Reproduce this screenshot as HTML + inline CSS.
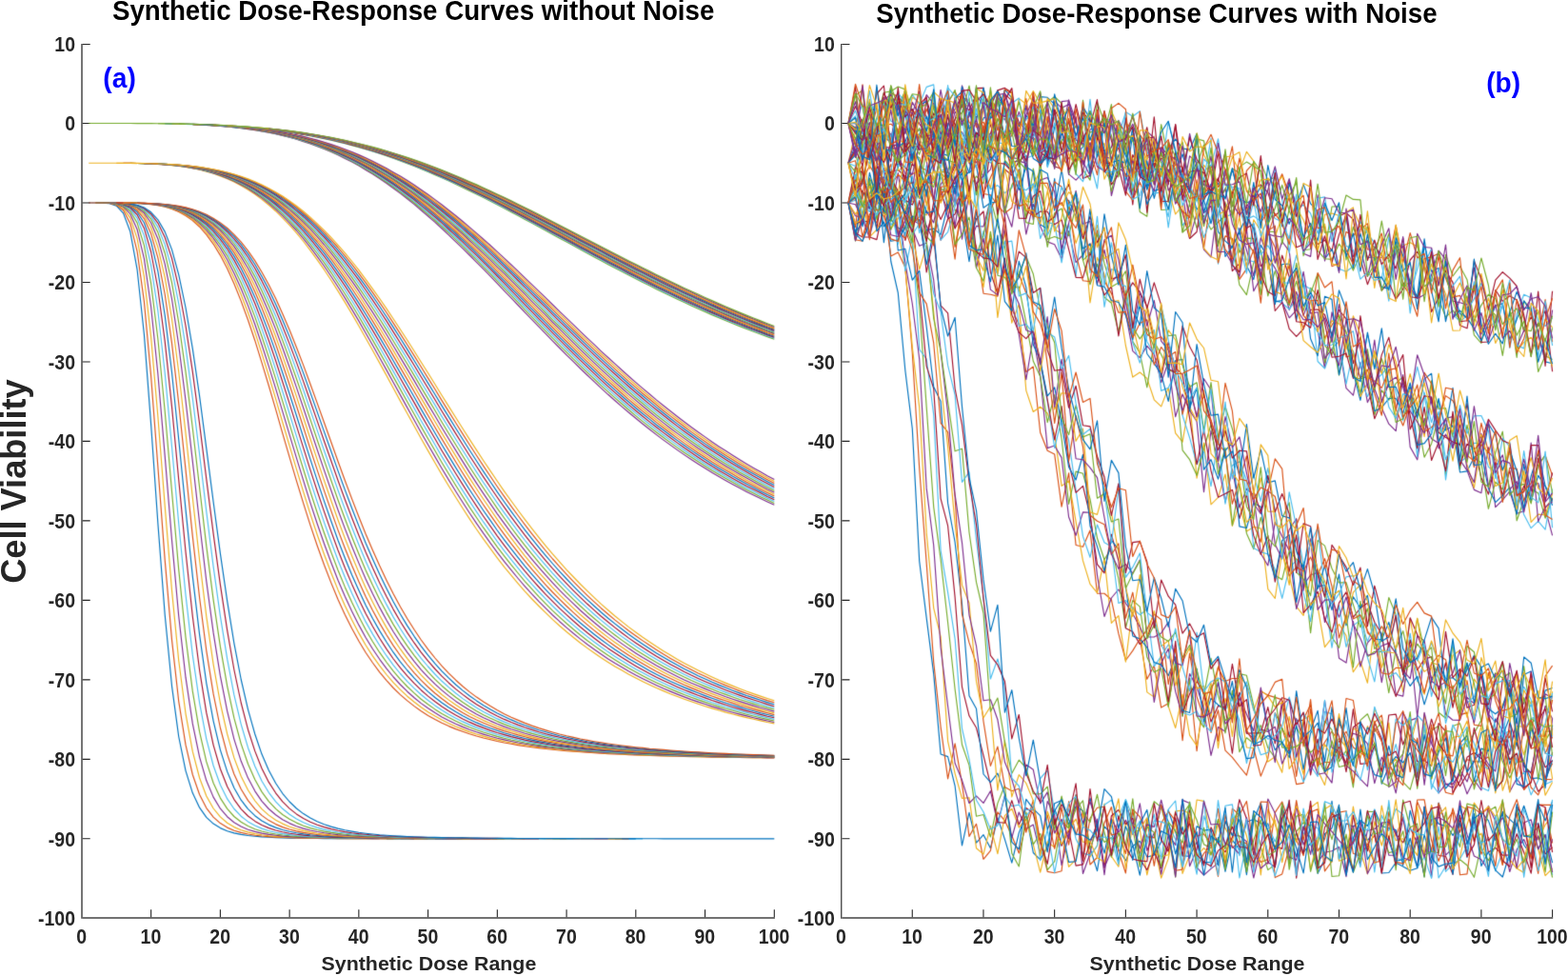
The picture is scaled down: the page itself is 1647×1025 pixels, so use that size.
<!DOCTYPE html>
<html lang="en"><head><meta charset="utf-8"><title>Synthetic Dose-Response Curves</title>
<style>html,body{margin:0;padding:0;background:#fff}svg{display:block}text{font-family:"Liberation Sans",Arial,Helvetica,sans-serif;font-weight:bold}</style></head><body>
<svg width="1647" height="1025" viewBox="0 0 1647 1025">
<rect width="1647" height="1025" fill="#fff"/>
<defs><filter id="b" x="0" y="0" width="1647" height="1025" filterUnits="userSpaceOnUse" color-interpolation-filters="sRGB"><feConvolveMatrix order="3" kernelMatrix="0.0121 0.0858 0.0121 0.0858 0.6084 0.0858 0.0121 0.0858 0.0121" divisor="1" edgeMode="none" preserveAlpha="false"/></filter></defs>
<g fill="none">
<path d="M86.00 45.90 V964.64" stroke="#262626" stroke-width="1.28"/>
<path d="M86.64 964.00 H813.90" stroke="#434343" stroke-width="1.28"/>
</g>
<g stroke="#262626" stroke-width="1.1" fill="none">
<path d="M158.64 963.36 v-8.06M231.38 963.36 v-8.06M304.12 963.36 v-8.06M376.86 963.36 v-8.06M449.60 963.36 v-8.06M522.34 963.36 v-8.06M595.08 963.36 v-8.06M667.82 963.36 v-8.06M740.56 963.36 v-8.06M813.30 963.36 v-8.06M86.64 880.82 h8.06M86.64 797.34 h8.06M86.64 713.85 h8.06M86.64 630.37 h8.06M86.64 546.89 h8.06M86.64 463.41 h8.06M86.64 379.93 h8.06M86.64 296.45 h8.06M86.64 212.96 h8.06M86.64 129.48 h8.06M86.64 46.50 h8.06"/>
</g>
<text transform="translate(85.70 990.60) scale(1 1.1170)" font-size="19.5" text-anchor="middle" fill="#262626">0</text>
<text transform="translate(158.44 990.60) scale(1 1.1170)" font-size="19.5" text-anchor="middle" fill="#262626">10</text>
<text transform="translate(231.18 990.60) scale(1 1.1170)" font-size="19.5" text-anchor="middle" fill="#262626">20</text>
<text transform="translate(303.92 990.60) scale(1 1.1170)" font-size="19.5" text-anchor="middle" fill="#262626">30</text>
<text transform="translate(376.66 990.60) scale(1 1.1170)" font-size="19.5" text-anchor="middle" fill="#262626">40</text>
<text transform="translate(449.40 990.60) scale(1 1.1170)" font-size="19.5" text-anchor="middle" fill="#262626">50</text>
<text transform="translate(522.14 990.60) scale(1 1.1170)" font-size="19.5" text-anchor="middle" fill="#262626">60</text>
<text transform="translate(594.88 990.60) scale(1 1.1170)" font-size="19.5" text-anchor="middle" fill="#262626">70</text>
<text transform="translate(667.62 990.60) scale(1 1.1170)" font-size="19.5" text-anchor="middle" fill="#262626">80</text>
<text transform="translate(740.36 990.60) scale(1 1.1170)" font-size="19.5" text-anchor="middle" fill="#262626">90</text>
<text transform="translate(813.10 990.60) scale(1 1.1170)" font-size="19.5" text-anchor="middle" fill="#262626">100</text>
<text transform="translate(79.00 972.20) scale(1 1.1170)" font-size="19.5" text-anchor="end" fill="#262626">-100</text>
<text transform="translate(79.00 888.72) scale(1 1.1170)" font-size="19.5" text-anchor="end" fill="#262626">-90</text>
<text transform="translate(79.00 805.24) scale(1 1.1170)" font-size="19.5" text-anchor="end" fill="#262626">-80</text>
<text transform="translate(79.00 721.75) scale(1 1.1170)" font-size="19.5" text-anchor="end" fill="#262626">-70</text>
<text transform="translate(79.00 638.27) scale(1 1.1170)" font-size="19.5" text-anchor="end" fill="#262626">-60</text>
<text transform="translate(79.00 554.79) scale(1 1.1170)" font-size="19.5" text-anchor="end" fill="#262626">-50</text>
<text transform="translate(79.00 471.31) scale(1 1.1170)" font-size="19.5" text-anchor="end" fill="#262626">-40</text>
<text transform="translate(79.00 387.83) scale(1 1.1170)" font-size="19.5" text-anchor="end" fill="#262626">-30</text>
<text transform="translate(79.00 304.35) scale(1 1.1170)" font-size="19.5" text-anchor="end" fill="#262626">-20</text>
<text transform="translate(79.00 220.86) scale(1 1.1170)" font-size="19.5" text-anchor="end" fill="#262626">-10</text>
<text transform="translate(79.00 137.38) scale(1 1.1170)" font-size="19.5" text-anchor="end" fill="#262626">0</text>
<text transform="translate(79.00 53.90) scale(1 1.1170)" font-size="19.5" text-anchor="end" fill="#262626">10</text>
<g fill="none" stroke-width="1.15" stroke-linejoin="round" filter="url(#b)">
<path d="M93.2,213.0 100.4,213.0 107.7,213.1 115.0,213.7 122.3,216.2 129.5,223.9 136.8,243.3 144.1,283.2 151.4,351.3 158.6,445.4 165.9,550.0 173.2,645.5 180.5,720.3 187.7,773.5 195.0,809.3 202.3,832.8 209.6,848.2 216.8,858.3 224.1,865.1 231.4,869.6 238.7,872.7 245.9,874.9 253.2,876.4 260.5,877.5 267.8,878.3 275.0,878.9 282.3,879.3 289.6,879.7 296.8,879.9 304.1,880.1 311.4,880.2 318.7,880.3 325.9,880.4 333.2,880.5 340.5,880.6 347.8,880.6 355.0,880.6 362.3,880.7 369.6,880.7 376.9,880.7 384.1,880.7 391.4,880.7 398.7,880.8M406.0,880.8 413.2,880.8 420.5,880.8 427.8,880.8 435.1,880.8M464.1,880.8 471.4,880.8 478.7,880.8 486.0,880.8M551.4,880.8 558.7,880.8 566.0,880.8 573.3,880.8" stroke="#0072BD"/>
<path d="M100.4,213.0 107.7,213.0 115.0,213.5 122.3,215.3 129.5,220.8 136.8,234.7 144.1,264.1 151.4,316.6 158.6,394.7 165.9,490.6 173.2,587.9 180.5,671.9 187.7,736.3 195.0,782.2 202.3,813.5 209.6,834.5 216.8,848.6 224.1,858.1 231.4,864.6 238.7,869.1 245.9,872.2 253.2,874.4 260.5,876.0 267.8,877.2 275.0,878.0 282.3,878.6 289.6,879.1 296.8,879.5 304.1,879.7 311.4,880.0 318.7,880.1 325.9,880.3 333.2,880.4 340.5,880.4 347.8,880.5 355.0,880.6 362.3,880.6 369.6,880.6 376.9,880.7 384.1,880.7 391.4,880.7 398.7,880.7 406.0,880.7 413.2,880.7M420.5,880.8 427.8,880.8 435.1,880.8 442.3,880.8 449.6,880.8M478.7,880.8 486.0,880.8 493.2,880.8 500.5,880.8" stroke="#D95319"/>
<path d="M100.4,213.0 107.7,213.0 115.0,213.3 122.3,214.7 129.5,218.7 136.8,228.8 144.1,250.6 151.4,290.7 158.6,353.9 165.9,437.8 173.2,531.3 180.5,619.9 187.7,693.5 195.0,749.3 202.3,789.2 209.6,817.0 216.8,836.0 224.1,849.0 231.4,857.9 238.7,864.2 245.9,868.6 253.2,871.7 260.5,873.9 267.8,875.6 275.0,876.8 282.3,877.7 289.6,878.4 296.8,878.9 304.1,879.3 311.4,879.6 318.7,879.8 325.9,880.0 333.2,880.1 340.5,880.3 347.8,880.4 355.0,880.4 362.3,880.5 369.6,880.6 376.9,880.6 384.1,880.6 391.4,880.7 398.7,880.7 406.0,880.7 413.2,880.7 420.5,880.7M435.1,880.8 442.3,880.8 449.6,880.8 456.9,880.8 464.1,880.8" stroke="#EDB120"/>
<path d="M107.7,213.0 115.0,213.2 122.3,214.2 129.5,217.2 136.8,224.7 144.1,241.0 151.4,271.7 158.6,322.0 165.9,393.0 173.2,478.6 180.5,567.0 187.7,646.7 195.0,711.2 202.3,759.9 209.6,795.1 216.8,819.8 224.1,837.1 231.4,849.2 238.7,857.7 245.9,863.7 253.2,868.0 260.5,871.2 267.8,873.4 275.0,875.1 282.3,876.4 289.6,877.3 296.8,878.1 304.1,878.6 311.4,879.1 318.7,879.4 325.9,879.7 333.2,879.9 340.5,880.0 347.8,880.2 355.0,880.3 362.3,880.4 369.6,880.4 376.9,880.5 384.1,880.5 391.4,880.6 398.7,880.6 406.0,880.6 413.2,880.7 420.5,880.7 427.8,880.7 435.1,880.7M456.9,880.8 464.1,880.8 471.4,880.8 478.7,880.8M493.2,880.8 500.5,880.8 507.8,880.8 515.1,880.8M587.8,880.8 595.1,880.8 602.4,880.8 609.6,880.8" stroke="#7E2F8E"/>
<path d="M100.4,213.0 107.7,213.0 115.0,213.2 122.3,213.9 129.5,216.2 136.8,221.8 144.1,234.1 151.4,257.7 158.6,297.4 165.9,356.2 173.2,431.8 180.5,516.0 187.7,597.9 195.0,669.1 202.3,725.9 209.6,768.7 216.8,799.9 224.1,822.2 231.4,838.1 238.7,849.4 245.9,857.5 253.2,863.3 260.5,867.5 267.8,870.7 275.0,873.0 282.3,874.7 289.6,876.0 296.8,877.0 304.1,877.8 311.4,878.4 318.7,878.8 325.9,879.2 333.2,879.5 340.5,879.7 347.8,879.9 355.0,880.1 362.3,880.2 369.6,880.3 376.9,880.4 384.1,880.4 391.4,880.5 398.7,880.5 406.0,880.6 413.2,880.6 420.5,880.6 427.8,880.7 435.1,880.7 442.3,880.7 449.6,880.7 456.9,880.7 464.1,880.7 471.4,880.7 478.7,880.8 486.0,880.8 493.2,880.8M507.8,880.8 515.1,880.8 522.3,880.8 529.6,880.8" stroke="#77AC30"/>
<path d="M107.7,213.0 115.0,213.1 122.3,213.7 129.5,215.4 136.8,219.7 144.1,229.2 151.4,247.4 158.6,278.7 165.9,326.7 173.2,391.8 180.5,469.0 187.7,549.5 195.0,624.5 202.3,687.9 209.6,738.1 216.8,776.1 224.1,804.0 231.4,824.3 238.7,838.9 245.9,849.5 253.2,857.2 260.5,862.9 267.8,867.0 275.0,870.1 282.3,872.5 289.6,874.2 296.8,875.6 304.1,876.6 311.4,877.5 318.7,878.1 325.9,878.6 333.2,879.0 340.5,879.3 347.8,879.6 355.0,879.8 362.3,879.9 369.6,880.1 376.9,880.2 384.1,880.3 391.4,880.4 398.7,880.4 406.0,880.5 413.2,880.5 420.5,880.6 427.8,880.6 435.1,880.6 442.3,880.7 449.6,880.7 456.9,880.7 464.1,880.7 471.4,880.7 478.7,880.7 486.0,880.7 493.2,880.8 500.5,880.8 507.8,880.8M522.3,880.8 529.6,880.8 536.9,880.8 544.2,880.8 551.4,880.8M580.5,880.8 587.8,880.8 595.1,880.8 602.4,880.8M653.3,880.8 660.5,880.8 667.8,880.8 675.1,880.8" stroke="#4DBEEE"/>
<path d="M107.7,213.0 115.0,213.1 122.3,213.5 129.5,214.9 136.8,218.2 144.1,225.5 151.4,239.7 158.6,264.5 165.9,303.5 173.2,358.4 180.5,427.1 187.7,503.5 195.0,579.2 202.3,647.2 209.6,703.8 216.8,748.4 224.1,782.3 231.4,807.5 238.7,826.0 245.9,839.6 253.2,849.6 260.5,857.0 267.8,862.4 275.0,866.5 282.3,869.6 289.6,872.0 296.8,873.8 304.1,875.2 311.4,876.3 318.7,877.1 325.9,877.8 333.2,878.3 340.5,878.8 347.8,879.1 355.0,879.4 362.3,879.6 369.6,879.8 376.9,880.0 384.1,880.1 391.4,880.2 398.7,880.3 406.0,880.4 413.2,880.4 420.5,880.5 427.8,880.5 435.1,880.6 442.3,880.6 449.6,880.6 456.9,880.6 464.1,880.7 471.4,880.7 478.7,880.7 486.0,880.7 493.2,880.7 500.5,880.7 507.8,880.7 515.1,880.8 522.3,880.8M536.9,880.8 544.2,880.8 551.4,880.8 558.7,880.8 566.0,880.8" stroke="#A2142F"/>
<path d="M100.4,213.0 107.7,213.0 115.0,213.1 122.3,213.4 129.5,214.5 136.8,217.1 144.1,222.8 151.4,234.0 158.6,253.6 165.9,285.2 173.2,331.1 180.5,391.0 187.7,461.2 195.0,534.9 202.3,605.1 209.6,666.6 216.8,717.3 224.1,757.1 231.4,787.6 238.7,810.4 245.9,827.5 253.2,840.2 260.5,849.6 267.8,856.7 275.0,862.0 282.3,866.1 289.6,869.1 296.8,871.5 304.1,873.3 311.4,874.8 318.7,875.9 325.9,876.8 333.2,877.5 340.5,878.1 347.8,878.5 355.0,878.9 362.3,879.2 369.6,879.5 376.9,879.7 384.1,879.8 391.4,880.0 398.7,880.1 406.0,880.2 413.2,880.3 420.5,880.4 427.8,880.4 435.1,880.5 442.3,880.5 449.6,880.6 456.9,880.6 464.1,880.6 471.4,880.6 478.7,880.7 486.0,880.7 493.2,880.7 500.5,880.7 507.8,880.7 515.1,880.7 522.3,880.7 529.6,880.7 536.9,880.8M646.0,880.8 653.3,880.8 660.5,880.8 667.8,880.8" stroke="#0072BD"/>
<path d="M115.0,213.0 122.3,213.3 129.5,214.2 136.8,216.2 144.1,220.8 151.4,229.6 158.6,245.3 165.9,270.9 173.2,309.0 180.5,360.4 187.7,423.4 195.0,493.1 202.3,563.1 209.6,627.7 216.8,683.3 224.1,728.7 231.4,764.5 238.7,792.1 245.9,813.0 253.2,828.8 260.5,840.6 267.8,849.6 275.0,856.4 282.3,861.6 289.6,865.6 296.8,868.6 304.1,871.0 311.4,872.9 318.7,874.4 325.9,875.5 333.2,876.5 340.5,877.2 347.8,877.8 355.0,878.3 362.3,878.7 369.6,879.0 376.9,879.3 384.1,879.5 391.4,879.7 398.7,879.9 406.0,880.0 413.2,880.1 420.5,880.2 427.8,880.3 435.1,880.4 442.3,880.4 449.6,880.5 456.9,880.5 464.1,880.5 471.4,880.6 478.7,880.6 486.0,880.6 493.2,880.7 500.5,880.7 507.8,880.7 515.1,880.7 522.3,880.7 529.6,880.7M573.3,880.8 580.5,880.8 587.8,880.8 595.1,880.8M638.7,880.8 646.0,880.8 653.3,880.8 660.5,880.8" stroke="#D95319"/>
<path d="M107.7,213.0 115.0,213.0 122.3,213.3 129.5,213.9 136.8,215.6 144.1,219.2 151.4,226.3 158.6,239.0 165.9,259.8 173.2,291.2 180.5,335.0 187.7,390.5 195.0,454.8 202.3,522.5 209.6,588.2 216.8,647.3 224.1,697.6 231.4,738.5 238.7,770.9 245.9,795.9 253.2,815.2 260.5,829.8 267.8,841.0 275.0,849.6 282.3,856.1 289.6,861.2 296.8,865.1 304.1,868.2 311.4,870.5 318.7,872.4 325.9,873.9 333.2,875.2 340.5,876.1 347.8,876.9 355.0,877.5 362.3,878.1 369.6,878.5 376.9,878.8 384.1,879.1 391.4,879.4 398.7,879.6 406.0,879.8 413.2,879.9 420.5,880.0 427.8,880.1 435.1,880.2 442.3,880.3 449.6,880.4 456.9,880.4 464.1,880.5 471.4,880.5 478.7,880.5 486.0,880.6 493.2,880.6 500.5,880.6 507.8,880.6 515.1,880.7 522.3,880.7 529.6,880.7 536.9,880.7 544.2,880.7 551.4,880.7 558.7,880.7 566.0,880.7 573.3,880.7 580.5,880.8 587.8,880.8M624.2,880.8 631.4,880.8 638.7,880.8 646.0,880.8 653.3,880.8" stroke="#EDB120"/>
<path d="M115.0,213.0 122.3,213.2 129.5,213.8 136.8,215.1 144.1,218.0 151.4,223.8 158.6,234.0 165.9,251.0 173.2,277.1 180.5,314.0 187.7,362.4 195.0,420.5 202.3,484.4 209.6,549.3 216.8,610.3 224.1,664.4 231.4,709.9 238.7,746.9 245.9,776.3 253.2,799.3 260.5,817.1 267.8,830.8 275.0,841.3 282.3,849.5 289.6,855.8 296.8,860.8 304.1,864.6 311.4,867.7 318.7,870.1 325.9,872.0 333.2,873.5 340.5,874.8 347.8,875.8 355.0,876.6 362.3,877.2 369.6,877.8 376.9,878.3 384.1,878.6 391.4,878.9 398.7,879.2 406.0,879.4 413.2,879.6 420.5,879.8 427.8,879.9 435.1,880.0 442.3,880.1 449.6,880.2 456.9,880.3 464.1,880.3 471.4,880.4 478.7,880.5 486.0,880.5 493.2,880.5 500.5,880.6 507.8,880.6 515.1,880.6 522.3,880.6 529.6,880.7 536.9,880.7 544.2,880.7 551.4,880.7 558.7,880.7 566.0,880.7M609.6,880.8 616.9,880.8 624.2,880.8 631.4,880.8 638.7,880.8" stroke="#7E2F8E"/>
<path d="M107.7,213.0 115.0,213.0 122.3,213.2 129.5,213.6 136.8,214.7 144.1,217.1 151.4,221.8 158.6,230.2 165.9,244.1 173.2,265.7 180.5,296.9 187.7,338.6 195.0,390.3 202.3,449.5 209.6,512.0 216.8,573.4 224.1,629.9 231.4,679.2 238.7,720.6 245.9,754.2 253.2,781.1 260.5,802.2 267.8,818.7 275.0,831.6 282.3,841.6 289.6,849.4 296.8,855.5 304.1,860.3 311.4,864.1 318.7,867.2 325.9,869.6 333.2,871.5 340.5,873.1 347.8,874.4 355.0,875.4 362.3,876.3 369.6,877.0 376.9,877.5 384.1,878.0 391.4,878.4 398.7,878.8 406.0,879.0 413.2,879.3 420.5,879.5 427.8,879.7 435.1,879.8 442.3,879.9 449.6,880.0 456.9,880.1 464.1,880.2 471.4,880.3 478.7,880.3 486.0,880.4 493.2,880.4 500.5,880.5 507.8,880.5 515.1,880.5 522.3,880.6 529.6,880.6 536.9,880.6 544.2,880.6 551.4,880.7M580.5,880.7 587.8,880.7 595.1,880.7 602.4,880.7 609.6,880.7 616.9,880.7 624.2,880.8" stroke="#77AC30"/>
<path d="M115.0,213.0 122.3,213.1 129.5,213.5 136.8,214.4 144.1,216.4 151.4,220.2 158.6,227.1 165.9,238.6 173.2,256.6 180.5,282.9 187.7,318.7 195.0,364.3 202.3,418.1 209.6,477.1 216.8,537.3 224.1,594.9 231.4,647.1 238.7,692.2 245.9,729.9 253.2,760.6 260.5,785.2 267.8,804.8 275.0,820.2 282.3,832.3 289.6,841.8 296.8,849.3 304.1,855.2 311.4,859.9 318.7,863.7 325.9,866.7 333.2,869.1 340.5,871.1 347.8,872.7 355.0,874.0 362.3,875.0 369.6,875.9 376.9,876.6 384.1,877.3 391.4,877.8 398.7,878.2 406.0,878.5 413.2,878.9 420.5,879.1 427.8,879.3 435.1,879.5 442.3,879.7 449.6,879.8 456.9,879.9 464.1,880.0 471.4,880.1 478.7,880.2 486.0,880.3 493.2,880.3 500.5,880.4 507.8,880.4 515.1,880.5 522.3,880.5 529.6,880.5 536.9,880.6 544.2,880.6 551.4,880.6 558.7,880.6 566.0,880.6 573.3,880.7 580.5,880.7 587.8,880.7 595.1,880.7" stroke="#4DBEEE"/>
<path d="M122.3,213.1 129.5,213.4 136.8,214.2 144.1,215.8 151.4,219.0 158.6,224.7 165.9,234.3 173.2,249.3 180.5,271.4 187.7,302.1 195.0,342.0 202.3,390.3 209.6,445.1 216.8,503.0 224.1,560.4 231.4,614.2 238.7,662.2 245.9,703.5 253.2,738.0 260.5,766.2 267.8,788.9 275.0,807.0 282.3,821.4 289.6,832.8 296.8,841.9 304.1,849.1 311.4,854.9 318.7,859.5 325.9,863.2 333.2,866.2 340.5,868.6 347.8,870.6 355.0,872.2 362.3,873.6 369.6,874.7 376.9,875.6 384.1,876.3 391.4,877.0 398.7,877.5 406.0,878.0 413.2,878.3 420.5,878.7 427.8,878.9 435.1,879.2 442.3,879.4 449.6,879.5 456.9,879.7 464.1,879.8 471.4,879.9 478.7,880.0 486.0,880.1 493.2,880.2 500.5,880.3 507.8,880.3 515.1,880.4 522.3,880.4 529.6,880.5 536.9,880.5 544.2,880.5 551.4,880.6" stroke="#A2142F"/>
<path d="M107.7,213.0 115.0,213.0 122.3,213.1 129.5,213.4 136.8,214.0 144.1,215.4 151.4,218.0 158.6,222.8 165.9,230.8 173.2,243.4 180.5,262.1 187.7,288.4 195.0,323.0 202.3,366.1 209.6,416.2 216.8,470.9 224.1,527.0 231.4,581.3 238.7,631.4 245.9,675.6 253.2,713.5 260.5,745.1 267.8,771.0 275.0,792.1 282.3,809.0 289.6,822.5 296.8,833.3 304.1,842.0 311.4,849.0 318.7,854.6 325.9,859.1 333.2,862.7 340.5,865.7 347.8,868.1 355.0,870.1 362.3,871.8 369.6,873.1 376.9,874.3 384.1,875.2 391.4,876.0 398.7,876.7 406.0,877.2 413.2,877.7 420.5,878.1 427.8,878.5 435.1,878.8 442.3,879.0 449.6,879.2 456.9,879.4 464.1,879.6 471.4,879.7 478.7,879.8 486.0,879.9 493.2,880.0 500.5,880.1 507.8,880.2 515.1,880.3 522.3,880.3 529.6,880.4 536.9,880.4 544.2,880.5 551.4,880.5 558.7,880.5 566.0,880.5 573.3,880.6 580.5,880.6 587.8,880.6 595.1,880.6 602.4,880.6 609.6,880.7 616.9,880.7 624.2,880.7 631.4,880.7 638.7,880.7 646.0,880.7 653.3,880.7 660.5,880.7 667.8,880.7 675.1,880.7 682.4,880.7 689.6,880.8 696.9,880.8 704.2,880.8 711.5,880.8 718.7,880.8 726.0,880.8 733.3,880.8 740.6,880.8 747.8,880.8 755.1,880.8 762.4,880.8 769.7,880.8 776.9,880.8 784.2,880.8 791.5,880.8 798.8,880.8 806.0,880.8 813.3,880.8" stroke="#0072BD"/>
<path d="M122.3,213.0 129.5,213.1 136.8,213.2 144.1,213.5 151.4,214.0 158.6,214.7 165.9,215.7 173.2,217.3 180.5,219.5 187.7,222.5 195.0,226.5 202.3,231.6 209.6,238.2 216.8,246.3 224.1,256.3 231.4,268.1 238.7,282.0 245.9,298.0 253.2,316.1 260.5,336.0 267.8,357.7 275.0,380.8 282.3,405.0 289.6,429.9 296.8,455.1 304.1,480.1 311.4,504.8 318.7,528.6 325.9,551.4 333.2,573.0 340.5,593.3 347.8,612.1 355.0,629.5 362.3,645.5 369.6,660.0 376.9,673.2 384.1,685.2 391.4,696.0 398.7,705.8 406.0,714.6 413.2,722.5 420.5,729.6 427.8,735.9 435.1,741.6 442.3,746.8 449.6,751.4 456.9,755.5 464.1,759.2 471.4,762.6 478.7,765.6 486.0,768.3 493.2,770.8 500.5,773.0 507.8,775.0 515.1,776.8 522.3,778.5 529.6,780.0 536.9,781.3 544.2,782.6 551.4,783.7 558.7,784.7 566.0,785.6 573.3,786.5 580.5,787.3 587.8,788.0 595.1,788.7 602.4,789.3 609.6,789.8 616.9,790.3 624.2,790.8 631.4,791.2 638.7,791.6 646.0,792.0 653.3,792.3 660.5,792.6 667.8,792.9 675.1,793.2 682.4,793.5 689.6,793.7 696.9,793.9 704.2,794.1 711.5,794.3 718.7,794.5 726.0,794.6 733.3,794.8 740.6,794.9 747.8,795.1 755.1,795.2 762.4,795.3 769.7,795.4 776.9,795.5 784.2,795.6 791.5,795.7 798.8,795.8 806.0,795.9 813.3,795.9" stroke="#D95319"/>
<path d="M129.5,213.1 136.8,213.2 144.1,213.5 151.4,213.9 158.6,214.5 165.9,215.5 173.2,217.0 180.5,219.0 187.7,221.8 195.0,225.4 202.3,230.2 209.6,236.3 216.8,243.9 224.1,253.1 231.4,264.2 238.7,277.2 245.9,292.2 253.2,309.3 260.5,328.2 267.8,348.9 275.0,371.1 282.3,394.5 289.6,418.8 296.8,443.5 304.1,468.2 311.4,492.7 318.7,516.6 325.9,539.6 333.2,561.5 340.5,582.2 347.8,601.5 355.0,619.4 362.3,635.9 369.6,651.1 376.9,664.9 384.1,677.5 391.4,688.9 398.7,699.2 406.0,708.5 413.2,716.9 420.5,724.4 427.8,731.2 435.1,737.3 442.3,742.8 449.6,747.7 456.9,752.1 464.1,756.1 471.4,759.7 478.7,763.0 486.0,765.9 493.2,768.6 500.5,771.0 507.8,773.1 515.1,775.1 522.3,776.9 529.6,778.5 536.9,780.0 544.2,781.3 551.4,782.5 558.7,783.6 566.0,784.6 573.3,785.6 580.5,786.4 587.8,787.2 595.1,787.9 602.4,788.6 609.6,789.2 616.9,789.7 624.2,790.2 631.4,790.7 638.7,791.1 646.0,791.5 653.3,791.9 660.5,792.2 667.8,792.6 675.1,792.9 682.4,793.1 689.6,793.4 696.9,793.6 704.2,793.8 711.5,794.0 718.7,794.2 726.0,794.4 733.3,794.6 740.6,794.7 747.8,794.9 755.1,795.0 762.4,795.1 769.7,795.2 776.9,795.4 784.2,795.5 791.5,795.6 798.8,795.6 806.0,795.7 813.3,795.8" stroke="#EDB120"/>
<path d="M144.1,213.4 151.4,213.8 158.6,214.4 165.9,215.3 173.2,216.7 180.5,218.5 187.7,221.1 195.0,224.5 202.3,228.9 209.6,234.6 216.8,241.6 224.1,250.2 231.4,260.5 238.7,272.7 245.9,286.9 253.2,303.0 260.5,320.9 267.8,340.7 275.0,362.0 282.3,384.6 289.6,408.1 296.8,432.2 304.1,456.6 311.4,480.9 318.7,504.7 325.9,527.8 333.2,550.0 340.5,571.0 347.8,590.7 355.0,609.2 362.3,626.2 369.6,642.0 376.9,656.4 384.1,669.5 391.4,681.5 398.7,692.3 406.0,702.1 413.2,711.0 420.5,719.0 427.8,726.2 435.1,732.7 442.3,738.6 449.6,743.8 456.9,748.6 464.1,752.9 471.4,756.7 478.7,760.2 486.0,763.4 493.2,766.2 500.5,768.8 507.8,771.1 515.1,773.3 522.3,775.2 529.6,776.9 536.9,778.5 544.2,780.0 551.4,781.3 558.7,782.5 566.0,783.6 573.3,784.6 580.5,785.5 587.8,786.3 595.1,787.1 602.4,787.8 609.6,788.5 616.9,789.1 624.2,789.6 631.4,790.1 638.7,790.6 646.0,791.0 653.3,791.4 660.5,791.8 667.8,792.1 675.1,792.5 682.4,792.8 689.6,793.0 696.9,793.3 704.2,793.5 711.5,793.8 718.7,794.0 726.0,794.1 733.3,794.3 740.6,794.5 747.8,794.7 755.1,794.8 762.4,794.9 769.7,795.1 776.9,795.2 784.2,795.3 791.5,795.4 798.8,795.5 806.0,795.6 813.3,795.7" stroke="#7E2F8E"/>
<path d="M136.8,213.2 144.1,213.4 151.4,213.7 158.6,214.3 165.9,215.2 173.2,216.4 180.5,218.1 187.7,220.5 195.0,223.7 202.3,227.8 209.6,233.0 216.8,239.5 224.1,247.5 231.4,257.2 238.7,268.6 245.9,281.9 253.2,297.1 260.5,314.1 267.8,332.9 275.0,353.3 282.3,375.1 289.6,397.9 296.8,421.4 304.1,445.4 311.4,469.3 318.7,493.0 325.9,516.2 333.2,538.5 340.5,559.8 347.8,579.9 355.0,598.8 362.3,616.4 369.6,632.6 376.9,647.6 384.1,661.3 391.4,673.8 398.7,685.2 406.0,695.5 413.2,704.9 420.5,713.4 427.8,721.0 435.1,727.9 442.3,734.2 449.6,739.8 456.9,744.9 464.1,749.4 471.4,753.6 478.7,757.3 486.0,760.7 493.2,763.8 500.5,766.5 507.8,769.0 515.1,771.3 522.3,773.4 529.6,775.3 536.9,777.0 544.2,778.5 551.4,780.0 558.7,781.2 566.0,782.4 573.3,783.5 580.5,784.5 587.8,785.4 595.1,786.3 602.4,787.0 609.6,787.7 616.9,788.4 624.2,789.0 631.4,789.5 638.7,790.0 646.0,790.5 653.3,790.9 660.5,791.3 667.8,791.7 675.1,792.1 682.4,792.4 689.6,792.7 696.9,792.9 704.2,793.2 711.5,793.4 718.7,793.7 726.0,793.9 733.3,794.1 740.6,794.3 747.8,794.4 755.1,794.6 762.4,794.7 769.7,794.9 776.9,795.0 784.2,795.1 791.5,795.2 798.8,795.3 806.0,795.4 813.3,795.5" stroke="#77AC30"/>
<path d="M129.5,213.1 136.8,213.2 144.1,213.4 151.4,213.7 158.6,214.2 165.9,215.0 173.2,216.1 180.5,217.8 187.7,219.9 195.0,222.9 202.3,226.7 209.6,231.5 216.8,237.6 224.1,245.1 231.4,254.1 238.7,264.8 245.9,277.3 253.2,291.6 260.5,307.8 267.8,325.6 275.0,345.1 282.3,366.0 289.6,388.1 296.8,411.0 304.1,434.5 311.4,458.1 318.7,481.6 325.9,504.7 333.2,527.1 340.5,548.6 347.8,569.0 355.0,588.3 362.3,606.3 369.6,623.1 376.9,638.6 384.1,652.9 391.4,665.9 398.7,677.8 406.0,688.7 413.2,698.6 420.5,707.5 427.8,715.6 435.1,722.9 442.3,729.5 449.6,735.5 456.9,740.9 464.1,745.8 471.4,750.2 478.7,754.2 486.0,757.9 493.2,761.1 500.5,764.1 507.8,766.8 515.1,769.3 522.3,771.5 529.6,773.5 536.9,775.3 544.2,777.0 551.4,778.5 558.7,779.9 566.0,781.2 573.3,782.4 580.5,783.5 587.8,784.4 595.1,785.3 602.4,786.2 609.6,786.9 616.9,787.6 624.2,788.3 631.4,788.9 638.7,789.4 646.0,789.9 653.3,790.4 660.5,790.8 667.8,791.2 675.1,791.6 682.4,792.0 689.6,792.3 696.9,792.6 704.2,792.9 711.5,793.1 718.7,793.4 726.0,793.6 733.3,793.8 740.6,794.0 747.8,794.2 755.1,794.4 762.4,794.5 769.7,794.7 776.9,794.8 784.2,794.9 791.5,795.1 798.8,795.2 806.0,795.3 813.3,795.4" stroke="#4DBEEE"/>
<path d="M122.3,213.0 129.5,213.0 136.8,213.1 144.1,213.3 151.4,213.6 158.6,214.1 165.9,214.9 173.2,215.9 180.5,217.4 187.7,219.4 195.0,222.2 202.3,225.7 209.6,230.2 216.8,235.9 224.1,242.9 231.4,251.3 238.7,261.3 245.9,273.1 253.2,286.5 260.5,301.8 267.8,318.8 275.0,337.4 282.3,357.5 289.6,378.8 296.8,401.0 304.1,423.9 311.4,447.1 318.7,470.4 325.9,493.3 333.2,515.8 340.5,537.4 347.8,558.1 355.0,577.8 362.3,596.2 369.6,613.4 376.9,629.4 384.1,644.2 391.4,657.8 398.7,670.3 406.0,681.6 413.2,692.0 420.5,701.4 427.8,709.9 435.1,717.7 442.3,724.7 449.6,731.1 456.9,736.8 464.1,742.0 471.4,746.7 478.7,751.0 486.0,754.9 493.2,758.4 500.5,761.6 507.8,764.4 515.1,767.1 522.3,769.5 529.6,771.6 536.9,773.6 544.2,775.4 551.4,777.1 558.7,778.6 566.0,779.9 573.3,781.2 580.5,782.4 587.8,783.4 595.1,784.4 602.4,785.3 609.6,786.1 616.9,786.9 624.2,787.5 631.4,788.2 638.7,788.8 646.0,789.3 653.3,789.8 660.5,790.3 667.8,790.7 675.1,791.1 682.4,791.5 689.6,791.9 696.9,792.2 704.2,792.5 711.5,792.8 718.7,793.0 726.0,793.3 733.3,793.5 740.6,793.7 747.8,793.9 755.1,794.1 762.4,794.3 769.7,794.4 776.9,794.6 784.2,794.7 791.5,794.9 798.8,795.0 806.0,795.1 813.3,795.2" stroke="#A2142F"/>
<path d="M144.1,213.3 151.4,213.6 158.6,214.0 165.9,214.7 173.2,215.7 180.5,217.1 187.7,219.0 195.0,221.5 202.3,224.8 209.6,229.0 216.8,234.3 224.1,240.8 231.4,248.7 238.7,258.1 245.9,269.1 253.2,281.8 260.5,296.3 267.8,312.4 275.0,330.2 282.3,349.4 289.6,369.9 296.8,391.5 304.1,413.8 311.4,436.5 318.7,459.5 325.9,482.2 333.2,504.6 340.5,526.4 347.8,547.3 355.0,567.2 362.3,586.0 369.6,603.7 376.9,620.1 384.1,635.4 391.4,649.5 398.7,662.4 406.0,674.3 413.2,685.2 420.5,695.1 427.8,704.0 435.1,712.2 442.3,719.6 449.6,726.4 456.9,732.5 464.1,738.0 471.4,743.0 478.7,747.6 486.0,751.7 493.2,755.5 500.5,758.9 507.8,762.0 515.1,764.8 522.3,767.3 529.6,769.7 536.9,771.8 544.2,773.7 551.4,775.5 558.7,777.1 566.0,778.6 573.3,779.9 580.5,781.2 587.8,782.3 595.1,783.4 602.4,784.3 609.6,785.2 616.9,786.0 624.2,786.8 631.4,787.5 638.7,788.1 646.0,788.7 653.3,789.2 660.5,789.7 667.8,790.2 675.1,790.7 682.4,791.1 689.6,791.4 696.9,791.8 704.2,792.1 711.5,792.4 718.7,792.7 726.0,793.0 733.3,793.2 740.6,793.4 747.8,793.6 755.1,793.8 762.4,794.0 769.7,794.2 776.9,794.4 784.2,794.5 791.5,794.7 798.8,794.8 806.0,794.9 813.3,795.1" stroke="#0072BD"/>
<path d="M136.8,213.1 144.1,213.3 151.4,213.5 158.6,214.0 165.9,214.6 173.2,215.5 180.5,216.8 187.7,218.6 195.0,220.9 202.3,224.0 209.6,227.9 216.8,232.8 224.1,238.9 231.4,246.3 238.7,255.1 245.9,265.4 253.2,277.4 260.5,291.1 267.8,306.4 275.0,323.3 282.3,341.7 289.6,361.5 296.8,382.3 304.1,404.0 311.4,426.3 318.7,448.8 325.9,471.4 333.2,493.6 340.5,515.4 347.8,536.4 355.0,556.6 362.3,575.7 369.6,593.8 376.9,610.7 384.1,626.4 391.4,641.0 398.7,654.4 406.0,666.8 413.2,678.1 420.5,688.5 427.8,698.0 435.1,706.6 442.3,714.4 449.6,721.5 456.9,728.0 464.1,733.8 471.4,739.2 478.7,744.0 486.0,748.4 493.2,752.4 500.5,756.0 507.8,759.3 515.1,762.3 522.3,765.1 529.6,767.6 536.9,769.8 544.2,771.9 551.4,773.8 558.7,775.6 566.0,777.1 573.3,778.6 580.5,779.9 587.8,781.2 595.1,782.3 602.4,783.3 609.6,784.3 616.9,785.1 624.2,785.9 631.4,786.7 638.7,787.4 646.0,788.0 653.3,788.6 660.5,789.1 667.8,789.7 675.1,790.1 682.4,790.6 689.6,791.0 696.9,791.3 704.2,791.7 711.5,792.0 718.7,792.3 726.0,792.6 733.3,792.9 740.6,793.1 747.8,793.3 755.1,793.6 762.4,793.8 769.7,794.0 776.9,794.1 784.2,794.3 791.5,794.5 798.8,794.6 806.0,794.7 813.3,794.9" stroke="#D95319"/>
<path d="M129.5,213.0 136.8,213.1 144.1,213.3 151.4,213.5 158.6,213.9 165.9,214.5 173.2,215.3 180.5,216.5 187.7,218.2 195.0,220.4 202.3,223.2 209.6,226.9 216.8,231.5 224.1,237.2 231.4,244.1 238.7,252.3 245.9,262.1 253.2,273.3 260.5,286.3 267.8,300.8 275.0,316.9 282.3,334.5 289.6,353.5 296.8,373.6 304.1,394.7 311.4,416.4 318.7,438.5 325.9,460.8 333.2,482.9 340.5,504.6 347.8,525.7 355.0,546.0 362.3,565.4 369.6,583.8 376.9,601.1 384.1,617.3 391.4,632.3 398.7,646.2 406.0,659.1 413.2,670.9 420.5,681.7 427.8,691.6 435.1,700.7 442.3,708.9 449.6,716.4 456.9,723.3 464.1,729.5 471.4,735.1 478.7,740.3 486.0,744.9 493.2,749.2 500.5,753.1 507.8,756.6 515.1,759.8 522.3,762.7 529.6,765.4 536.9,767.8 544.2,770.0 551.4,772.1 558.7,773.9 566.0,775.6 573.3,777.2 580.5,778.6 587.8,779.9 595.1,781.1 602.4,782.2 609.6,783.3 616.9,784.2 624.2,785.1 631.4,785.9 638.7,786.6 646.0,787.3 653.3,787.9 660.5,788.5 667.8,789.1 675.1,789.6 682.4,790.0 689.6,790.5 696.9,790.9 704.2,791.3 711.5,791.6 718.7,791.9 726.0,792.2 733.3,792.5 740.6,792.8 747.8,793.0 755.1,793.3 762.4,793.5 769.7,793.7 776.9,793.9 784.2,794.1 791.5,794.2 798.8,794.4 806.0,794.5 813.3,794.7" stroke="#EDB120"/>
<path d="M151.4,213.5 158.6,213.8 165.9,214.4 173.2,215.2 180.5,216.3 187.7,217.8 195.0,219.9 202.3,222.5 209.6,225.9 216.8,230.2 224.1,235.5 231.4,242.0 238.7,249.8 245.9,258.9 253.2,269.6 260.5,281.7 267.8,295.5 275.0,310.9 282.3,327.7 289.6,345.9 296.8,365.3 304.1,385.7 311.4,406.9 318.7,428.5 325.9,450.4 333.2,472.3 340.5,493.9 347.8,515.0 355.0,535.5 362.3,555.1 369.6,573.8 376.9,591.4 384.1,608.0 391.4,623.5 398.7,637.9 406.0,651.2 413.2,663.5 420.5,674.8 427.8,685.1 435.1,694.6 442.3,703.3 449.6,711.2 456.9,718.4 464.1,724.9 471.4,730.9 478.7,736.4 486.0,741.3 493.2,745.8 500.5,749.9 507.8,753.7 515.1,757.1 522.3,760.2 529.6,763.1 536.9,765.7 544.2,768.0 551.4,770.2 558.7,772.2 566.0,774.0 573.3,775.7 580.5,777.2 587.8,778.6 595.1,779.9 602.4,781.1 609.6,782.2 616.9,783.2 624.2,784.1 631.4,785.0 638.7,785.8 646.0,786.5 653.3,787.2 660.5,787.8 667.8,788.4 675.1,789.0 682.4,789.5 689.6,789.9 696.9,790.4 704.2,790.8 711.5,791.2 718.7,791.5 726.0,791.8 733.3,792.1 740.6,792.4 747.8,792.7 755.1,793.0 762.4,793.2 769.7,793.4 776.9,793.6 784.2,793.8 791.5,794.0 798.8,794.2 806.0,794.3 813.3,794.5" stroke="#7E2F8E"/>
<path d="M136.8,213.1 144.1,213.2 151.4,213.4 158.6,213.8 165.9,214.3 173.2,215.0 180.5,216.1 187.7,217.5 195.0,219.4 202.3,221.9 209.6,225.1 216.8,229.1 224.1,234.1 231.4,240.1 238.7,247.4 245.9,256.0 253.2,266.0 260.5,277.5 267.8,290.6 275.0,305.2 282.3,321.2 289.6,338.7 296.8,357.4 304.1,377.1 311.4,397.7 318.7,418.9 325.9,440.4 333.2,462.0 340.5,483.4 347.8,504.5 355.0,525.0 362.3,544.8 369.6,563.8 376.9,581.7 384.1,598.7 391.4,614.5 398.7,629.4 406.0,643.1 413.2,655.9 420.5,667.6 427.8,678.4 435.1,688.3 442.3,697.4 449.6,705.7 456.9,713.3 464.1,720.2 471.4,726.5 478.7,732.3 486.0,737.5 493.2,742.3 500.5,746.7 507.8,750.7 515.1,754.3 522.3,757.6 529.6,760.6 536.9,763.4 544.2,765.9 551.4,768.2 558.7,770.4 566.0,772.3 573.3,774.1 580.5,775.7 587.8,777.2 595.1,778.6 602.4,779.9 609.6,781.1 616.9,782.2 624.2,783.2 631.4,784.1 638.7,784.9 646.0,785.7 653.3,786.5 660.5,787.1 667.8,787.8 675.1,788.3 682.4,788.9 689.6,789.4 696.9,789.9 704.2,790.3 711.5,790.7 718.7,791.1 726.0,791.4 733.3,791.8 740.6,792.1 747.8,792.4 755.1,792.6 762.4,792.9 769.7,793.1 776.9,793.3 784.2,793.5 791.5,793.7 798.8,793.9 806.0,794.1 813.3,794.3" stroke="#77AC30"/>
<path d="M151.4,213.4 158.6,213.7 165.9,214.2 173.2,214.9 180.5,215.9 187.7,217.2 195.0,219.0 202.3,221.3 209.6,224.3 216.8,228.0 224.1,232.7 231.4,238.4 238.7,245.2 245.9,253.3 253.2,262.7 260.5,273.6 267.8,286.0 275.0,299.9 282.3,315.2 289.6,331.9 296.8,349.8 304.1,368.9 311.4,388.9 318.7,409.5 325.9,430.6 333.2,451.9 340.5,473.2 347.8,494.2 355.0,514.7 362.3,534.6 369.6,553.7 376.9,572.0 384.1,589.2 391.4,605.5 398.7,620.7 406.0,634.9 413.2,648.1 420.5,660.3 427.8,671.5 435.1,681.8 442.3,691.3 449.6,700.0 456.9,708.0 464.1,715.3 471.4,721.9 478.7,728.0 486.0,733.6 493.2,738.6 500.5,743.2 507.8,747.5 515.1,751.3 522.3,754.9 529.6,758.1 536.9,761.0 544.2,763.7 551.4,766.2 558.7,768.5 566.0,770.5 573.3,772.4 580.5,774.2 587.8,775.8 595.1,777.3 602.4,778.6 609.6,779.9 616.9,781.1 624.2,782.1 631.4,783.1 638.7,784.0 646.0,784.9 653.3,785.7 660.5,786.4 667.8,787.1 675.1,787.7 682.4,788.3 689.6,788.8 696.9,789.3 704.2,789.8 711.5,790.2 718.7,790.6 726.0,791.0 733.3,791.3 740.6,791.7 747.8,792.0 755.1,792.3 762.4,792.5 769.7,792.8 776.9,793.0 784.2,793.3 791.5,793.5 798.8,793.7 806.0,793.8 813.3,794.0" stroke="#4DBEEE"/>
<path d="M144.1,213.2 151.4,213.4 158.6,213.7 165.9,214.1 173.2,214.8 180.5,215.7 187.7,216.9 195.0,218.6 202.3,220.8 209.6,223.5 216.8,227.1 224.1,231.4 231.4,236.8 238.7,243.2 245.9,250.8 253.2,259.7 260.5,270.0 267.8,281.7 275.0,294.9 282.3,309.5 289.6,325.4 296.8,342.7 304.1,361.1 311.4,380.4 318.7,400.6 325.9,421.2 333.2,442.1 340.5,463.2 347.8,484.0 355.0,504.5 362.3,524.5 369.6,543.7 376.9,562.2 384.1,579.7 391.4,596.3 398.7,611.9 406.0,626.5 413.2,640.1 420.5,652.7 427.8,664.4 435.1,675.2 442.3,685.1 449.6,694.2 456.9,702.5 464.1,710.2 471.4,717.2 478.7,723.6 486.0,729.4 493.2,734.8 500.5,739.7 507.8,744.1 515.1,748.2 522.3,752.0 529.6,755.4 536.9,758.5 544.2,761.4 551.4,764.0 558.7,766.4 566.0,768.7 573.3,770.7 580.5,772.6 587.8,774.3 595.1,775.9 602.4,777.3 609.6,778.6 616.9,779.9 624.2,781.0 631.4,782.1 638.7,783.1 646.0,784.0 653.3,784.8 660.5,785.6 667.8,786.3 675.1,787.0 682.4,787.6 689.6,788.2 696.9,788.7 704.2,789.2 711.5,789.7 718.7,790.1 726.0,790.5 733.3,790.9 740.6,791.3 747.8,791.6 755.1,791.9 762.4,792.2 769.7,792.5 776.9,792.7 784.2,793.0 791.5,793.2 798.8,793.4 806.0,793.6 813.3,793.8" stroke="#A2142F"/>
<path d="M158.6,213.6 165.9,214.0 173.2,214.6 180.5,215.5 187.7,216.7 195.0,218.2 202.3,220.3 209.6,222.9 216.8,226.2 224.1,230.3 231.4,235.3 238.7,241.3 245.9,248.4 253.2,256.8 260.5,266.6 267.8,277.7 275.0,290.2 282.3,304.1 289.6,319.4 296.8,335.9 304.1,353.6 311.4,372.4 318.7,391.9 325.9,412.1 333.2,432.6 340.5,453.4 347.8,474.0 355.0,494.4 362.3,514.4 369.6,533.8 376.9,552.4 384.1,570.2 391.4,587.1 398.7,603.1 406.0,618.0 413.2,632.0 420.5,645.0 427.8,657.1 435.1,668.3 442.3,678.6 449.6,688.1 456.9,696.9 464.1,704.9 471.4,712.2 478.7,719.0 486.0,725.1 493.2,730.8 500.5,735.9 507.8,740.7 515.1,745.0 522.3,749.0 529.6,752.6 536.9,755.9 544.2,759.0 551.4,761.8 558.7,764.3 566.0,766.7 573.3,768.8 580.5,770.8 587.8,772.7 595.1,774.3 602.4,775.9 609.6,777.3 616.9,778.7 624.2,779.9 631.4,781.0 638.7,782.1 646.0,783.0 653.3,783.9 660.5,784.7 667.8,785.5 675.1,786.2 682.4,786.9 689.6,787.5 696.9,788.1 704.2,788.6 711.5,789.1 718.7,789.6 726.0,790.0 733.3,790.4 740.6,790.8 747.8,791.2 755.1,791.5 762.4,791.8 769.7,792.1 776.9,792.4 784.2,792.6 791.5,792.9 798.8,793.1 806.0,793.3 813.3,793.5" stroke="#0072BD"/>
<path d="M93.2,213.0 100.4,213.0 107.7,213.0 115.0,213.0 122.3,213.0 129.5,213.0 136.8,213.1 144.1,213.2 151.4,213.3 158.6,213.6 165.9,214.0 173.2,214.5 180.5,215.3 187.7,216.4 195.0,217.9 202.3,219.8 209.6,222.2 216.8,225.3 224.1,229.2 231.4,233.9 238.7,239.5 245.9,246.3 253.2,254.2 260.5,263.4 267.8,273.9 275.0,285.8 282.3,299.0 289.6,313.6 296.8,329.5 304.1,346.6 311.4,364.7 318.7,383.6 325.9,403.3 333.2,423.4 340.5,443.8 347.8,464.2 355.0,484.5 362.3,504.5 369.6,523.9 376.9,542.7 384.1,560.7 391.4,577.8 398.7,594.1 406.0,609.4 413.2,623.8 420.5,637.2 427.8,649.7 435.1,661.3 442.3,672.0 449.6,681.9 456.9,691.0 464.1,699.4 471.4,707.1 478.7,714.2 486.0,720.7 493.2,726.6 500.5,732.1 507.8,737.0 515.1,741.6 522.3,745.8 529.6,749.7 536.9,753.2 544.2,756.4 551.4,759.4 558.7,762.1 566.0,764.6 573.3,766.9 580.5,769.0 587.8,771.0 595.1,772.8 602.4,774.4 609.6,776.0 616.9,777.4 624.2,778.7 631.4,779.9 638.7,781.0 646.0,782.0 653.3,783.0 660.5,783.9 667.8,784.7 675.1,785.4 682.4,786.2 689.6,786.8 696.9,787.4 704.2,788.0 711.5,788.5 718.7,789.0 726.0,789.5 733.3,789.9 740.6,790.3 747.8,790.7 755.1,791.1 762.4,791.4 769.7,791.7 776.9,792.0 784.2,792.3 791.5,792.6 798.8,792.8 806.0,793.0 813.3,793.2" stroke="#D95319"/>
<path d="M122.3,171.3 129.5,171.3 136.8,171.4 144.1,171.6M165.9,172.4 173.2,173.0 180.5,173.6 187.7,174.5 195.0,175.5 202.3,176.8 209.6,178.3 216.8,180.2 224.1,182.3 231.4,184.9 238.7,187.8 245.9,191.1 253.2,194.9 260.5,199.2 267.8,204.0 275.0,209.4 282.3,215.3 289.6,221.7 296.8,228.8 304.1,236.4 311.4,244.7 318.7,253.5 325.9,262.8 333.2,272.8 340.5,283.2 347.8,294.2 355.0,305.6 362.3,317.4 369.6,329.6 376.9,342.2 384.1,355.0 391.4,368.0 398.7,381.1 406.0,394.4 413.2,407.7 420.5,421.1 427.8,434.3 435.1,447.5 442.3,460.5 449.6,473.4 456.9,486.0 464.1,498.4 471.4,510.5 478.7,522.3 486.0,533.8 493.2,544.9 500.5,555.7 507.8,566.2 515.1,576.2 522.3,585.9 529.6,595.3 536.9,604.2 544.2,612.8 551.4,621.1 558.7,629.0 566.0,636.5 573.3,643.7 580.5,650.6 587.8,657.2 595.1,663.5 602.4,669.5 609.6,675.2 616.9,680.6 624.2,685.8 631.4,690.7 638.7,695.4 646.0,699.9 653.3,704.1 660.5,708.2 667.8,712.0 675.1,715.7 682.4,719.2 689.6,722.5 696.9,725.6 704.2,728.7 711.5,731.5 718.7,734.2 726.0,736.8 733.3,739.3 740.6,741.7 747.8,743.9 755.1,746.0 762.4,748.1 769.7,750.0 776.9,751.9 784.2,753.6 791.5,755.3 798.8,756.9 806.0,758.5 813.3,759.9" stroke="#EDB120"/>
<path d="M151.4,171.7 158.6,172.0 165.9,172.4 173.2,172.9 180.5,173.5 187.7,174.3 195.0,175.3 202.3,176.6 209.6,178.0 216.8,179.8 224.1,181.9 231.4,184.3 238.7,187.1 245.9,190.3 253.2,194.0 260.5,198.1 267.8,202.8 275.0,207.9 282.3,213.6 289.6,219.9 296.8,226.7 304.1,234.1 311.4,242.0 318.7,250.6 325.9,259.7 333.2,269.3 340.5,279.5 347.8,290.2 355.0,301.3 362.3,312.9 369.6,324.9 376.9,337.1 384.1,349.7 391.4,362.5 398.7,375.5 406.0,388.6 413.2,401.7 420.5,414.9 427.8,428.1 435.1,441.2 442.3,454.2 449.6,467.0 456.9,479.6 464.1,492.0 471.4,504.1 478.7,516.0 486.0,527.5 493.2,538.7 500.5,549.6 507.8,560.2 515.1,570.3 522.3,580.2 529.6,589.6 536.9,598.7 544.2,607.5 551.4,615.8 558.7,623.9 566.0,631.6 573.3,638.9 580.5,646.0 587.8,652.7 595.1,659.1 602.4,665.3 609.6,671.1 616.9,676.7 624.2,682.0 631.4,687.0 638.7,691.9 646.0,696.5 653.3,700.8 660.5,705.0 667.8,709.0 675.1,712.7 682.4,716.3 689.6,719.7 696.9,723.0 704.2,726.1 711.5,729.1 718.7,731.9 726.0,734.6 733.3,737.1 740.6,739.5 747.8,741.9 755.1,744.1 762.4,746.2 769.7,748.2 776.9,750.1 784.2,751.9 791.5,753.7 798.8,755.4 806.0,757.0 813.3,758.5" stroke="#7E2F8E"/>
<path d="M136.8,171.4 144.1,171.5 151.4,171.7 158.6,172.0 165.9,172.3 173.2,172.8 180.5,173.4 187.7,174.2 195.0,175.2 202.3,176.4 209.6,177.8 216.8,179.5 224.1,181.5 231.4,183.8 238.7,186.5 245.9,189.6 253.2,193.1 260.5,197.1 267.8,201.6 275.0,206.5 282.3,212.0 289.6,218.1 296.8,224.7 304.1,231.8 311.4,239.5 318.7,247.8 325.9,256.7 333.2,266.0 340.5,275.9 347.8,286.3 355.0,297.2 362.3,308.5 369.6,320.2 376.9,332.2 384.1,344.6 391.4,357.1 398.7,369.9 406.0,382.8 413.2,395.9 420.5,408.9 427.8,422.0 435.1,435.0 442.3,447.9 449.6,460.7 456.9,473.3 464.1,485.7 471.4,497.8 478.7,509.7 486.0,521.3 493.2,532.6 500.5,543.5 507.8,554.2 515.1,564.4 522.3,574.4 529.6,583.9 536.9,593.2 544.2,602.0 551.4,610.6 558.7,618.7 566.0,626.6 573.3,634.1 580.5,641.3 587.8,648.1 595.1,654.7 602.4,661.0 609.6,667.0 616.9,672.7 624.2,678.1 631.4,683.3 638.7,688.3 646.0,693.0 653.3,697.5 660.5,701.8 667.8,705.8 675.1,709.7 682.4,713.4 689.6,716.9 696.9,720.3 704.2,723.5 711.5,726.6 718.7,729.5 726.0,732.2 733.3,734.9 740.6,737.4 747.8,739.8 755.1,742.1 762.4,744.3 769.7,746.3 776.9,748.3 784.2,750.2 791.5,752.0 798.8,753.7 806.0,755.4 813.3,757.0" stroke="#77AC30"/>
<path d="M151.4,171.7 158.6,172.0 165.9,172.3 173.2,172.8 180.5,173.3 187.7,174.1 195.0,175.0 202.3,176.2 209.6,177.5 216.8,179.2 224.1,181.1 231.4,183.3 238.7,185.9 245.9,188.9 253.2,192.3 260.5,196.1 267.8,200.4 275.0,205.2 282.3,210.5 289.6,216.4 296.8,222.7 304.1,229.6 311.4,237.1 318.7,245.2 325.9,253.7 333.2,262.9 340.5,272.5 347.8,282.6 355.0,293.2 362.3,304.3 369.6,315.7 376.9,327.5 384.1,339.6 391.4,351.9 398.7,364.5 406.0,377.3 413.2,390.1 420.5,403.0 427.8,416.0 435.1,428.9 442.3,441.7 449.6,454.4 456.9,467.0 464.1,479.4 471.4,491.5 478.7,503.4 486.0,515.1 493.2,526.4 500.5,537.4 507.8,548.2 515.1,558.5 522.3,568.6 529.6,578.3 536.9,587.6 544.2,596.6 551.4,605.3 558.7,613.6 566.0,621.5 573.3,629.2 580.5,636.5 587.8,643.5 595.1,650.2 602.4,656.6 609.6,662.8 616.9,668.6 624.2,674.2 631.4,679.5 638.7,684.6 646.0,689.4 653.3,694.1 660.5,698.5 667.8,702.7 675.1,706.6 682.4,710.5 689.6,714.1 696.9,717.6 704.2,720.9 711.5,724.0 718.7,727.0 726.0,729.9 733.3,732.6 740.6,735.2 747.8,737.7 755.1,740.0 762.4,742.3 769.7,744.4 776.9,746.5 784.2,748.4 791.5,750.3 798.8,752.1 806.0,753.8 813.3,755.4" stroke="#4DBEEE"/>
<path d="M129.5,171.3 136.8,171.4 144.1,171.5 151.4,171.7M165.9,172.3 173.2,172.7 180.5,173.3 187.7,174.0 195.0,174.9 202.3,176.0 209.6,177.3 216.8,178.8 224.1,180.7 231.4,182.9 238.7,185.4 245.9,188.2 253.2,191.5 260.5,195.2 267.8,199.3 275.0,204.0 282.3,209.1 289.6,214.7 296.8,220.9 304.1,227.6 311.4,234.8 318.7,242.6 325.9,250.9 333.2,259.8 340.5,269.2 347.8,279.0 355.0,289.4 362.3,300.1 369.6,311.3 376.9,322.9 384.1,334.7 391.4,346.9 398.7,359.2 406.0,371.8 413.2,384.5 420.5,397.3 427.8,410.1 435.1,422.9 442.3,435.6 449.6,448.3 456.9,460.8 464.1,473.2 471.4,485.3 478.7,497.2 486.0,508.9 493.2,520.3 500.5,531.4 507.8,542.2 515.1,552.6 522.3,562.8 529.6,572.6 536.9,582.0 544.2,591.1 551.4,599.9 558.7,608.4 566.0,616.5 573.3,624.3 580.5,631.7 587.8,638.9 595.1,645.7 602.4,652.3 609.6,658.5 616.9,664.5 624.2,670.2 631.4,675.7 638.7,680.9 646.0,685.8 653.3,690.6 660.5,695.1 667.8,699.4 675.1,703.5 682.4,707.4 689.6,711.2 696.9,714.7 704.2,718.1 711.5,721.4 718.7,724.5 726.0,727.4 733.3,730.2 740.6,732.9 747.8,735.5 755.1,737.9 762.4,740.2 769.7,742.5 776.9,744.6 784.2,746.6 791.5,748.5 798.8,750.4 806.0,752.2 813.3,753.8" stroke="#A2142F"/>
<path d="M144.1,171.5 151.4,171.7 158.6,171.9 165.9,172.2 173.2,172.6 180.5,173.2 187.7,173.9 195.0,174.7 202.3,175.8 209.6,177.0 216.8,178.6 224.1,180.3 231.4,182.4 238.7,184.8 245.9,187.6 253.2,190.7 260.5,194.3 267.8,198.3 275.0,202.8 282.3,207.7 289.6,213.2 296.8,219.1 304.1,225.6 311.4,232.6 318.7,240.1 325.9,248.2 333.2,256.8 340.5,265.9 347.8,275.6 355.0,285.6 362.3,296.2 369.6,307.1 376.9,318.4 384.1,330.0 391.4,341.9 398.7,354.1 406.0,366.5 413.2,379.0 420.5,391.6 427.8,404.3 435.1,417.0 442.3,429.6 449.6,442.2 456.9,454.7 464.1,467.0 471.4,479.1 478.7,491.1 486.0,502.8 493.2,514.2 500.5,525.3 507.8,536.2 515.1,546.7 522.3,557.0 529.6,566.9 536.9,576.4 544.2,585.7 551.4,594.6 558.7,603.1 566.0,611.4 573.3,619.3 580.5,626.9 587.8,634.2 595.1,641.1 602.4,647.8 609.6,654.2 616.9,660.3 624.2,666.2 631.4,671.8 638.7,677.1 646.0,682.2 653.3,687.0 660.5,691.7 667.8,696.1 675.1,700.3 682.4,704.4 689.6,708.2 696.9,711.9 704.2,715.4 711.5,718.7 718.7,721.9 726.0,724.9 733.3,727.8 740.6,730.6 747.8,733.2 755.1,735.8 762.4,738.2 769.7,740.5 776.9,742.6 784.2,744.7 791.5,746.7 798.8,748.7 806.0,750.5 813.3,752.2" stroke="#0072BD"/>
<path d="M165.9,172.2 173.2,172.6 180.5,173.1 187.7,173.8 195.0,174.6 202.3,175.6 209.6,176.8 216.8,178.3 224.1,180.0 231.4,182.0 238.7,184.3 245.9,187.0 253.2,190.0 260.5,193.5 267.8,197.3 275.0,201.6 282.3,206.4 289.6,211.7 296.8,217.4 304.1,223.7 311.4,230.5 318.7,237.8 325.9,245.6 333.2,254.0 340.5,262.9 347.8,272.2 355.0,282.0 362.3,292.3 369.6,303.0 376.9,314.0 384.1,325.4 391.4,337.1 398.7,349.1 406.0,361.3 413.2,373.6 420.5,386.1 427.8,398.6 435.1,411.2 442.3,423.7 449.6,436.2 456.9,448.7 464.1,460.9 471.4,473.0 478.7,485.0 486.0,496.7 493.2,508.1 500.5,519.3 507.8,530.2 515.1,540.9 522.3,551.2 529.6,561.2 536.9,570.8 544.2,580.2 551.4,589.2 558.7,597.9 566.0,606.2 573.3,614.3 580.5,622.0 587.8,629.4 595.1,636.5 602.4,643.3 609.6,649.9 616.9,656.1 624.2,662.1 631.4,667.8 638.7,673.3 646.0,678.5 653.3,683.5 660.5,688.2 667.8,692.8 675.1,697.1 682.4,701.2 689.6,705.2 696.9,709.0 704.2,712.6 711.5,716.0 718.7,719.3 726.0,722.4 733.3,725.4 740.6,728.2 747.8,731.0 755.1,733.6 762.4,736.0 769.7,738.4 776.9,740.7 784.2,742.8 791.5,744.9 798.8,746.9 806.0,748.8 813.3,750.6" stroke="#D95319"/>
<path d="M136.8,171.4 144.1,171.5 151.4,171.6 158.6,171.8 165.9,172.1 173.2,172.5 180.5,173.0 187.7,173.7 195.0,174.5 202.3,175.4 209.6,176.6 216.8,178.0 224.1,179.7 231.4,181.6 238.7,183.8 245.9,186.4 253.2,189.3 260.5,192.6 267.8,196.4 275.0,200.5 282.3,205.1 289.6,210.2 296.8,215.8 304.1,221.9 311.4,228.4 318.7,235.5 325.9,243.1 333.2,251.3 340.5,259.9 347.8,269.0 355.0,278.6 362.3,288.6 369.6,299.0 376.9,309.8 384.1,321.0 391.4,332.5 398.7,344.2 406.0,356.2 413.2,368.4 420.5,380.7 427.8,393.0 435.1,405.5 442.3,417.9 449.6,430.4 456.9,442.7 464.1,454.9 471.4,467.0 478.7,478.9 486.0,490.6 493.2,502.1 500.5,513.3 507.8,524.3 515.1,535.0 522.3,545.4 529.6,555.4 536.9,565.2 544.2,574.7 551.4,583.8 558.7,592.6 566.0,601.1 573.3,609.2 580.5,617.1 587.8,624.6 595.1,631.9 602.4,638.8 609.6,645.5 616.9,651.8 624.2,657.9 631.4,663.8 638.7,669.4 646.0,674.7 653.3,679.8 660.5,684.7 667.8,689.4 675.1,693.8 682.4,698.1 689.6,702.1 696.9,706.0 704.2,709.7 711.5,713.2 718.7,716.6 726.0,719.8 733.3,722.9 740.6,725.8 747.8,728.6 755.1,731.3 762.4,733.9 769.7,736.3 776.9,738.6 784.2,740.9 791.5,743.0 798.8,745.1 806.0,747.0 813.3,748.9" stroke="#EDB120"/>
<path d="M151.4,171.6 158.6,171.8 165.9,172.1 173.2,172.5 180.5,173.0 187.7,173.6 195.0,174.3 202.3,175.3 209.6,176.4 216.8,177.8 224.1,179.4 231.4,181.2 238.7,183.4 245.9,185.8 253.2,188.7 260.5,191.9 267.8,195.5 275.0,199.5 282.3,203.9 289.6,208.8 296.8,214.2 304.1,220.1 311.4,226.5 318.7,233.4 325.9,240.7 333.2,248.6 340.5,257.0 347.8,265.9 355.0,275.2 362.3,285.0 369.6,295.2 376.9,305.7 384.1,316.7 391.4,327.9 398.7,339.5 406.0,351.2 413.2,363.2 420.5,375.4 427.8,387.6 435.1,399.9 442.3,412.2 449.6,424.6 456.9,436.8 464.1,449.0 471.4,461.0 478.7,472.9 486.0,484.6 493.2,496.1 500.5,507.4 507.8,518.4 515.1,529.1 522.3,539.6 529.6,549.7 536.9,559.6 544.2,569.1 551.4,578.4 558.7,587.3 566.0,595.9 573.3,604.2 580.5,612.1 587.8,619.8 595.1,627.2 602.4,634.2 609.6,641.0 616.9,647.5 624.2,653.8 631.4,659.7 638.7,665.4 646.0,670.9 653.3,676.1 660.5,681.1 667.8,685.9 675.1,690.5 682.4,694.8 689.6,699.0 696.9,703.0 704.2,706.8 711.5,710.4 718.7,713.9 726.0,717.2 733.3,720.3 740.6,723.4 747.8,726.3 755.1,729.0 762.4,731.7 769.7,734.2 776.9,736.6 784.2,738.9 791.5,741.1 798.8,743.2 806.0,745.2 813.3,747.1" stroke="#7E2F8E"/>
<path d="M144.1,171.5 151.4,171.6 158.6,171.8 165.9,172.1 173.2,172.4 180.5,172.9 187.7,173.5 195.0,174.2 202.3,175.1 209.6,176.2 216.8,177.5 224.1,179.1 231.4,180.8 238.7,182.9 245.9,185.3 253.2,188.0 260.5,191.1 267.8,194.6 275.0,198.5 282.3,202.8 289.6,207.5 296.8,212.7 304.1,218.4 311.4,224.6 318.7,231.3 325.9,238.4 333.2,246.1 340.5,254.2 347.8,262.9 355.0,271.9 362.3,281.5 369.6,291.4 376.9,301.8 384.1,312.5 391.4,323.5 398.7,334.8 406.0,346.4 413.2,358.2 420.5,370.2 427.8,382.3 435.1,394.4 442.3,406.6 449.6,418.9 456.9,431.0 464.1,443.2 471.4,455.2 478.7,467.0 486.0,478.7 493.2,490.2 500.5,501.5 507.8,512.5 515.1,523.3 522.3,533.8 529.6,544.0 536.9,554.0 544.2,563.6 551.4,572.9 558.7,581.9 566.0,590.7 573.3,599.1 580.5,607.1 587.8,614.9 595.1,622.4 602.4,629.6 609.6,636.5 616.9,643.2 624.2,649.5 631.4,655.6 638.7,661.4 646.0,667.0 653.3,672.4 660.5,677.5 667.8,682.4 675.1,687.0 682.4,691.5 689.6,695.8 696.9,699.9 704.2,703.8 711.5,707.5 718.7,711.1 726.0,714.5 733.3,717.7 740.6,720.9 747.8,723.8 755.1,726.7 762.4,729.4 769.7,732.0 776.9,734.5 784.2,736.8 791.5,739.1 798.8,741.3 806.0,743.4 813.3,745.3" stroke="#77AC30"/>
<path d="M165.9,172.0 173.2,172.4 180.5,172.8 187.7,173.4 195.0,174.1 202.3,175.0 209.6,176.0 216.8,177.3 224.1,178.8 231.4,180.5 238.7,182.5 245.9,184.8 253.2,187.4 260.5,190.4 267.8,193.8 275.0,197.5 282.3,201.7 289.6,206.3 296.8,211.3 304.1,216.8 311.4,222.8 318.7,229.3 325.9,236.2 333.2,243.6 340.5,251.6 347.8,260.0 355.0,268.8 362.3,278.1 369.6,287.8 376.9,297.9 384.1,308.4 391.4,319.2 398.7,330.3 406.0,341.7 413.2,353.3 420.5,365.1 427.8,377.0 435.1,389.1 442.3,401.2 449.6,413.3 456.9,425.4 464.1,437.4 471.4,449.3 478.7,461.2 486.0,472.8 493.2,484.3 500.5,495.6 507.8,506.7 515.1,517.5 522.3,528.1 529.6,538.4 536.9,548.4 544.2,558.1 551.4,567.5 558.7,576.6 566.0,585.4 573.3,593.9 580.5,602.1 587.8,610.0 595.1,617.7 602.4,625.0 609.6,632.0 616.9,638.7 624.2,645.2 631.4,651.4 638.7,657.4 646.0,663.1 653.3,668.6 660.5,673.8 667.8,678.8 675.1,683.6 682.4,688.2 689.6,692.6 696.9,696.8 704.2,700.8 711.5,704.6 718.7,708.3 726.0,711.8 733.3,715.1 740.6,718.3 747.8,721.4 755.1,724.3 762.4,727.1 769.7,729.8 776.9,732.3 784.2,734.8 791.5,737.1 798.8,739.3 806.0,741.5 813.3,743.5" stroke="#4DBEEE"/>
<path d="M151.4,171.6 158.6,171.8 165.9,172.0 173.2,172.4 180.5,172.8 187.7,173.3 195.0,174.0 202.3,174.9 209.6,175.9 216.8,177.1 224.1,178.5 231.4,180.2 238.7,182.1 245.9,184.3 253.2,186.9 260.5,189.7 267.8,193.0 275.0,196.6 282.3,200.6 289.6,205.0 296.8,209.9 304.1,215.3 311.4,221.1 318.7,227.3 325.9,234.1 333.2,241.3 340.5,249.0 347.8,257.2 355.0,265.8 362.3,274.8 369.6,284.3 376.9,294.2 384.1,304.5 391.4,315.1 398.7,326.0 406.0,337.1 413.2,348.6 420.5,360.2 427.8,371.9 435.1,383.8 442.3,395.8 449.6,407.8 456.9,419.8 464.1,431.7 471.4,443.6 478.7,455.4 486.0,467.0 493.2,478.5 500.5,489.8 507.8,500.9 515.1,511.7 522.3,522.3 529.6,532.7 536.9,542.8 544.2,552.6 551.4,562.1 558.7,571.3 566.0,580.2 573.3,588.8 580.5,597.1 587.8,605.1 595.1,612.8 602.4,620.3 609.6,627.4 616.9,634.3 624.2,640.9 631.4,647.2 638.7,653.3 646.0,659.1 653.3,664.7 660.5,670.1 667.8,675.2 675.1,680.1 682.4,684.8 689.6,689.3 696.9,693.6 704.2,697.7 711.5,701.6 718.7,705.4 726.0,709.0 733.3,712.4 740.6,715.7 747.8,718.8 755.1,721.8 762.4,724.7 769.7,727.5 776.9,730.1 784.2,732.6 791.5,735.0 798.8,737.3 806.0,739.6 813.3,741.7" stroke="#A2142F"/>
<path d="M165.9,172.0 173.2,172.3 180.5,172.7 187.7,173.3 195.0,173.9 202.3,174.7 209.6,175.7 216.8,176.9 224.1,178.2 231.4,179.8 238.7,181.7 245.9,183.9 253.2,186.3 260.5,189.1 267.8,192.2 275.0,195.7 282.3,199.6 289.6,203.9 296.8,208.6 304.1,213.8 311.4,219.4 318.7,225.5 325.9,232.0 333.2,239.0 340.5,246.5 347.8,254.5 355.0,262.9 362.3,271.7 369.6,281.0 376.9,290.6 384.1,300.6 391.4,311.0 398.7,321.7 406.0,332.7 413.2,343.9 420.5,355.3 427.8,366.9 435.1,378.7 442.3,390.5 449.6,402.4 456.9,414.2 464.1,426.1 471.4,437.9 478.7,449.7 486.0,461.3 493.2,472.7 500.5,484.0 507.8,495.1 515.1,506.0 522.3,516.6 529.6,527.0 536.9,537.2 544.2,547.0 551.4,556.6 558.7,565.9 566.0,574.9 573.3,583.6 580.5,592.0 587.8,600.2 595.1,608.0 602.4,615.6 609.6,622.8 616.9,629.8 624.2,636.5 631.4,643.0 638.7,649.2 646.0,655.1 653.3,660.8 660.5,666.3 667.8,671.5 675.1,676.5 682.4,681.3 689.6,685.9 696.9,690.3 704.2,694.5 711.5,698.6 718.7,702.4 726.0,706.1 733.3,709.7 740.6,713.0 747.8,716.3 755.1,719.4 762.4,722.3 769.7,725.2 776.9,727.9 784.2,730.5 791.5,732.9 798.8,735.3 806.0,737.6 813.3,739.8" stroke="#0072BD"/>
<path d="M180.5,172.7 187.7,173.2 195.0,173.8 202.3,174.6 209.6,175.5 216.8,176.7 224.1,178.0 231.4,179.5 238.7,181.3 245.9,183.4 253.2,185.8 260.5,188.5 267.8,191.5 275.0,194.9 282.3,198.6 289.6,202.8 296.8,207.3 304.1,212.3 311.4,217.8 318.7,223.7 325.9,230.0 333.2,236.9 340.5,244.1 347.8,251.9 355.0,260.0 362.3,268.7 369.6,277.7 376.9,287.1 384.1,296.9 391.4,307.1 398.7,317.6 406.0,328.3 413.2,339.4 420.5,350.6 427.8,362.0 435.1,373.6 442.3,385.3 449.6,397.1 456.9,408.8 464.1,420.6 471.4,432.4 478.7,444.0 486.0,455.6 493.2,467.0 500.5,478.3 507.8,489.4 515.1,500.3 522.3,511.0 529.6,521.4 536.9,531.6 544.2,541.5 551.4,551.2 558.7,560.6 566.0,569.6 573.3,578.5 580.5,587.0 587.8,595.2 595.1,603.1 602.4,610.8 609.6,618.2 616.9,625.3 624.2,632.1 631.4,638.7 638.7,645.0 646.0,651.1 653.3,656.9 660.5,662.5 667.8,667.8 675.1,672.9 682.4,677.8 689.6,682.5 696.9,687.1 704.2,691.4 711.5,695.5 718.7,699.5 726.0,703.2 733.3,706.9 740.6,710.3 747.8,713.7 755.1,716.8 762.4,719.9 769.7,722.8 776.9,725.6 784.2,728.2 791.5,730.8 798.8,733.2 806.0,735.6 813.3,737.8" stroke="#D95319"/>
<path d="M93.2,171.2 100.4,171.2 107.7,171.2 115.0,171.2 122.3,171.3 129.5,171.3 136.8,171.3 144.1,171.4 151.4,171.5 158.6,171.7 165.9,171.9 173.2,172.2 180.5,172.6 187.7,173.1 195.0,173.7 202.3,174.5 209.6,175.4 216.8,176.5 224.1,177.7 231.4,179.2 238.7,181.0 245.9,183.0 253.2,185.3 260.5,187.9 267.8,190.8 275.0,194.0 282.3,197.7 289.6,201.7 296.8,206.1 304.1,211.0 311.4,216.3 318.7,222.0 325.9,228.1 333.2,234.8 340.5,241.8 347.8,249.3 355.0,257.3 362.3,265.7 369.6,274.5 376.9,283.7 384.1,293.3 391.4,303.3 398.7,313.5 406.0,324.1 413.2,335.0 420.5,346.0 427.8,357.3 435.1,368.7 442.3,380.2 449.6,391.8 456.9,403.5 464.1,415.2 471.4,426.9 478.7,438.5 486.0,450.0 493.2,461.4 500.5,472.6 507.8,483.7 515.1,494.6 522.3,505.3 529.6,515.8 536.9,526.0 544.2,536.0 551.4,545.7 558.7,555.2 566.0,564.4 573.3,573.3 580.5,581.9 587.8,590.2 595.1,598.3 602.4,606.0 609.6,613.5 616.9,620.7 624.2,627.7 631.4,634.4 638.7,640.8 646.0,647.0 653.3,652.9 660.5,658.6 667.8,664.0 675.1,669.3 682.4,674.3 689.6,679.1 696.9,683.7 704.2,688.1 711.5,692.4 718.7,696.4 726.0,700.3 733.3,704.0 740.6,707.6 747.8,711.0 755.1,714.3 762.4,717.4 769.7,720.4 776.9,723.2 784.2,726.0 791.5,728.6 798.8,731.1 806.0,733.5 813.3,735.8" stroke="#EDB120"/>
<path d="M209.6,131.0 216.8,131.4 224.1,131.9 231.4,132.4 238.7,133.1 245.9,133.8 253.2,134.6 260.5,135.6 267.8,136.7 275.0,137.9 282.3,139.3 289.6,140.8 296.8,142.5 304.1,144.3 311.4,146.3 318.7,148.6 325.9,151.0 333.2,153.6 340.5,156.5 347.8,159.5 355.0,162.8 362.3,166.4 369.6,170.1 376.9,174.1 384.1,178.4 391.4,182.8 398.7,187.6 406.0,192.5 413.2,197.7 420.5,203.1 427.8,208.8 435.1,214.6 442.3,220.7 449.6,227.0 456.9,233.4 464.1,240.0 471.4,246.8 478.7,253.8 486.0,260.8 493.2,268.0 500.5,275.3 507.8,282.7 515.1,290.2 522.3,297.7 529.6,305.3 536.9,312.9 544.2,320.5 551.4,328.1 558.7,335.6 566.0,343.2 573.3,350.7 580.5,358.1 587.8,365.5 595.1,372.8 602.4,379.9 609.6,387.0 616.9,394.0 624.2,400.9 631.4,407.6 638.7,414.3 646.0,420.7 653.3,427.1 660.5,433.3 667.8,439.3 675.1,445.2 682.4,451.0 689.6,456.6 696.9,462.1 704.2,467.4 711.5,472.6 718.7,477.6 726.0,482.5 733.3,487.2 740.6,491.8 747.8,496.2 755.1,500.5 762.4,504.7 769.7,508.7 776.9,512.6 784.2,516.4 791.5,520.1 798.8,523.6 806.0,527.0 813.3,530.3" stroke="#7E2F8E"/>
<path d="M202.3,130.6 209.6,131.0 216.8,131.4 224.1,131.8 231.4,132.3 238.7,133.0 245.9,133.7 253.2,134.5 260.5,135.4 267.8,136.5 275.0,137.7 282.3,139.0 289.6,140.5 296.8,142.2 304.1,144.0 311.4,146.0 318.7,148.1 325.9,150.5 333.2,153.1 340.5,155.9 347.8,158.9 355.0,162.1 362.3,165.6 369.6,169.2 376.9,173.2 384.1,177.3 391.4,181.7 398.7,186.4 406.0,191.2 413.2,196.3 420.5,201.7 427.8,207.2 435.1,213.0 442.3,219.0 449.6,225.1 456.9,231.5 464.1,238.0 471.4,244.7 478.7,251.6 486.0,258.6 493.2,265.7 500.5,272.9 507.8,280.3 515.1,287.7 522.3,295.1 529.6,302.6 536.9,310.2 544.2,317.7 551.4,325.3 558.7,332.8 566.0,340.3 573.3,347.8 580.5,355.2 587.8,362.6 595.1,369.9 602.4,377.1 609.6,384.2 616.9,391.2 624.2,398.0 631.4,404.8 638.7,411.4 646.0,417.9 653.3,424.3 660.5,430.5 667.8,436.6 675.1,442.6 682.4,448.4 689.6,454.0 696.9,459.5 704.2,464.9 711.5,470.1 718.7,475.2 726.0,480.1 733.3,484.8 740.6,489.5 747.8,494.0 755.1,498.3 762.4,502.5 769.7,506.6 776.9,510.6 784.2,514.4 791.5,518.1 798.8,521.7 806.0,525.1 813.3,528.5" stroke="#77AC30"/>
<path d="M180.5,130.0 187.7,130.1 195.0,130.4 202.3,130.6 209.6,130.9 216.8,131.3 224.1,131.8 231.4,132.3 238.7,132.9 245.9,133.6 253.2,134.4 260.5,135.3 267.8,136.3 275.0,137.5 282.3,138.8 289.6,140.3 296.8,141.9 304.1,143.6 311.4,145.6 318.7,147.7 325.9,150.0 333.2,152.6 340.5,155.3 347.8,158.2 355.0,161.4 362.3,164.8 369.6,168.4 376.9,172.2 384.1,176.3 391.4,180.6 398.7,185.2 406.0,190.0 413.2,195.0 420.5,200.2 427.8,205.7 435.1,211.4 442.3,217.2 449.6,223.3 456.9,229.6 464.1,236.1 471.4,242.7 478.7,249.5 486.0,256.4 493.2,263.4 500.5,270.6 507.8,277.8 515.1,285.2 522.3,292.6 529.6,300.0 536.9,307.5 544.2,315.0 551.4,322.5 558.7,330.1 566.0,337.5 573.3,345.0 580.5,352.4 587.8,359.7 595.1,367.0 602.4,374.2 609.6,381.3 616.9,388.3 624.2,395.2 631.4,402.0 638.7,408.6 646.0,415.1 653.3,421.5 660.5,427.8 667.8,433.9 675.1,439.9 682.4,445.7 689.6,451.4 696.9,457.0 704.2,462.4 711.5,467.6 718.7,472.7 726.0,477.7 733.3,482.5 740.6,487.2 747.8,491.7 755.1,496.1 762.4,500.4 769.7,504.5 776.9,508.5 784.2,512.4 791.5,516.1 798.8,519.8 806.0,523.3 813.3,526.6" stroke="#4DBEEE"/>
<path d="M202.3,130.6 209.6,130.9 216.8,131.3 224.1,131.7 231.4,132.2 238.7,132.8 245.9,133.5 253.2,134.3 260.5,135.2 267.8,136.2 275.0,137.3 282.3,138.6 289.6,140.0 296.8,141.6 304.1,143.3 311.4,145.2 318.7,147.3 325.9,149.6 333.2,152.0 340.5,154.7 347.8,157.6 355.0,160.7 362.3,164.0 369.6,167.5 376.9,171.3 384.1,175.3 391.4,179.6 398.7,184.0 406.0,188.7 413.2,193.6 420.5,198.8 427.8,204.2 435.1,209.8 442.3,215.6 449.6,221.6 456.9,227.8 464.1,234.1 471.4,240.7 478.7,247.4 486.0,254.2 493.2,261.2 500.5,268.2 507.8,275.4 515.1,282.7 522.3,290.0 529.6,297.4 536.9,304.9 544.2,312.3 551.4,319.8 558.7,327.3 566.0,334.8 573.3,342.2 580.5,349.6 587.8,356.9 595.1,364.2 602.4,371.3 609.6,378.4 616.9,385.4 624.2,392.3 631.4,399.1 638.7,405.8 646.0,412.4 653.3,418.8 660.5,425.1 667.8,431.2 675.1,437.2 682.4,443.1 689.6,448.8 696.9,454.4 704.2,459.8 711.5,465.1 718.7,470.3 726.0,475.3 733.3,480.2 740.6,484.9 747.8,489.5 755.1,493.9 762.4,498.2 769.7,502.4 776.9,506.4 784.2,510.4 791.5,514.1 798.8,517.8 806.0,521.4 813.3,524.8" stroke="#A2142F"/>
<path d="M209.6,130.9 216.8,131.2 224.1,131.6 231.4,132.1 238.7,132.7 245.9,133.4 253.2,134.2 260.5,135.0 267.8,136.0 275.0,137.1 282.3,138.4 289.6,139.8 296.8,141.3 304.1,143.0 311.4,144.8 318.7,146.9 325.9,149.1 333.2,151.5 340.5,154.1 347.8,157.0 355.0,160.0 362.3,163.2 369.6,166.7 376.9,170.4 384.1,174.3 391.4,178.5 398.7,182.9 406.0,187.5 413.2,192.4 420.5,197.4 427.8,202.7 435.1,208.2 442.3,213.9 449.6,219.8 456.9,225.9 464.1,232.2 471.4,238.7 478.7,245.3 486.0,252.0 493.2,258.9 500.5,265.9 507.8,273.1 515.1,280.3 522.3,287.6 529.6,294.9 536.9,302.3 544.2,309.7 551.4,317.1 558.7,324.6 566.0,332.0 573.3,339.4 580.5,346.8 587.8,354.1 595.1,361.3 602.4,368.5 609.6,375.6 616.9,382.6 624.2,389.5 631.4,396.3 638.7,403.0 646.0,409.6 653.3,416.0 660.5,422.3 667.8,428.5 675.1,434.5 682.4,440.4 689.6,446.2 696.9,451.8 704.2,457.3 711.5,462.6 718.7,467.8 726.0,472.9 733.3,477.8 740.6,482.6 747.8,487.2 755.1,491.7 762.4,496.0 769.7,500.3 776.9,504.3 784.2,508.3 791.5,512.1 798.8,515.9 806.0,519.5 813.3,522.9" stroke="#0072BD"/>
<path d="M195.0,130.3 202.3,130.5 209.6,130.8 216.8,131.2 224.1,131.6 231.4,132.1 238.7,132.6 245.9,133.3 253.2,134.0 260.5,134.9 267.8,135.9 275.0,137.0 282.3,138.2 289.6,139.5 296.8,141.0 304.1,142.7 311.4,144.5 318.7,146.5 325.9,148.7 333.2,151.0 340.5,153.6 347.8,156.4 355.0,159.3 362.3,162.5 369.6,165.9 376.9,169.6 384.1,173.4 391.4,177.5 398.7,181.8 406.0,186.3 413.2,191.1 420.5,196.1 427.8,201.3 435.1,206.7 442.3,212.3 449.6,218.1 456.9,224.2 464.1,230.4 471.4,236.7 478.7,243.3 486.0,249.9 493.2,256.8 500.5,263.7 507.8,270.7 515.1,277.9 522.3,285.1 529.6,292.4 536.9,299.7 544.2,307.1 551.4,314.5 558.7,321.9 566.0,329.3 573.3,336.6 580.5,344.0 587.8,351.3 595.1,358.5 602.4,365.7 609.6,372.8 616.9,379.8 624.2,386.7 631.4,393.5 638.7,400.2 646.0,406.8 653.3,413.3 660.5,419.6 667.8,425.8 675.1,431.9 682.4,437.8 689.6,443.6 696.9,449.3 704.2,454.8 711.5,460.1 718.7,465.4 726.0,470.5 733.3,475.4 740.6,480.2 747.8,484.9 755.1,489.4 762.4,493.8 769.7,498.1 776.9,502.2 784.2,506.3 791.5,510.1 798.8,513.9 806.0,517.5 813.3,521.1" stroke="#D95319"/>
<path d="M209.6,130.8 216.8,131.1 224.1,131.5 231.4,132.0 238.7,132.6 245.9,133.2 253.2,133.9 260.5,134.8 267.8,135.7 275.0,136.8 282.3,138.0 289.6,139.3 296.8,140.8 304.1,142.4 311.4,144.2 318.7,146.1 325.9,148.2 333.2,150.6 340.5,153.1 347.8,155.8 355.0,158.7 362.3,161.8 369.6,165.1 376.9,168.7 384.1,172.5 391.4,176.5 398.7,180.7 406.0,185.2 413.2,189.8 420.5,194.7 427.8,199.9 435.1,205.2 442.3,210.7 449.6,216.5 456.9,222.4 464.1,228.5 471.4,234.8 478.7,241.3 486.0,247.9 493.2,254.6 500.5,261.5 507.8,268.4 515.1,275.5 522.3,282.7 529.6,289.9 536.9,297.2 544.2,304.5 551.4,311.8 558.7,319.2 566.0,326.6 573.3,333.9 580.5,341.2 587.8,348.5 595.1,355.7 602.4,362.9 609.6,370.0 616.9,377.0 624.2,383.9 631.4,390.7 638.7,397.4 646.0,404.0 653.3,410.5 660.5,416.9 667.8,423.1 675.1,429.2 682.4,435.2 689.6,441.0 696.9,446.7 704.2,452.2 711.5,457.6 718.7,462.9 726.0,468.0 733.3,473.0 740.6,477.9 747.8,482.6 755.1,487.2 762.4,491.6 769.7,495.9 776.9,500.1 784.2,504.2 791.5,508.1 798.8,511.9 806.0,515.6 813.3,519.2" stroke="#EDB120"/>
<path d="M224.1,131.5 231.4,132.0 238.7,132.5 245.9,133.1 253.2,133.8 260.5,134.7 267.8,135.6 275.0,136.6 282.3,137.8 289.6,139.1 296.8,140.5 304.1,142.1 311.4,143.8 318.7,145.7 325.9,147.8 333.2,150.1 340.5,152.5 347.8,155.2 355.0,158.0 362.3,161.1 369.6,164.4 376.9,167.9 384.1,171.6 391.4,175.5 398.7,179.7 406.0,184.0 413.2,188.6 420.5,193.5 427.8,198.5 435.1,203.7 442.3,209.2 449.6,214.8 456.9,220.7 464.1,226.7 471.4,232.9 478.7,239.3 486.0,245.8 493.2,252.5 500.5,259.3 507.8,266.2 515.1,273.2 522.3,280.3 529.6,287.4 536.9,294.7 544.2,301.9 551.4,309.2 558.7,316.6 566.0,323.9 573.3,331.2 580.5,338.5 587.8,345.7 595.1,352.9 602.4,360.1 609.6,367.2 616.9,374.2 624.2,381.1 631.4,387.9 638.7,394.6 646.0,401.3 653.3,407.8 660.5,414.1 667.8,420.4 675.1,426.5 682.4,432.5 689.6,438.4 696.9,444.1 704.2,449.7 711.5,455.1 718.7,460.4 726.0,465.6 733.3,470.7 740.6,475.5 747.8,480.3 755.1,484.9 762.4,489.4 769.7,493.8 776.9,498.0 784.2,502.1 791.5,506.1 798.8,509.9 806.0,513.7 813.3,517.3" stroke="#7E2F8E"/>
<path d="M209.6,130.7 216.8,131.1 224.1,131.4 231.4,131.9 238.7,132.4 245.9,133.0 253.2,133.7 260.5,134.5 267.8,135.4 275.0,136.4 282.3,137.6 289.6,138.8 296.8,140.2 304.1,141.8 311.4,143.5 318.7,145.4 325.9,147.4 333.2,149.6 340.5,152.0 347.8,154.6 355.0,157.4 362.3,160.4 369.6,163.6 376.9,167.1 384.1,170.7 391.4,174.6 398.7,178.6 406.0,182.9 413.2,187.5 420.5,192.2 427.8,197.1 435.1,202.3 442.3,207.7 449.6,213.2 456.9,219.0 464.1,225.0 471.4,231.1 478.7,237.4 486.0,243.8 493.2,250.4 500.5,257.1 507.8,263.9 515.1,270.9 522.3,277.9 529.6,285.0 536.9,292.2 544.2,299.4 551.4,306.7 558.7,313.9 566.0,321.2 573.3,328.5 580.5,335.8 587.8,343.0 595.1,350.2 602.4,357.3 609.6,364.4 616.9,371.4 624.2,378.3 631.4,385.2 638.7,391.9 646.0,398.5 653.3,405.0 660.5,411.4 667.8,417.7 675.1,423.8 682.4,429.9 689.6,435.8 696.9,441.5 704.2,447.1 711.5,452.6 718.7,458.0 726.0,463.2 733.3,468.3 740.6,473.2 747.8,478.0 755.1,482.7 762.4,487.2 769.7,491.6 776.9,495.9 784.2,500.0 791.5,504.0 798.8,507.9 806.0,511.7 813.3,515.4" stroke="#77AC30"/>
<path d="M224.1,131.4 231.4,131.8 238.7,132.4 245.9,133.0 253.2,133.6 260.5,134.4 267.8,135.3 275.0,136.3 282.3,137.4 289.6,138.6 296.8,140.0 304.1,141.5 311.4,143.2 318.7,145.0 325.9,147.0 333.2,149.2 340.5,151.5 347.8,154.1 355.0,156.8 362.3,159.8 369.6,162.9 376.9,166.3 384.1,169.8 391.4,173.6 398.7,177.6 406.0,181.9 413.2,186.3 420.5,190.9 427.8,195.8 435.1,200.9 442.3,206.2 449.6,211.7 456.9,217.4 464.1,223.2 471.4,229.3 478.7,235.5 486.0,241.8 493.2,248.3 500.5,255.0 507.8,261.8 515.1,268.6 522.3,275.6 529.6,282.6 536.9,289.8 544.2,296.9 551.4,304.1 558.7,311.4 566.0,318.6 573.3,325.9 580.5,333.1 587.8,340.3 595.1,347.5 602.4,354.6 609.6,361.6 616.9,368.6 624.2,375.6 631.4,382.4 638.7,389.1 646.0,395.8 653.3,402.3 660.5,408.7 667.8,415.0 675.1,421.2 682.4,427.2 689.6,433.1 696.9,438.9 704.2,444.6 711.5,450.1 718.7,455.5 726.0,460.7 733.3,465.9 740.6,470.8 747.8,475.7 755.1,480.4 762.4,485.0 769.7,489.4 776.9,493.7 784.2,497.9 791.5,502.0 798.8,505.9 806.0,509.7 813.3,513.4" stroke="#4DBEEE"/>
<path d="M238.7,132.3 245.9,132.9 253.2,133.5 260.5,134.3 267.8,135.2 275.0,136.1 282.3,137.2 289.6,138.4 296.8,139.8 304.1,141.2 311.4,142.9 318.7,144.7 325.9,146.6 333.2,148.8 340.5,151.1 347.8,153.6 355.0,156.2 362.3,159.1 369.6,162.2 376.9,165.5 384.1,169.0 391.4,172.7 398.7,176.6 406.0,180.8 413.2,185.2 420.5,189.7 427.8,194.5 435.1,199.5 442.3,204.7 449.6,210.1 456.9,215.7 464.1,221.5 471.4,227.5 478.7,233.6 486.0,239.9 493.2,246.3 500.5,252.9 507.8,259.6 515.1,266.4 522.3,273.3 529.6,280.3 536.9,287.3 544.2,294.5 551.4,301.6 558.7,308.8 566.0,316.0 573.3,323.2 580.5,330.4 587.8,337.6 595.1,344.7 602.4,351.9 609.6,358.9 616.9,365.9 624.2,372.8 631.4,379.6 638.7,386.4 646.0,393.0 653.3,399.6 660.5,406.0 667.8,412.3 675.1,418.5 682.4,424.6 689.6,430.5 696.9,436.3 704.2,442.0 711.5,447.6 718.7,453.0 726.0,458.3 733.3,463.4 740.6,468.5 747.8,473.3 755.1,478.1 762.4,482.7 769.7,487.2 776.9,491.6 784.2,495.8 791.5,499.9 798.8,503.9 806.0,507.7 813.3,511.5" stroke="#A2142F"/>
<path d="M224.1,131.3 231.4,131.7 238.7,132.2 245.9,132.8 253.2,133.4 260.5,134.2 267.8,135.0 275.0,136.0 282.3,137.0 289.6,138.2 296.8,139.5 304.1,141.0 311.4,142.6 318.7,144.3 325.9,146.2 333.2,148.3 340.5,150.6 347.8,153.0 355.0,155.7 362.3,158.5 369.6,161.5 376.9,164.7 384.1,168.2 391.4,171.8 398.7,175.7 406.0,179.8 413.2,184.1 420.5,188.6 427.8,193.3 435.1,198.2 442.3,203.3 449.6,208.6 456.9,214.1 464.1,219.8 471.4,225.7 478.7,231.8 486.0,238.0 493.2,244.3 500.5,250.8 507.8,257.5 515.1,264.2 522.3,271.0 529.6,278.0 536.9,285.0 544.2,292.0 551.4,299.1 558.7,306.3 566.0,313.4 573.3,320.6 580.5,327.8 587.8,334.9 595.1,342.1 602.4,349.1 609.6,356.2 616.9,363.2 624.2,370.1 631.4,376.9 638.7,383.6 646.0,390.3 653.3,396.8 660.5,403.3 667.8,409.6 675.1,415.8 682.4,421.9 689.6,427.9 696.9,433.8 704.2,439.5 711.5,445.1 718.7,450.5 726.0,455.8 733.3,461.0 740.6,466.1 747.8,471.0 755.1,475.8 762.4,480.5 769.7,485.0 776.9,489.4 784.2,493.7 791.5,497.8 798.8,501.8 806.0,505.7 813.3,509.5" stroke="#0072BD"/>
<path d="M238.7,132.2 245.9,132.7 253.2,133.4 260.5,134.1 267.8,134.9 275.0,135.8 282.3,136.9 289.6,138.0 296.8,139.3 304.1,140.7 311.4,142.3 318.7,144.0 325.9,145.9 333.2,147.9 340.5,150.1 347.8,152.5 355.0,155.1 362.3,157.9 369.6,160.8 376.9,164.0 384.1,167.4 391.4,171.0 398.7,174.8 406.0,178.8 413.2,183.0 420.5,187.4 427.8,192.0 435.1,196.9 442.3,201.9 449.6,207.2 456.9,212.6 464.1,218.2 471.4,224.0 478.7,230.0 486.0,236.1 493.2,242.4 500.5,248.8 507.8,255.4 515.1,262.0 522.3,268.8 529.6,275.7 536.9,282.6 544.2,289.6 551.4,296.7 558.7,303.8 566.0,310.9 573.3,318.0 580.5,325.2 587.8,332.3 595.1,339.4 602.4,346.5 609.6,353.5 616.9,360.4 624.2,367.3 631.4,374.2 638.7,380.9 646.0,387.6 653.3,394.1 660.5,400.6 667.8,406.9 675.1,413.2 682.4,419.3 689.6,425.3 696.9,431.2 704.2,436.9 711.5,442.5 718.7,448.0 726.0,453.4 733.3,458.6 740.6,463.7 747.8,468.7 755.1,473.5 762.4,478.2 769.7,482.8 776.9,487.2 784.2,491.5 791.5,495.7 798.8,499.8 806.0,503.7 813.3,507.6" stroke="#D95319"/>
<path d="M245.9,132.6 253.2,133.3 260.5,134.0 267.8,134.8 275.0,135.7 282.3,136.7 289.6,137.8 296.8,139.1 304.1,140.5 311.4,142.0 318.7,143.7 325.9,145.5 333.2,147.5 340.5,149.7 347.8,152.0 355.0,154.6 362.3,157.3 369.6,160.2 376.9,163.3 384.1,166.6 391.4,170.1 398.7,173.8 406.0,177.8 413.2,181.9 420.5,186.3 427.8,190.8 435.1,195.6 442.3,200.5 449.6,205.7 456.9,211.1 464.1,216.6 471.4,222.3 478.7,228.2 486.0,234.3 493.2,240.5 500.5,246.8 507.8,253.3 515.1,259.9 522.3,266.6 529.6,273.4 536.9,280.3 544.2,287.2 551.4,294.2 558.7,301.3 566.0,308.4 573.3,315.5 580.5,322.6 587.8,329.7 595.1,336.7 602.4,343.8 609.6,350.8 616.9,357.7 624.2,364.6 631.4,371.5 638.7,378.2 646.0,384.9 653.3,391.4 660.5,397.9 667.8,404.3 675.1,410.5 682.4,416.7 689.6,422.7 696.9,428.6 704.2,434.4 711.5,440.0 718.7,445.5 726.0,450.9 733.3,456.2 740.6,461.3 747.8,466.3 755.1,471.2 762.4,475.9 769.7,480.5 776.9,485.0 784.2,489.4 791.5,493.6 798.8,497.7 806.0,501.7 813.3,505.6" stroke="#EDB120"/>
<path d="M253.2,133.2 260.5,133.9 267.8,134.7 275.0,135.5 282.3,136.5 289.6,137.6 296.8,138.9 304.1,140.2 311.4,141.7 318.7,143.4 325.9,145.2 333.2,147.1 340.5,149.3 347.8,151.6 355.0,154.0 362.3,156.7 369.6,159.5 376.9,162.6 384.1,165.8 391.4,169.3 398.7,172.9 406.0,176.8 413.2,180.9 420.5,185.1 427.8,189.6 435.1,194.3 442.3,199.2 449.6,204.3 456.9,209.6 464.1,215.0 471.4,220.7 478.7,226.5 486.0,232.5 493.2,238.6 500.5,244.9 507.8,251.3 515.1,257.8 522.3,264.4 529.6,271.2 536.9,278.0 544.2,284.9 551.4,291.8 558.7,298.8 566.0,305.9 573.3,312.9 580.5,320.0 587.8,327.1 595.1,334.1 602.4,341.1 609.6,348.1 616.9,355.1 624.2,361.9 631.4,368.8 638.7,375.5 646.0,382.2 653.3,388.8 660.5,395.2 667.8,401.6 675.1,407.9 682.4,414.0 689.6,420.1 696.9,426.0 704.2,431.8 711.5,437.5 718.7,443.0 726.0,448.5 733.3,453.8 740.6,458.9 747.8,464.0 755.1,468.9 762.4,473.6 769.7,478.3 776.9,482.8 784.2,487.2 791.5,491.5 798.8,495.6 806.0,499.7 813.3,503.6" stroke="#7E2F8E"/>
<path d="M165.9,129.8 173.2,129.9 180.5,130.0 187.7,130.1 195.0,130.3 202.3,130.5 209.6,130.8 216.8,131.1 224.1,131.4 231.4,131.8 238.7,132.2 245.9,132.7 253.2,133.2 260.5,133.9 267.8,134.5 275.0,135.3 282.3,136.1 289.6,137.0 296.8,137.9 304.1,139.0 311.4,140.1 318.7,141.4 325.9,142.7 333.2,144.1 340.5,145.6 347.8,147.2 355.0,148.9 362.3,150.7 369.6,152.6 376.9,154.7 384.1,156.8 391.4,159.0 398.7,161.3 406.0,163.8 413.2,166.3 420.5,168.9 427.8,171.7 435.1,174.5 442.3,177.4 449.6,180.5 456.9,183.6 464.1,186.8 471.4,190.1 478.7,193.4 486.0,196.9 493.2,200.4 500.5,204.0 507.8,207.6 515.1,211.3 522.3,215.0 529.6,218.8 536.9,222.7 544.2,226.5 551.4,230.4 558.7,234.3 566.0,238.3 573.3,242.2 580.5,246.2 587.8,250.2 595.1,254.1 602.4,258.1 609.6,262.1 616.9,266.0 624.2,269.9 631.4,273.8 638.7,277.7 646.0,281.5 653.3,285.3 660.5,289.1 667.8,292.8 675.1,296.5 682.4,300.1 689.6,303.7 696.9,307.3 704.2,310.8 711.5,314.2 718.7,317.6 726.0,320.9 733.3,324.2 740.6,327.4 747.8,330.6 755.1,333.6 762.4,336.7 769.7,339.7 776.9,342.6 784.2,345.4 791.5,348.2 798.8,351.0 806.0,353.6 813.3,356.2" stroke="#77AC30"/>
<path d="M231.4,131.8 238.7,132.2 245.9,132.7 253.2,133.2M267.8,134.5 275.0,135.2 282.3,136.0 289.6,136.9 296.8,137.8 304.1,138.9 311.4,140.0 318.7,141.2 325.9,142.5 333.2,143.9 340.5,145.4 347.8,147.0 355.0,148.7 362.3,150.5 369.6,152.3 376.9,154.3 384.1,156.4 391.4,158.6 398.7,160.9 406.0,163.3 413.2,165.9 420.5,168.5 427.8,171.2 435.1,174.0 442.3,176.9 449.6,179.9 456.9,183.0 464.1,186.1 471.4,189.4 478.7,192.7 486.0,196.1 493.2,199.6 500.5,203.2 507.8,206.8 515.1,210.5 522.3,214.2 529.6,217.9 536.9,221.8 544.2,225.6 551.4,229.5 558.7,233.4 566.0,237.3 573.3,241.2 580.5,245.2 587.8,249.1 595.1,253.1 602.4,257.0 609.6,261.0 616.9,264.9 624.2,268.8 631.4,272.7 638.7,276.6 646.0,280.4 653.3,284.2 660.5,288.0 667.8,291.7 675.1,295.4 682.4,299.0 689.6,302.6 696.9,306.2 704.2,309.7 711.5,313.1 718.7,316.5 726.0,319.8 733.3,323.1 740.6,326.3 747.8,329.5 755.1,332.6 762.4,335.6 769.7,338.6 776.9,341.5 784.2,344.4 791.5,347.2 798.8,350.0 806.0,352.6 813.3,355.3" stroke="#4DBEEE"/>
<path d="M195.0,130.3 202.3,130.5 209.6,130.7 216.8,131.0 224.1,131.4 231.4,131.7 238.7,132.1 245.9,132.6 253.2,133.1 260.5,133.7 267.8,134.4 275.0,135.1 282.3,135.9 289.6,136.8 296.8,137.7 304.1,138.8 311.4,139.9 318.7,141.1 325.9,142.3 333.2,143.7 340.5,145.2 347.8,146.8 355.0,148.4 362.3,150.2 369.6,152.1 376.9,154.0 384.1,156.1 391.4,158.3 398.7,160.6 406.0,162.9 413.2,165.4 420.5,168.0 427.8,170.7 435.1,173.5 442.3,176.3 449.6,179.3 456.9,182.4 464.1,185.5 471.4,188.7 478.7,192.1 486.0,195.4 493.2,198.9 500.5,202.4 507.8,206.0 515.1,209.6 522.3,213.3 529.6,217.1 536.9,220.9 544.2,224.7 551.4,228.5 558.7,232.4 566.0,236.3 573.3,240.2 580.5,244.2 587.8,248.1 595.1,252.1 602.4,256.0 609.6,259.9 616.9,263.8 624.2,267.7 631.4,271.6 638.7,275.5 646.0,279.3 653.3,283.1 660.5,286.9 667.8,290.6 675.1,294.3 682.4,297.9 689.6,301.5 696.9,305.0 704.2,308.5 711.5,312.0 718.7,315.4 726.0,318.7 733.3,322.0 740.6,325.2 747.8,328.4 755.1,331.5 762.4,334.6 769.7,337.6 776.9,340.5 784.2,343.4 791.5,346.2 798.8,348.9 806.0,351.6 813.3,354.3" stroke="#A2142F"/>
<path d="M173.2,129.8 180.5,130.0 187.7,130.1 195.0,130.3M216.8,131.0 224.1,131.3 231.4,131.7 238.7,132.1 245.9,132.6 253.2,133.1M267.8,134.3 275.0,135.0 282.3,135.8 289.6,136.7 296.8,137.6 304.1,138.6 311.4,139.7 318.7,140.9 325.9,142.2 333.2,143.5 340.5,145.0 347.8,146.5 355.0,148.2 362.3,149.9 369.6,151.8 376.9,153.7 384.1,155.8 391.4,157.9 398.7,160.2 406.0,162.5 413.2,165.0 420.5,167.6 427.8,170.2 435.1,173.0 442.3,175.8 449.6,178.8 456.9,181.8 464.1,184.9 471.4,188.1 478.7,191.4 486.0,194.7 493.2,198.2 500.5,201.7 507.8,205.2 515.1,208.8 522.3,212.5 529.6,216.2 536.9,220.0 544.2,223.8 551.4,227.6 558.7,231.5 566.0,235.4 573.3,239.3 580.5,243.2 587.8,247.1 595.1,251.0 602.4,254.9 609.6,258.9 616.9,262.8 624.2,266.7 631.4,270.5 638.7,274.4 646.0,278.2 653.3,282.0 660.5,285.7 667.8,289.5 675.1,293.2 682.4,296.8 689.6,300.4 696.9,303.9 704.2,307.4 711.5,310.9 718.7,314.3 726.0,317.6 733.3,320.9 740.6,324.2 747.8,327.3 755.1,330.5 762.4,333.5 769.7,336.5 776.9,339.5 784.2,342.3 791.5,345.2 798.8,347.9 806.0,350.7 813.3,353.3" stroke="#0072BD"/>
<path d="M202.3,130.5 209.6,130.7 216.8,131.0 224.1,131.3M238.7,132.1 245.9,132.5 253.2,133.1 260.5,133.6 267.8,134.3 275.0,135.0 282.3,135.7 289.6,136.6 296.8,137.5 304.1,138.5 311.4,139.6 318.7,140.8 325.9,142.0 333.2,143.4 340.5,144.8 347.8,146.3 355.0,148.0 362.3,149.7 369.6,151.5 376.9,153.4 384.1,155.5 391.4,157.6 398.7,159.8 406.0,162.1 413.2,164.6 420.5,167.1 427.8,169.7 435.1,172.5 442.3,175.3 449.6,178.2 456.9,181.2 464.1,184.3 471.4,187.5 478.7,190.7 486.0,194.0 493.2,197.4 500.5,200.9 507.8,204.4 515.1,208.0 522.3,211.7 529.6,215.4 536.9,219.1 544.2,222.9 551.4,226.7 558.7,230.5 566.0,234.4 573.3,238.3 580.5,242.2 587.8,246.1 595.1,250.0 602.4,253.9 609.6,257.8 616.9,261.7 624.2,265.6 631.4,269.4 638.7,273.3 646.0,277.1 653.3,280.9 660.5,284.6 667.8,288.4 675.1,292.0 682.4,295.7 689.6,299.3 696.9,302.8 704.2,306.3 711.5,309.8 718.7,313.2 726.0,316.5 733.3,319.8 740.6,323.1 747.8,326.3 755.1,329.4 762.4,332.5 769.7,335.5 776.9,338.4 784.2,341.3 791.5,344.2 798.8,346.9 806.0,349.7 813.3,352.3" stroke="#D95319"/>
<path d="M180.5,130.0 187.7,130.1 195.0,130.3 202.3,130.5M224.1,131.3 231.4,131.6 238.7,132.0 245.9,132.5 253.2,133.0M275.0,134.9 282.3,135.7 289.6,136.5 296.8,137.4 304.1,138.4 311.4,139.5 318.7,140.6 325.9,141.9 333.2,143.2 340.5,144.6 347.8,146.1 355.0,147.7 362.3,149.4 369.6,151.2 376.9,153.1 384.1,155.1 391.4,157.3 398.7,159.5 406.0,161.8 413.2,164.2 420.5,166.7 427.8,169.3 435.1,172.0 442.3,174.8 449.6,177.6 456.9,180.6 464.1,183.7 471.4,186.8 478.7,190.1 486.0,193.4 493.2,196.7 500.5,200.2 507.8,203.7 515.1,207.2 522.3,210.9 529.6,214.5 536.9,218.2 544.2,222.0 551.4,225.8 558.7,229.6 566.0,233.5 573.3,237.3 580.5,241.2 587.8,245.1 595.1,249.0 602.4,252.9 609.6,256.8 616.9,260.7 624.2,264.5 631.4,268.4 638.7,272.2 646.0,276.0 653.3,279.8 660.5,283.5 667.8,287.3 675.1,290.9 682.4,294.6 689.6,298.2 696.9,301.7 704.2,305.2 711.5,308.7 718.7,312.1 726.0,315.5 733.3,318.8 740.6,322.0 747.8,325.2 755.1,328.3 762.4,331.4 769.7,334.4 776.9,337.4 784.2,340.3 791.5,343.1 798.8,345.9 806.0,348.7 813.3,351.3" stroke="#EDB120"/>
<path d="M209.6,130.7 216.8,130.9 224.1,131.3 231.4,131.6 238.7,132.0 245.9,132.5 253.2,133.0 260.5,133.5 267.8,134.1 275.0,134.8 282.3,135.6 289.6,136.4 296.8,137.3 304.1,138.3 311.4,139.3 318.7,140.5 325.9,141.7 333.2,143.0 340.5,144.4 347.8,145.9 355.0,147.5 362.3,149.2 369.6,151.0 376.9,152.9 384.1,154.8 391.4,156.9 398.7,159.1 406.0,161.4 413.2,163.8 420.5,166.2 427.8,168.8 435.1,171.5 442.3,174.3 449.6,177.1 456.9,180.1 464.1,183.1 471.4,186.2 478.7,189.4 486.0,192.7 493.2,196.0 500.5,199.4 507.8,202.9 515.1,206.5 522.3,210.1 529.6,213.7 536.9,217.4 544.2,221.1 551.4,224.9 558.7,228.7 566.0,232.5 573.3,236.4 580.5,240.2 587.8,244.1 595.1,248.0 602.4,251.9 609.6,255.7 616.9,259.6 624.2,263.5 631.4,267.3 638.7,271.1 646.0,274.9 653.3,278.7 660.5,282.5 667.8,286.2 675.1,289.8 682.4,293.5 689.6,297.1 696.9,300.6 704.2,304.1 711.5,307.6 718.7,311.0 726.0,314.4 733.3,317.7 740.6,320.9 747.8,324.1 755.1,327.3 762.4,330.4 769.7,333.4 776.9,336.4 784.2,339.3 791.5,342.1 798.8,344.9 806.0,347.7 813.3,350.4" stroke="#7E2F8E"/>
<path d="M187.7,130.1 195.0,130.2 202.3,130.4 209.6,130.7M275.0,134.8 282.3,135.5 289.6,136.3 296.8,137.2 304.1,138.2 311.4,139.2 318.7,140.3 325.9,141.6 333.2,142.8 340.5,144.2 347.8,145.7 355.0,147.3 362.3,148.9 369.6,150.7 376.9,152.6 384.1,154.5 391.4,156.6 398.7,158.7 406.0,161.0 413.2,163.4 420.5,165.8 427.8,168.4 435.1,171.0 442.3,173.7 449.6,176.6 456.9,179.5 464.1,182.5 471.4,185.6 478.7,188.8 486.0,192.0 493.2,195.3 500.5,198.7 507.8,202.2 515.1,205.7 522.3,209.3 529.6,212.9 536.9,216.5 544.2,220.3 551.4,224.0 558.7,227.8 566.0,231.6 573.3,235.4 580.5,239.3 587.8,243.1 595.1,247.0 602.4,250.8 609.6,254.7 616.9,258.6 624.2,262.4 631.4,266.2 638.7,270.1 646.0,273.9 653.3,277.6 660.5,281.4 667.8,285.1 675.1,288.8 682.4,292.4 689.6,296.0 696.9,299.5 704.2,303.0 711.5,306.5 718.7,309.9 726.0,313.3 733.3,316.6 740.6,319.9 747.8,323.1 755.1,326.2 762.4,329.3 769.7,332.3 776.9,335.3 784.2,338.2 791.5,341.1 798.8,343.9 806.0,346.7 813.3,349.4" stroke="#77AC30"/>
<path d="M195.0,130.2 202.3,130.4 209.6,130.6 216.8,130.9M224.1,131.2 231.4,131.6 238.7,131.9 245.9,132.4 253.2,132.9 260.5,133.4 267.8,134.0 275.0,134.7 282.3,135.4 289.6,136.2 296.8,137.1 304.1,138.1 311.4,139.1 318.7,140.2 325.9,141.4 333.2,142.7 340.5,144.1 347.8,145.5 355.0,147.1 362.3,148.7 369.6,150.5 376.9,152.3 384.1,154.2 391.4,156.3 398.7,158.4 406.0,160.6 413.2,163.0 420.5,165.4 427.8,167.9 435.1,170.5 442.3,173.2 449.6,176.0 456.9,178.9 464.1,181.9 471.4,185.0 478.7,188.1 486.0,191.3 493.2,194.6 500.5,198.0 507.8,201.4 515.1,204.9 522.3,208.5 529.6,212.1 536.9,215.7 544.2,219.4 551.4,223.1 558.7,226.9 566.0,230.7 573.3,234.5 580.5,238.3 587.8,242.1 595.1,246.0 602.4,249.8 609.6,253.7 616.9,257.5 624.2,261.4 631.4,265.2 638.7,269.0 646.0,272.8 653.3,276.6 660.5,280.3 667.8,284.0 675.1,287.7 682.4,291.3 689.6,294.9 696.9,298.4 704.2,302.0 711.5,305.4 718.7,308.8 726.0,312.2 733.3,315.5 740.6,318.8 747.8,322.0 755.1,325.1 762.4,328.2 769.7,331.3 776.9,334.3 784.2,337.2 791.5,340.1 798.8,342.9 806.0,345.7 813.3,348.4" stroke="#4DBEEE"/>
<path d="M202.3,130.4 209.6,130.6 216.8,130.9 224.1,131.2M275.0,134.6 282.3,135.4 289.6,136.1 296.8,137.0 304.1,138.0 311.4,139.0 318.7,140.1 325.9,141.3 333.2,142.5 340.5,143.9 347.8,145.3 355.0,146.8 362.3,148.5 369.6,150.2 376.9,152.0 384.1,153.9 391.4,155.9 398.7,158.1 406.0,160.3 413.2,162.6 420.5,165.0 427.8,167.5 435.1,170.1 442.3,172.8 449.6,175.5 456.9,178.4 464.1,181.3 471.4,184.4 478.7,187.5 486.0,190.7 493.2,194.0 500.5,197.3 507.8,200.7 515.1,204.2 522.3,207.7 529.6,211.3 536.9,214.9 544.2,218.5 551.4,222.2 558.7,226.0 566.0,229.7 573.3,233.5 580.5,237.3 587.8,241.2 595.1,245.0 602.4,248.8 609.6,252.7 616.9,256.5 624.2,260.3 631.4,264.1 638.7,267.9 646.0,271.7 653.3,275.5 660.5,279.2 667.8,282.9 675.1,286.6 682.4,290.2 689.6,293.8 696.9,297.4 704.2,300.9 711.5,304.3 718.7,307.8 726.0,311.1 733.3,314.4 740.6,317.7 747.8,320.9 755.1,324.1 762.4,327.2 769.7,330.3 776.9,333.3 784.2,336.2 791.5,339.1 798.8,341.9 806.0,344.7 813.3,347.4" stroke="#A2142F"/>
<path d="M209.6,130.6 216.8,130.9 224.1,131.2 231.4,131.5 238.7,131.9 245.9,132.3 253.2,132.8 260.5,133.3 267.8,133.9 275.0,134.6 282.3,135.3 289.6,136.1 296.8,136.9 304.1,137.8 311.4,138.9 318.7,139.9 325.9,141.1 333.2,142.4 340.5,143.7 347.8,145.1 355.0,146.6 362.3,148.2 369.6,149.9 376.9,151.7 384.1,153.6 391.4,155.6 398.7,157.7 406.0,159.9 413.2,162.2 420.5,164.6 427.8,167.0 435.1,169.6 442.3,172.3 449.6,175.0 456.9,177.9 464.1,180.8 471.4,183.8 478.7,186.9 486.0,190.0 493.2,193.3 500.5,196.6 507.8,200.0 515.1,203.4 522.3,206.9 529.6,210.5 536.9,214.0 544.2,217.7 551.4,221.4 558.7,225.1 566.0,228.8 573.3,232.6 580.5,236.4 587.8,240.2 595.1,244.0 602.4,247.8 609.6,251.7 616.9,255.5 624.2,259.3 631.4,263.1 638.7,266.9 646.0,270.7 653.3,274.4 660.5,278.1 667.8,281.8 675.1,285.5 682.4,289.1 689.6,292.7 696.9,296.3 704.2,299.8 711.5,303.3 718.7,306.7 726.0,310.0 733.3,313.4 740.6,316.6 747.8,319.9 755.1,323.0 762.4,326.2 769.7,329.2 776.9,332.2 784.2,335.2 791.5,338.1 798.8,340.9 806.0,343.7 813.3,346.4" stroke="#0072BD"/>
<path d="M224.1,131.1 231.4,131.5 238.7,131.8 245.9,132.3 253.2,132.7M275.0,134.5 282.3,135.2 289.6,136.0 296.8,136.8 304.1,137.7 311.4,138.7 318.7,139.8 325.9,141.0 333.2,142.2 340.5,143.5 347.8,144.9 355.0,146.4 362.3,148.0 369.6,149.7 376.9,151.5 384.1,153.4 391.4,155.3 398.7,157.4 406.0,159.5 413.2,161.8 420.5,164.2 427.8,166.6 435.1,169.2 442.3,171.8 449.6,174.5 456.9,177.3 464.1,180.2 471.4,183.2 478.7,186.3 486.0,189.4 493.2,192.6 500.5,195.9 507.8,199.3 515.1,202.7 522.3,206.1 529.6,209.7 536.9,213.2 544.2,216.9 551.4,220.5 558.7,224.2 566.0,227.9 573.3,231.7 580.5,235.5 587.8,239.2 595.1,243.0 602.4,246.9 609.6,250.7 616.9,254.5 624.2,258.3 631.4,262.1 638.7,265.8 646.0,269.6 653.3,273.4 660.5,277.1 667.8,280.8 675.1,284.4 682.4,288.1 689.6,291.6 696.9,295.2 704.2,298.7 711.5,302.2 718.7,305.6 726.0,309.0 733.3,312.3 740.6,315.6 747.8,318.8 755.1,322.0 762.4,325.1 769.7,328.2 776.9,331.2 784.2,334.2 791.5,337.1 798.8,339.9 806.0,342.7 813.3,345.4" stroke="#D95319"/>
<path d="M238.7,131.8 245.9,132.2 253.2,132.7 260.5,133.2 267.8,133.8 275.0,134.4 282.3,135.1 289.6,135.9 296.8,136.7 304.1,137.6 311.4,138.6 318.7,139.7 325.9,140.8 333.2,142.0 340.5,143.3 347.8,144.7 355.0,146.2 362.3,147.8 369.6,149.5 376.9,151.2 384.1,153.1 391.4,155.0 398.7,157.1 406.0,159.2 413.2,161.4 420.5,163.8 427.8,166.2 435.1,168.7 442.3,171.3 449.6,174.0 456.9,176.8 464.1,179.7 471.4,182.6 478.7,185.7 486.0,188.8 493.2,192.0 500.5,195.2 507.8,198.5 515.1,201.9 522.3,205.4 529.6,208.9 536.9,212.4 544.2,216.0 551.4,219.7 558.7,223.3 566.0,227.0 573.3,230.8 580.5,234.5 587.8,238.3 595.1,242.1 602.4,245.9 609.6,249.7 616.9,253.5 624.2,257.3 631.4,261.0 638.7,264.8 646.0,268.6 653.3,272.3 660.5,276.0 667.8,279.7 675.1,283.4 682.4,287.0 689.6,290.6 696.9,294.1 704.2,297.6 711.5,301.1 718.7,304.5 726.0,307.9 733.3,311.2 740.6,314.5 747.8,317.8 755.1,320.9 762.4,324.1 769.7,327.1 776.9,330.2 784.2,333.1 791.5,336.0 798.8,338.9 806.0,341.7 813.3,344.5" stroke="#EDB120"/>
<path d="M282.3,135.1 289.6,135.8 296.8,136.6 304.1,137.5 311.4,138.5 318.7,139.6 325.9,140.7 333.2,141.9 340.5,143.2 347.8,144.6 355.0,146.0 362.3,147.6 369.6,149.2 376.9,151.0 384.1,152.8 391.4,154.7 398.7,156.7 406.0,158.9 413.2,161.1 420.5,163.4 427.8,165.8 435.1,168.3 442.3,170.8 449.6,173.5 456.9,176.3 464.1,179.1 471.4,182.1 478.7,185.1 486.0,188.2 493.2,191.3 500.5,194.5 507.8,197.8 515.1,201.2 522.3,204.6 529.6,208.1 536.9,211.6 544.2,215.2 551.4,218.8 558.7,222.5 566.0,226.2 573.3,229.9 580.5,233.6 587.8,237.4 595.1,241.1 602.4,244.9 609.6,248.7 616.9,252.5 624.2,256.2 631.4,260.0 638.7,263.8 646.0,267.5 653.3,271.3 660.5,275.0 667.8,278.6 675.1,282.3 682.4,285.9 689.6,289.5 696.9,293.0 704.2,296.6 711.5,300.0 718.7,303.5 726.0,306.8 733.3,310.2 740.6,313.5 747.8,316.7 755.1,319.9 762.4,323.0 769.7,326.1 776.9,329.1 784.2,332.1 791.5,335.0 798.8,337.9 806.0,340.7 813.3,343.5" stroke="#7E2F8E"/>
<path d="M93.2,129.5 100.4,129.5 107.7,129.5 115.0,129.5 122.3,129.5 129.5,129.5 136.8,129.5 144.1,129.6 151.4,129.6 158.6,129.6 165.9,129.7 173.2,129.8 180.5,129.9 187.7,130.0 195.0,130.2 202.3,130.4 209.6,130.6 216.8,130.8 224.1,131.1 231.4,131.4 238.7,131.8 245.9,132.2 253.2,132.6 260.5,133.1 267.8,133.7 275.0,134.3 282.3,135.0 289.6,135.7 296.8,136.6 304.1,137.4 311.4,138.4 318.7,139.4 325.9,140.5 333.2,141.7 340.5,143.0 347.8,144.4 355.0,145.8 362.3,147.4 369.6,149.0 376.9,150.7 384.1,152.5 391.4,154.4 398.7,156.4 406.0,158.5 413.2,160.7 420.5,163.0 427.8,165.4 435.1,167.8 442.3,170.4 449.6,173.0 456.9,175.8 464.1,178.6 471.4,181.5 478.7,184.5 486.0,187.5 493.2,190.7 500.5,193.9 507.8,197.2 515.1,200.5 522.3,203.9 529.6,207.3 536.9,210.8 544.2,214.4 551.4,218.0 558.7,221.6 566.0,225.3 573.3,229.0 580.5,232.7 587.8,236.4 595.1,240.2 602.4,243.9 609.6,247.7 616.9,251.5 624.2,255.2 631.4,259.0 638.7,262.8 646.0,266.5 653.3,270.2 660.5,273.9 667.8,277.6 675.1,281.2 682.4,284.8 689.6,288.4 696.9,292.0 704.2,295.5 711.5,299.0 718.7,302.4 726.0,305.8 733.3,309.1 740.6,312.4 747.8,315.6 755.1,318.8 762.4,322.0 769.7,325.1 776.9,328.1 784.2,331.1 791.5,334.0 798.8,336.9 806.0,339.7 813.3,342.5" stroke="#77AC30"/>
</g>
<g fill="none">
<path d="M883.77 45.90 V964.64" stroke="#262626" stroke-width="1.15"/>
<path d="M884.35 964.00 H1631.20" stroke="#434343" stroke-width="1.28"/>
</g>
<g stroke="#262626" stroke-width="1.1" fill="none">
<path d="M958.25 963.36 v-8.06M1032.96 963.36 v-8.06M1107.66 963.36 v-8.06M1182.37 963.36 v-8.06M1257.07 963.36 v-8.06M1331.78 963.36 v-8.06M1406.48 963.36 v-8.06M1481.19 963.36 v-8.06M1555.89 963.36 v-8.06M1630.60 963.36 v-8.06M884.35 880.82 h8.12M884.35 797.34 h8.12M884.35 713.85 h8.12M884.35 630.37 h8.12M884.35 546.89 h8.12M884.35 463.41 h8.12M884.35 379.93 h8.12M884.35 296.45 h8.12M884.35 212.96 h8.12M884.35 129.48 h8.12M884.35 46.50 h8.12"/>
</g>
<text transform="translate(883.35 990.60) scale(1 1.1170)" font-size="19.5" text-anchor="middle" fill="#262626">0</text>
<text transform="translate(958.05 990.60) scale(1 1.1170)" font-size="19.5" text-anchor="middle" fill="#262626">10</text>
<text transform="translate(1032.76 990.60) scale(1 1.1170)" font-size="19.5" text-anchor="middle" fill="#262626">20</text>
<text transform="translate(1107.46 990.60) scale(1 1.1170)" font-size="19.5" text-anchor="middle" fill="#262626">30</text>
<text transform="translate(1182.17 990.60) scale(1 1.1170)" font-size="19.5" text-anchor="middle" fill="#262626">40</text>
<text transform="translate(1256.87 990.60) scale(1 1.1170)" font-size="19.5" text-anchor="middle" fill="#262626">50</text>
<text transform="translate(1331.58 990.60) scale(1 1.1170)" font-size="19.5" text-anchor="middle" fill="#262626">60</text>
<text transform="translate(1406.28 990.60) scale(1 1.1170)" font-size="19.5" text-anchor="middle" fill="#262626">70</text>
<text transform="translate(1480.99 990.60) scale(1 1.1170)" font-size="19.5" text-anchor="middle" fill="#262626">80</text>
<text transform="translate(1555.69 990.60) scale(1 1.1170)" font-size="19.5" text-anchor="middle" fill="#262626">90</text>
<text transform="translate(1630.40 990.60) scale(1 1.1170)" font-size="19.5" text-anchor="middle" fill="#262626">100</text>
<text transform="translate(876.77 972.20) scale(1 1.1170)" font-size="19.5" text-anchor="end" fill="#262626">-100</text>
<text transform="translate(876.77 888.72) scale(1 1.1170)" font-size="19.5" text-anchor="end" fill="#262626">-90</text>
<text transform="translate(876.77 805.24) scale(1 1.1170)" font-size="19.5" text-anchor="end" fill="#262626">-80</text>
<text transform="translate(876.77 721.75) scale(1 1.1170)" font-size="19.5" text-anchor="end" fill="#262626">-70</text>
<text transform="translate(876.77 638.27) scale(1 1.1170)" font-size="19.5" text-anchor="end" fill="#262626">-60</text>
<text transform="translate(876.77 554.79) scale(1 1.1170)" font-size="19.5" text-anchor="end" fill="#262626">-50</text>
<text transform="translate(876.77 471.31) scale(1 1.1170)" font-size="19.5" text-anchor="end" fill="#262626">-40</text>
<text transform="translate(876.77 387.83) scale(1 1.1170)" font-size="19.5" text-anchor="end" fill="#262626">-30</text>
<text transform="translate(876.77 304.35) scale(1 1.1170)" font-size="19.5" text-anchor="end" fill="#262626">-20</text>
<text transform="translate(876.77 220.86) scale(1 1.1170)" font-size="19.5" text-anchor="end" fill="#262626">-10</text>
<text transform="translate(876.77 137.38) scale(1 1.1170)" font-size="19.5" text-anchor="end" fill="#262626">0</text>
<text transform="translate(876.77 53.90) scale(1 1.1170)" font-size="19.5" text-anchor="end" fill="#262626">10</text>
<g fill="none" stroke-width="1.15" stroke-linejoin="round" filter="url(#b)">
<path d="M891.0,213.0 898.5,195.6 906.0,230.5 913.4,212.8 920.9,183.4 928.4,190.9 935.8,274.5 943.3,307.7 950.8,388.8 958.3,450.3 965.7,589.2 973.2,649.1 980.7,707.9 988.1,792.0 995.6,794.6 1003.1,825.3 1010.5,888.0 1018.0,853.4 1025.5,885.2 1033.0,876.7 1040.4,890.8 1047.9,858.8 1055.4,881.4 1062.8,906.2 1070.3,874.6 1077.8,855.5 1085.3,895.5 1092.7,902.9 1100.2,889.3 1107.7,843.7 1115.1,840.5 1122.6,866.0 1130.1,846.8 1137.5,851.6 1145.0,890.7 1152.5,914.6 1160.0,867.8 1167.4,875.8 1174.9,892.3 1182.4,903.7 1189.8,888.5 1197.3,883.3 1204.8,900.0 1212.3,898.1 1219.7,884.3 1227.2,850.7 1234.7,873.6 1242.1,898.9 1249.6,899.3 1257.1,884.6 1264.5,905.4 1272.0,905.7 1279.5,879.6 1287.0,915.3 1294.4,882.2 1301.9,892.3 1309.4,863.5 1316.8,860.2 1324.3,864.9 1331.8,865.0 1339.3,891.4 1346.7,866.8 1354.2,894.2 1361.7,874.7 1369.1,895.4 1376.6,885.4 1384.1,917.4 1391.5,902.3 1399.0,841.4 1406.5,903.3 1414.0,864.8 1421.4,868.3 1428.9,862.1 1436.4,882.9 1443.8,872.7 1451.3,917.0 1458.8,916.5 1466.2,905.9 1473.7,909.9 1481.2,914.2 1488.7,911.8 1496.1,876.4 1503.6,906.9 1511.1,843.1 1518.5,865.7 1526.0,877.4 1533.5,863.5 1541.0,900.5 1548.4,845.2 1555.9,852.5 1563.4,861.9 1570.8,882.5 1578.3,852.3 1585.8,860.4 1593.2,867.4 1600.7,846.3 1608.2,869.7 1615.7,892.0 1623.1,876.4 1630.6,906.2" stroke="#0072BD"/>
<path d="M891.0,213.0 898.5,194.1 906.0,189.3 913.4,174.1 920.9,186.0 928.4,217.2 935.8,269.0 943.3,265.0 950.8,280.8 958.3,370.7 965.7,491.8 973.2,591.6 980.7,695.5 988.1,763.3 995.6,817.8 1003.1,780.8 1010.5,822.8 1018.0,878.4 1025.5,865.3 1033.0,902.3 1040.4,893.3 1047.9,852.9 1055.4,861.8 1062.8,877.8 1070.3,896.0 1077.8,865.3 1085.3,840.5 1092.7,884.5 1100.2,915.4 1107.7,916.7 1115.1,914.8 1122.6,841.7 1130.1,876.9 1137.5,852.2 1145.0,908.0 1152.5,900.5 1160.0,864.5 1167.4,847.6 1174.9,893.9 1182.4,917.0 1189.8,850.3 1197.3,898.2 1204.8,860.6 1212.3,909.3 1219.7,864.5 1227.2,852.3 1234.7,861.8 1242.1,892.5 1249.6,861.9 1257.1,910.9 1264.5,896.3 1272.0,887.5 1279.5,849.3 1287.0,909.7 1294.4,849.1 1301.9,855.8 1309.4,841.4 1316.8,891.9 1324.3,905.4 1331.8,902.5 1339.3,853.4 1346.7,842.0 1354.2,864.2 1361.7,882.3 1369.1,898.6 1376.6,853.0 1384.1,849.7 1391.5,914.9 1399.0,904.5 1406.5,853.1 1414.0,851.7 1421.4,896.3 1428.9,899.2 1436.4,886.6 1443.8,877.5 1451.3,914.6 1458.8,852.7 1466.2,877.9 1473.7,857.9 1481.2,903.3 1488.7,842.0 1496.1,859.9 1503.6,893.9 1511.1,843.4 1518.5,864.1 1526.0,852.4 1533.5,918.8 1541.0,917.9 1548.4,860.6 1555.9,897.1 1563.4,879.4 1570.8,909.5 1578.3,840.9 1585.8,880.6 1593.2,853.4 1600.7,916.4 1608.2,882.6 1615.7,917.4 1623.1,848.7 1630.6,885.3" stroke="#D95319"/>
<path d="M891.0,213.0 898.5,248.3 906.0,209.8 913.4,248.8 920.9,241.1 928.4,224.0 935.8,229.0 943.3,243.6 950.8,280.6 958.3,364.5 965.7,427.9 973.2,559.9 980.7,638.6 988.1,668.6 995.6,778.3 1003.1,812.3 1010.5,838.4 1018.0,837.7 1025.5,890.7 1033.0,897.1 1040.4,867.4 1047.9,896.7 1055.4,856.7 1062.8,849.3 1070.3,869.0 1077.8,860.5 1085.3,886.8 1092.7,916.2 1100.2,883.9 1107.7,890.0 1115.1,871.5 1122.6,910.3 1130.1,902.7 1137.5,853.9 1145.0,899.9 1152.5,887.8 1160.0,844.0 1167.4,899.2 1174.9,910.2 1182.4,863.7 1189.8,875.0 1197.3,871.3 1204.8,918.9 1212.3,887.6 1219.7,922.1 1227.2,901.9 1234.7,863.5 1242.1,917.4 1249.6,897.9 1257.1,840.0 1264.5,841.4 1272.0,882.3 1279.5,861.1 1287.0,869.7 1294.4,883.7 1301.9,851.0 1309.4,908.1 1316.8,853.4 1324.3,919.0 1331.8,850.2 1339.3,866.1 1346.7,885.3 1354.2,866.5 1361.7,884.1 1369.1,857.4 1376.6,913.1 1384.1,880.1 1391.5,849.8 1399.0,845.1 1406.5,904.2 1414.0,901.5 1421.4,847.1 1428.9,893.7 1436.4,917.8 1443.8,862.9 1451.3,888.0 1458.8,861.2 1466.2,882.7 1473.7,880.8 1481.2,887.7 1488.7,898.3 1496.1,847.4 1503.6,866.7 1511.1,856.7 1518.5,847.8 1526.0,901.7 1533.5,845.8 1541.0,850.5 1548.4,880.3 1555.9,875.1 1563.4,913.0 1570.8,858.9 1578.3,908.1 1585.8,878.0 1593.2,912.0 1600.7,916.5 1608.2,871.7 1615.7,881.6 1623.1,866.2 1630.6,856.5" stroke="#EDB120"/>
<path d="M891.0,213.0 898.5,247.7 906.0,202.1 913.4,206.8 920.9,201.6 928.4,213.6 935.8,219.9 943.3,210.2 950.8,275.7 958.3,319.0 965.7,377.0 973.2,512.9 980.7,572.7 988.1,679.9 995.6,741.5 1003.1,801.5 1010.5,819.3 1018.0,843.5 1025.5,835.8 1033.0,843.4 1040.4,830.7 1047.9,864.8 1055.4,835.4 1062.8,879.9 1070.3,853.0 1077.8,870.7 1085.3,866.1 1092.7,896.5 1100.2,841.5 1107.7,856.1 1115.1,908.6 1122.6,876.3 1130.1,838.3 1137.5,917.5 1145.0,896.5 1152.5,860.1 1160.0,918.7 1167.4,859.8 1174.9,874.3 1182.4,861.2 1189.8,876.3 1197.3,843.9 1204.8,893.4 1212.3,874.4 1219.7,918.2 1227.2,876.2 1234.7,887.4 1242.1,840.4 1249.6,843.5 1257.1,910.9 1264.5,919.0 1272.0,912.4 1279.5,906.4 1287.0,861.9 1294.4,877.1 1301.9,877.9 1309.4,883.7 1316.8,922.0 1324.3,889.8 1331.8,839.1 1339.3,854.1 1346.7,874.7 1354.2,906.1 1361.7,845.7 1369.1,887.1 1376.6,870.8 1384.1,905.6 1391.5,895.2 1399.0,893.8 1406.5,889.6 1414.0,920.7 1421.4,867.4 1428.9,908.4 1436.4,872.2 1443.8,870.8 1451.3,864.3 1458.8,898.2 1466.2,898.2 1473.7,859.5 1481.2,890.1 1488.7,909.8 1496.1,847.0 1503.6,921.5 1511.1,848.6 1518.5,898.2 1526.0,890.7 1533.5,840.9 1541.0,886.1 1548.4,862.8 1555.9,888.1 1563.4,846.3 1570.8,862.5 1578.3,882.4 1585.8,915.5 1593.2,892.2 1600.7,881.6 1608.2,898.9 1615.7,877.9 1623.1,905.1 1630.6,881.3" stroke="#7E2F8E"/>
<path d="M891.0,213.0 898.5,198.5 906.0,192.5 913.4,194.0 920.9,220.3 928.4,219.8 935.8,190.7 943.3,245.6 950.8,237.8 958.3,256.2 965.7,320.7 973.2,427.7 980.7,532.3 988.1,587.7 995.6,653.7 1003.1,723.7 1010.5,782.0 1018.0,803.6 1025.5,857.2 1033.0,855.5 1040.4,879.0 1047.9,843.6 1055.4,825.0 1062.8,896.2 1070.3,910.0 1077.8,852.8 1085.3,886.9 1092.7,875.5 1100.2,913.6 1107.7,904.7 1115.1,862.0 1122.6,870.0 1130.1,849.7 1137.5,840.8 1145.0,891.4 1152.5,869.9 1160.0,884.4 1167.4,879.7 1174.9,889.3 1182.4,840.5 1189.8,870.1 1197.3,910.4 1204.8,864.0 1212.3,841.7 1219.7,847.6 1227.2,875.8 1234.7,921.2 1242.1,855.2 1249.6,844.6 1257.1,861.2 1264.5,886.7 1272.0,890.7 1279.5,860.3 1287.0,913.5 1294.4,857.0 1301.9,880.9 1309.4,916.7 1316.8,853.8 1324.3,889.8 1331.8,913.6 1339.3,908.0 1346.7,850.8 1354.2,908.1 1361.7,857.1 1369.1,855.4 1376.6,915.3 1384.1,886.2 1391.5,856.8 1399.0,881.6 1406.5,850.3 1414.0,890.8 1421.4,870.1 1428.9,904.7 1436.4,852.2 1443.8,852.5 1451.3,875.3 1458.8,895.6 1466.2,893.5 1473.7,872.9 1481.2,911.8 1488.7,879.9 1496.1,897.9 1503.6,894.0 1511.1,895.7 1518.5,852.9 1526.0,907.9 1533.5,902.8 1541.0,908.8 1548.4,921.3 1555.9,887.0 1563.4,852.1 1570.8,847.2 1578.3,881.9 1585.8,887.4 1593.2,850.1 1600.7,878.4 1608.2,876.8 1615.7,868.4 1623.1,915.9 1630.6,852.6" stroke="#77AC30"/>
<path d="M891.0,213.0 898.5,210.3 906.0,177.4 913.4,209.1 920.9,226.9 928.4,196.5 935.8,186.3 943.3,219.5 950.8,284.4 958.3,247.1 965.7,367.0 973.2,376.9 980.7,435.6 988.1,578.1 995.6,622.1 1003.1,670.8 1010.5,765.2 1018.0,797.4 1025.5,840.2 1033.0,852.7 1040.4,870.8 1047.9,867.0 1055.4,836.3 1062.8,846.7 1070.3,845.1 1077.8,856.8 1085.3,847.9 1092.7,903.6 1100.2,871.1 1107.7,916.6 1115.1,878.2 1122.6,849.4 1130.1,880.9 1137.5,896.1 1145.0,898.1 1152.5,888.5 1160.0,845.2 1167.4,840.3 1174.9,859.3 1182.4,839.5 1189.8,858.4 1197.3,898.4 1204.8,885.9 1212.3,861.9 1219.7,863.1 1227.2,865.7 1234.7,881.6 1242.1,910.4 1249.6,842.3 1257.1,904.0 1264.5,840.7 1272.0,911.8 1279.5,840.6 1287.0,891.1 1294.4,854.8 1301.9,921.9 1309.4,885.4 1316.8,901.7 1324.3,864.5 1331.8,867.2 1339.3,884.0 1346.7,863.5 1354.2,840.9 1361.7,914.7 1369.1,875.6 1376.6,866.1 1384.1,869.7 1391.5,900.6 1399.0,849.5 1406.5,902.0 1414.0,852.0 1421.4,883.2 1428.9,910.6 1436.4,853.7 1443.8,916.0 1451.3,856.2 1458.8,872.5 1466.2,849.4 1473.7,855.5 1481.2,889.0 1488.7,911.3 1496.1,900.3 1503.6,922.4 1511.1,868.0 1518.5,915.4 1526.0,907.6 1533.5,902.1 1541.0,888.7 1548.4,865.2 1555.9,885.5 1563.4,880.5 1570.8,914.8 1578.3,894.3 1585.8,905.3 1593.2,860.9 1600.7,921.1 1608.2,871.1 1615.7,864.3 1623.1,880.4 1630.6,918.8" stroke="#4DBEEE"/>
<path d="M891.0,213.0 898.5,234.9 906.0,232.4 913.4,232.9 920.9,174.1 928.4,190.6 935.8,185.6 943.3,207.7 950.8,252.5 958.3,227.6 965.7,304.8 973.2,384.6 980.7,408.0 988.1,523.6 995.6,552.2 1003.1,627.1 1010.5,721.3 1018.0,751.8 1025.5,764.3 1033.0,793.4 1040.4,823.8 1047.9,863.5 1055.4,864.3 1062.8,840.7 1070.3,866.0 1077.8,848.4 1085.3,854.3 1092.7,884.0 1100.2,907.3 1107.7,860.1 1115.1,888.3 1122.6,871.7 1130.1,909.1 1137.5,907.9 1145.0,885.1 1152.5,865.0 1160.0,911.3 1167.4,856.7 1174.9,850.5 1182.4,865.6 1189.8,859.3 1197.3,902.0 1204.8,913.7 1212.3,894.6 1219.7,911.7 1227.2,887.5 1234.7,858.7 1242.1,898.8 1249.6,850.9 1257.1,884.5 1264.5,908.9 1272.0,868.8 1279.5,885.8 1287.0,894.9 1294.4,879.3 1301.9,839.7 1309.4,859.7 1316.8,898.0 1324.3,845.1 1331.8,907.1 1339.3,888.4 1346.7,891.4 1354.2,840.2 1361.7,922.1 1369.1,868.3 1376.6,880.1 1384.1,909.5 1391.5,869.0 1399.0,855.1 1406.5,858.5 1414.0,916.1 1421.4,856.2 1428.9,893.7 1436.4,851.4 1443.8,875.6 1451.3,915.9 1458.8,860.4 1466.2,875.5 1473.7,884.9 1481.2,869.3 1488.7,885.5 1496.1,919.5 1503.6,846.4 1511.1,898.5 1518.5,899.2 1526.0,918.4 1533.5,862.7 1541.0,846.6 1548.4,883.9 1555.9,854.6 1563.4,895.1 1570.8,890.4 1578.3,898.2 1585.8,897.9 1593.2,875.7 1600.7,895.3 1608.2,917.1 1615.7,864.9 1623.1,896.8 1630.6,889.8" stroke="#A2142F"/>
<path d="M891.0,213.0 898.5,250.6 906.0,200.1 913.4,219.5 920.9,177.3 928.4,254.6 935.8,190.0 943.3,263.0 950.8,261.3 958.3,294.2 965.7,284.4 973.2,343.3 980.7,406.2 988.1,421.6 995.6,528.4 1003.1,569.5 1010.5,634.2 1018.0,730.7 1025.5,744.3 1033.0,813.0 1040.4,821.7 1047.9,812.1 1055.4,834.4 1062.8,884.3 1070.3,891.9 1077.8,839.4 1085.3,849.3 1092.7,856.7 1100.2,894.8 1107.7,849.7 1115.1,868.4 1122.6,905.4 1130.1,904.7 1137.5,867.4 1145.0,838.2 1152.5,871.4 1160.0,896.0 1167.4,861.2 1174.9,904.2 1182.4,867.9 1189.8,887.0 1197.3,919.2 1204.8,878.7 1212.3,879.6 1219.7,845.9 1227.2,862.8 1234.7,896.8 1242.1,868.4 1249.6,901.4 1257.1,867.7 1264.5,872.1 1272.0,871.1 1279.5,908.9 1287.0,863.1 1294.4,877.5 1301.9,860.5 1309.4,918.7 1316.8,861.3 1324.3,843.1 1331.8,873.6 1339.3,910.8 1346.7,845.4 1354.2,876.1 1361.7,899.3 1369.1,870.6 1376.6,850.8 1384.1,913.5 1391.5,875.8 1399.0,869.7 1406.5,845.2 1414.0,919.3 1421.4,880.2 1428.9,861.4 1436.4,867.5 1443.8,850.6 1451.3,867.7 1458.8,869.8 1466.2,871.6 1473.7,908.8 1481.2,851.2 1488.7,879.5 1496.1,920.8 1503.6,854.1 1511.1,865.1 1518.5,867.7 1526.0,918.2 1533.5,863.7 1541.0,894.3 1548.4,854.6 1555.9,909.5 1563.4,894.6 1570.8,913.9 1578.3,921.0 1585.8,895.5 1593.2,864.2 1600.7,887.5 1608.2,897.7 1615.7,844.4 1623.1,861.9 1630.6,841.4" stroke="#0072BD"/>
<path d="M891.0,213.0 898.5,238.5 906.0,173.9 913.4,248.2 920.9,189.5 928.4,176.8 935.8,198.0 943.3,214.6 950.8,240.6 958.3,262.4 965.7,307.1 973.2,319.1 980.7,360.2 988.1,444.4 995.6,453.9 1003.1,521.5 1010.5,645.2 1018.0,674.9 1025.5,696.7 1033.0,757.5 1040.4,804.4 1047.9,784.1 1055.4,826.4 1062.8,830.7 1070.3,828.2 1077.8,874.1 1085.3,846.1 1092.7,885.1 1100.2,855.9 1107.7,891.3 1115.1,848.2 1122.6,887.1 1130.1,837.1 1137.5,903.7 1145.0,859.3 1152.5,848.2 1160.0,847.3 1167.4,877.0 1174.9,874.9 1182.4,896.5 1189.8,849.8 1197.3,857.8 1204.8,878.8 1212.3,879.8 1219.7,845.1 1227.2,875.1 1234.7,914.2 1242.1,913.1 1249.6,858.2 1257.1,878.3 1264.5,875.8 1272.0,886.1 1279.5,920.4 1287.0,855.3 1294.4,890.5 1301.9,883.6 1309.4,885.6 1316.8,911.3 1324.3,842.0 1331.8,842.4 1339.3,921.6 1346.7,917.9 1354.2,890.2 1361.7,840.5 1369.1,882.3 1376.6,845.5 1384.1,894.0 1391.5,881.2 1399.0,853.3 1406.5,867.5 1414.0,896.9 1421.4,884.4 1428.9,870.4 1436.4,889.1 1443.8,906.0 1451.3,903.8 1458.8,860.7 1466.2,905.0 1473.7,907.1 1481.2,898.6 1488.7,840.0 1496.1,839.8 1503.6,882.5 1511.1,904.3 1518.5,885.5 1526.0,848.8 1533.5,874.2 1541.0,847.4 1548.4,849.1 1555.9,854.6 1563.4,848.8 1570.8,879.7 1578.3,908.5 1585.8,857.5 1593.2,839.7 1600.7,867.3 1608.2,901.9 1615.7,845.1 1623.1,845.4 1630.6,845.4" stroke="#D95319"/>
<path d="M891.0,213.0 898.5,176.4 906.0,235.3 913.4,206.8 920.9,172.1 928.4,172.6 935.8,190.5 943.3,212.0 950.8,215.7 958.3,248.0 965.7,282.9 973.2,258.1 980.7,327.9 988.1,402.3 995.6,469.2 1003.1,549.9 1010.5,614.4 1018.0,633.3 1025.5,715.4 1033.0,753.8 1040.4,742.0 1047.9,829.9 1055.4,777.7 1062.8,836.9 1070.3,813.7 1077.8,822.5 1085.3,840.9 1092.7,898.5 1100.2,852.2 1107.7,872.6 1115.1,886.4 1122.6,870.9 1130.1,860.2 1137.5,884.3 1145.0,883.7 1152.5,900.7 1160.0,905.4 1167.4,867.8 1174.9,838.9 1182.4,912.4 1189.8,866.0 1197.3,871.1 1204.8,858.9 1212.3,894.9 1219.7,899.8 1227.2,897.8 1234.7,851.9 1242.1,851.1 1249.6,854.2 1257.1,898.8 1264.5,890.6 1272.0,898.0 1279.5,864.9 1287.0,902.7 1294.4,860.3 1301.9,856.1 1309.4,877.8 1316.8,907.8 1324.3,900.5 1331.8,875.1 1339.3,861.1 1346.7,905.7 1354.2,868.3 1361.7,846.6 1369.1,861.3 1376.6,848.3 1384.1,842.4 1391.5,899.6 1399.0,905.1 1406.5,847.3 1414.0,890.0 1421.4,913.5 1428.9,870.5 1436.4,882.6 1443.8,906.5 1451.3,846.0 1458.8,882.5 1466.2,839.8 1473.7,899.1 1481.2,917.6 1488.7,846.8 1496.1,897.8 1503.6,845.4 1511.1,882.1 1518.5,864.7 1526.0,912.8 1533.5,900.5 1541.0,865.9 1548.4,843.1 1555.9,854.1 1563.4,847.0 1570.8,857.9 1578.3,841.4 1585.8,902.7 1593.2,912.3 1600.7,902.5 1608.2,874.1 1615.7,891.6 1623.1,919.6 1630.6,912.1" stroke="#EDB120"/>
<path d="M891.0,213.0 898.5,226.7 906.0,228.2 913.4,207.6 920.9,200.2 928.4,185.0 935.8,225.1 943.3,181.5 950.8,233.7 958.3,240.4 965.7,258.2 973.2,255.0 980.7,294.2 988.1,368.9 995.6,433.6 1003.1,519.3 1010.5,569.8 1018.0,645.8 1025.5,678.3 1033.0,735.8 1040.4,734.8 1047.9,755.8 1055.4,800.3 1062.8,818.5 1070.3,843.8 1077.8,803.0 1085.3,808.3 1092.7,844.0 1100.2,831.9 1107.7,875.0 1115.1,860.3 1122.6,881.0 1130.1,834.5 1137.5,864.5 1145.0,841.9 1152.5,865.9 1160.0,911.2 1167.4,893.3 1174.9,870.0 1182.4,843.6 1189.8,865.5 1197.3,891.1 1204.8,866.0 1212.3,868.4 1219.7,840.2 1227.2,870.8 1234.7,921.0 1242.1,839.4 1249.6,909.7 1257.1,891.8 1264.5,841.5 1272.0,866.0 1279.5,865.2 1287.0,886.0 1294.4,888.8 1301.9,897.0 1309.4,858.7 1316.8,891.9 1324.3,912.0 1331.8,905.4 1339.3,910.4 1346.7,847.5 1354.2,900.1 1361.7,903.1 1369.1,867.8 1376.6,897.3 1384.1,855.4 1391.5,865.1 1399.0,873.3 1406.5,882.7 1414.0,891.1 1421.4,885.7 1428.9,863.5 1436.4,917.6 1443.8,903.2 1451.3,864.1 1458.8,863.3 1466.2,874.8 1473.7,900.7 1481.2,903.7 1488.7,878.0 1496.1,900.5 1503.6,860.8 1511.1,858.4 1518.5,862.5 1526.0,870.0 1533.5,848.0 1541.0,876.4 1548.4,899.0 1555.9,902.7 1563.4,914.2 1570.8,871.0 1578.3,858.7 1585.8,871.6 1593.2,911.5 1600.7,864.0 1608.2,860.8 1615.7,891.8 1623.1,876.9 1630.6,916.1" stroke="#7E2F8E"/>
<path d="M891.0,213.0 898.5,253.1 906.0,225.6 913.4,187.2 920.9,202.4 928.4,224.1 935.8,180.2 943.3,206.5 950.8,185.9 958.3,231.1 965.7,231.2 973.2,253.8 980.7,334.3 988.1,368.7 995.6,421.7 1003.1,473.8 1010.5,471.3 1018.0,559.0 1025.5,611.4 1033.0,644.0 1040.4,747.2 1047.9,733.1 1055.4,779.1 1062.8,812.3 1070.3,798.2 1077.8,806.6 1085.3,833.6 1092.7,833.8 1100.2,826.2 1107.7,871.9 1115.1,836.1 1122.6,869.1 1130.1,835.0 1137.5,853.4 1145.0,863.5 1152.5,834.3 1160.0,874.5 1167.4,900.1 1174.9,874.6 1182.4,888.1 1189.8,838.8 1197.3,905.3 1204.8,868.5 1212.3,874.1 1219.7,910.7 1227.2,863.1 1234.7,873.0 1242.1,885.2 1249.6,842.1 1257.1,912.7 1264.5,869.2 1272.0,897.6 1279.5,880.5 1287.0,891.4 1294.4,864.8 1301.9,847.8 1309.4,915.6 1316.8,882.3 1324.3,860.9 1331.8,898.2 1339.3,894.3 1346.7,843.5 1354.2,913.2 1361.7,873.4 1369.1,863.9 1376.6,867.1 1384.1,916.9 1391.5,842.4 1399.0,920.5 1406.5,919.8 1414.0,876.1 1421.4,916.2 1428.9,895.7 1436.4,856.4 1443.8,875.8 1451.3,874.0 1458.8,845.9 1466.2,913.8 1473.7,840.0 1481.2,869.0 1488.7,865.1 1496.1,921.2 1503.6,849.8 1511.1,889.6 1518.5,889.3 1526.0,869.4 1533.5,889.4 1541.0,844.1 1548.4,846.0 1555.9,891.4 1563.4,903.7 1570.8,888.6 1578.3,839.7 1585.8,897.1 1593.2,881.2 1600.7,906.0 1608.2,882.2 1615.7,843.0 1623.1,889.0 1630.6,921.5" stroke="#77AC30"/>
<path d="M891.0,213.0 898.5,189.2 906.0,225.8 913.4,246.2 920.9,224.7 928.4,189.5 935.8,217.0 943.3,256.5 950.8,203.7 958.3,246.7 965.7,234.5 973.2,262.8 980.7,308.2 988.1,327.5 995.6,383.7 1003.1,414.9 1010.5,506.3 1018.0,495.8 1025.5,567.5 1033.0,628.0 1040.4,713.0 1047.9,692.0 1055.4,721.1 1062.8,817.2 1070.3,825.5 1077.8,850.8 1085.3,849.5 1092.7,817.5 1100.2,808.9 1107.7,852.6 1115.1,866.5 1122.6,843.4 1130.1,836.4 1137.5,868.2 1145.0,871.9 1152.5,880.6 1160.0,879.0 1167.4,880.2 1174.9,908.0 1182.4,840.4 1189.8,875.6 1197.3,862.0 1204.8,882.0 1212.3,855.1 1219.7,902.0 1227.2,850.2 1234.7,841.0 1242.1,910.4 1249.6,884.9 1257.1,918.1 1264.5,856.9 1272.0,878.1 1279.5,919.2 1287.0,846.3 1294.4,844.9 1301.9,898.7 1309.4,860.3 1316.8,916.0 1324.3,867.6 1331.8,896.0 1339.3,920.2 1346.7,896.9 1354.2,877.5 1361.7,919.5 1369.1,849.0 1376.6,887.5 1384.1,879.7 1391.5,841.7 1399.0,844.9 1406.5,862.4 1414.0,861.8 1421.4,852.5 1428.9,869.5 1436.4,871.8 1443.8,849.9 1451.3,911.9 1458.8,840.6 1466.2,901.5 1473.7,903.0 1481.2,870.4 1488.7,876.0 1496.1,876.9 1503.6,849.8 1511.1,922.0 1518.5,909.8 1526.0,906.3 1533.5,876.4 1541.0,892.4 1548.4,868.5 1555.9,887.6 1563.4,920.4 1570.8,856.6 1578.3,880.5 1585.8,889.8 1593.2,899.1 1600.7,850.1 1608.2,870.3 1615.7,914.3 1623.1,889.4 1630.6,839.9" stroke="#4DBEEE"/>
<path d="M891.0,213.0 898.5,244.7 906.0,249.0 913.4,249.0 920.9,251.6 928.4,216.1 935.8,180.3 943.3,178.5 950.8,185.1 958.3,234.6 965.7,218.7 973.2,286.0 980.7,248.8 988.1,320.8 995.6,328.9 1003.1,408.0 1010.5,446.1 1018.0,506.3 1025.5,551.2 1033.0,628.7 1040.4,688.4 1047.9,698.2 1055.4,715.4 1062.8,775.9 1070.3,750.5 1077.8,811.7 1085.3,830.7 1092.7,842.1 1100.2,803.3 1107.7,866.2 1115.1,844.8 1122.6,857.0 1130.1,822.9 1137.5,904.2 1145.0,828.5 1152.5,883.1 1160.0,846.8 1167.4,898.5 1174.9,856.8 1182.4,889.6 1189.8,902.2 1197.3,903.9 1204.8,904.8 1212.3,843.7 1219.7,881.9 1227.2,894.1 1234.7,852.8 1242.1,876.1 1249.6,865.0 1257.1,897.7 1264.5,905.2 1272.0,909.7 1279.5,893.4 1287.0,887.6 1294.4,868.3 1301.9,889.5 1309.4,890.0 1316.8,905.5 1324.3,889.2 1331.8,876.1 1339.3,910.8 1346.7,859.1 1354.2,845.8 1361.7,874.8 1369.1,896.5 1376.6,841.3 1384.1,912.0 1391.5,906.4 1399.0,858.2 1406.5,854.8 1414.0,891.2 1421.4,914.5 1428.9,869.1 1436.4,893.8 1443.8,851.3 1451.3,917.1 1458.8,877.8 1466.2,908.5 1473.7,843.5 1481.2,841.3 1488.7,873.6 1496.1,864.6 1503.6,849.1 1511.1,847.1 1518.5,912.7 1526.0,894.8 1533.5,856.4 1541.0,899.6 1548.4,887.1 1555.9,840.5 1563.4,882.9 1570.8,874.5 1578.3,903.8 1585.8,910.2 1593.2,847.0 1600.7,858.3 1608.2,911.5 1615.7,844.8 1623.1,847.7 1630.6,895.1" stroke="#A2142F"/>
<path d="M891.0,213.0 898.5,243.5 906.0,234.0 913.4,181.3 920.9,210.9 928.4,220.7 935.8,230.6 943.3,239.0 950.8,245.0 958.3,226.9 965.7,230.8 973.2,278.0 980.7,242.6 988.1,322.6 995.6,353.0 1003.1,333.5 1010.5,426.7 1018.0,501.8 1025.5,536.0 1033.0,608.9 1040.4,663.1 1047.9,635.3 1055.4,748.1 1062.8,724.7 1070.3,775.2 1077.8,814.6 1085.3,777.2 1092.7,820.7 1100.2,871.2 1107.7,851.8 1115.1,839.5 1122.6,860.8 1130.1,875.9 1137.5,877.1 1145.0,882.2 1152.5,870.2 1160.0,828.6 1167.4,836.7 1174.9,869.9 1182.4,841.8 1189.8,903.4 1197.3,865.2 1204.8,850.4 1212.3,897.1 1219.7,872.7 1227.2,876.6 1234.7,911.2 1242.1,839.3 1249.6,889.9 1257.1,873.6 1264.5,919.2 1272.0,877.9 1279.5,884.5 1287.0,848.3 1294.4,916.0 1301.9,848.1 1309.4,905.8 1316.8,851.5 1324.3,858.2 1331.8,871.7 1339.3,892.2 1346.7,884.2 1354.2,866.2 1361.7,890.8 1369.1,916.9 1376.6,863.4 1384.1,863.0 1391.5,898.6 1399.0,904.3 1406.5,847.3 1414.0,893.2 1421.4,916.3 1428.9,850.1 1436.4,902.7 1443.8,889.6 1451.3,875.3 1458.8,883.1 1466.2,904.2 1473.7,902.7 1481.2,880.4 1488.7,911.7 1496.1,847.3 1503.6,900.6 1511.1,910.1 1518.5,907.2 1526.0,906.2 1533.5,846.3 1541.0,886.6 1548.4,859.5 1555.9,853.6 1563.4,914.9 1570.8,871.0 1578.3,854.0 1585.8,903.4 1593.2,844.6 1600.7,877.9 1608.2,879.3 1615.7,839.5 1623.1,907.4 1630.6,844.9" stroke="#0072BD"/>
<path d="M891.0,213.0 898.5,207.9 906.0,248.3 913.4,224.7 920.9,234.1 928.4,190.0 935.8,172.4 943.3,242.6 950.8,250.6 958.3,201.2 965.7,175.8 973.2,178.6 980.7,189.2 988.1,203.3 995.6,219.9 1003.1,272.1 1010.5,202.0 1018.0,240.5 1025.5,258.8 1033.0,308.2 1040.4,309.2 1047.9,311.1 1055.4,277.4 1062.8,324.4 1070.3,340.8 1077.8,390.7 1085.3,385.0 1092.7,454.2 1100.2,473.3 1107.7,477.1 1115.1,532.1 1122.6,496.9 1130.1,572.5 1137.5,574.3 1145.0,557.1 1152.5,623.2 1160.0,623.3 1167.4,629.8 1174.9,665.4 1182.4,693.5 1189.8,683.4 1197.3,671.0 1204.8,713.3 1212.3,698.9 1219.7,743.1 1227.2,738.8 1234.7,699.0 1242.1,777.7 1249.6,712.2 1257.1,788.7 1264.5,729.5 1272.0,769.5 1279.5,745.8 1287.0,788.1 1294.4,795.3 1301.9,805.0 1309.4,814.1 1316.8,785.5 1324.3,815.1 1331.8,796.6 1339.3,748.6 1346.7,764.6 1354.2,789.3 1361.7,823.6 1369.1,822.4 1376.6,744.5 1384.1,791.5 1391.5,779.5 1399.0,768.0 1406.5,779.2 1414.0,768.2 1421.4,784.7 1428.9,790.8 1436.4,794.7 1443.8,758.8 1451.3,751.2 1458.8,801.8 1466.2,816.8 1473.7,757.1 1481.2,810.7 1488.7,775.0 1496.1,815.5 1503.6,785.7 1511.1,809.2 1518.5,832.3 1526.0,834.2 1533.5,811.0 1541.0,797.7 1548.4,799.8 1555.9,799.9 1563.4,794.8 1570.8,826.0 1578.3,782.7 1585.8,772.9 1593.2,800.4 1600.7,798.6 1608.2,827.0 1615.7,834.8 1623.1,817.1 1630.6,801.7" stroke="#D95319"/>
<path d="M891.0,213.0 898.5,224.9 906.0,215.4 913.4,209.8 920.9,193.5 928.4,211.0 935.8,240.3 943.3,229.5 950.8,219.2 958.3,210.9 965.7,222.1 973.2,225.9 980.7,184.7 988.1,207.7 995.6,189.8 1003.1,257.6 1010.5,222.1 1018.0,245.7 1025.5,268.1 1033.0,301.6 1040.4,244.8 1047.9,333.4 1055.4,282.1 1062.8,339.1 1070.3,319.4 1077.8,410.1 1085.3,432.5 1092.7,427.2 1100.2,433.9 1107.7,455.6 1115.1,510.4 1122.6,505.0 1130.1,547.6 1137.5,588.9 1145.0,613.3 1152.5,622.7 1160.0,586.6 1167.4,654.4 1174.9,646.6 1182.4,695.1 1189.8,637.0 1197.3,655.9 1204.8,726.9 1212.3,732.1 1219.7,685.1 1227.2,741.6 1234.7,764.5 1242.1,729.1 1249.6,772.1 1257.1,783.3 1264.5,741.0 1272.0,716.8 1279.5,785.7 1287.0,733.4 1294.4,755.1 1301.9,738.2 1309.4,785.0 1316.8,785.7 1324.3,769.2 1331.8,800.0 1339.3,794.8 1346.7,811.3 1354.2,752.6 1361.7,784.7 1369.1,813.4 1376.6,750.4 1384.1,809.1 1391.5,824.5 1399.0,787.9 1406.5,775.2 1414.0,784.8 1421.4,775.2 1428.9,796.4 1436.4,762.5 1443.8,781.2 1451.3,816.0 1458.8,759.0 1466.2,827.0 1473.7,803.7 1481.2,783.2 1488.7,753.5 1496.1,805.3 1503.6,818.2 1511.1,780.1 1518.5,767.3 1526.0,810.2 1533.5,793.2 1541.0,776.1 1548.4,789.1 1555.9,762.6 1563.4,820.7 1570.8,766.6 1578.3,830.2 1585.8,809.4 1593.2,764.8 1600.7,792.8 1608.2,759.8 1615.7,785.4 1623.1,771.2 1630.6,818.0" stroke="#EDB120"/>
<path d="M891.0,213.0 898.5,214.8 906.0,230.1 913.4,216.2 920.9,200.1 928.4,177.1 935.8,210.0 943.3,246.9 950.8,223.5 958.3,230.6 965.7,235.5 973.2,221.6 980.7,233.9 988.1,197.2 995.6,229.3 1003.1,197.3 1010.5,251.1 1018.0,201.4 1025.5,281.5 1033.0,250.2 1040.4,304.1 1047.9,309.9 1055.4,277.6 1062.8,316.7 1070.3,351.5 1077.8,398.6 1085.3,353.5 1092.7,395.2 1100.2,470.6 1107.7,468.0 1115.1,480.6 1122.6,543.0 1130.1,562.3 1137.5,537.9 1145.0,538.3 1152.5,604.1 1160.0,647.5 1167.4,628.0 1174.9,619.0 1182.4,633.5 1189.8,644.5 1197.3,658.5 1204.8,674.2 1212.3,737.5 1219.7,696.4 1227.2,681.2 1234.7,726.4 1242.1,752.0 1249.6,707.5 1257.1,721.8 1264.5,744.2 1272.0,793.4 1279.5,763.5 1287.0,768.3 1294.4,743.6 1301.9,728.2 1309.4,769.2 1316.8,775.7 1324.3,765.9 1331.8,768.4 1339.3,763.3 1346.7,802.1 1354.2,786.4 1361.7,754.6 1369.1,776.9 1376.6,791.3 1384.1,813.3 1391.5,811.7 1399.0,822.1 1406.5,753.2 1414.0,782.8 1421.4,770.2 1428.9,772.9 1436.4,781.1 1443.8,822.6 1451.3,795.4 1458.8,806.9 1466.2,832.9 1473.7,791.1 1481.2,756.6 1488.7,753.9 1496.1,824.3 1503.6,769.3 1511.1,833.0 1518.5,823.3 1526.0,823.4 1533.5,812.1 1541.0,833.8 1548.4,818.7 1555.9,830.0 1563.4,777.9 1570.8,764.6 1578.3,792.2 1585.8,831.4 1593.2,817.5 1600.7,828.9 1608.2,755.2 1615.7,796.2 1623.1,823.1 1630.6,790.2" stroke="#7E2F8E"/>
<path d="M891.0,213.0 898.5,203.0 906.0,216.1 913.4,203.3 920.9,187.2 928.4,213.4 935.8,241.4 943.3,217.0 950.8,208.0 958.3,238.8 965.7,186.2 973.2,201.2 980.7,249.5 988.1,197.7 995.6,202.5 1003.1,220.4 1010.5,231.7 1018.0,239.8 1025.5,281.2 1033.0,295.2 1040.4,243.2 1047.9,289.2 1055.4,291.3 1062.8,302.5 1070.3,301.1 1077.8,338.9 1085.3,379.3 1092.7,395.6 1100.2,443.6 1107.7,414.6 1115.1,460.5 1122.6,529.3 1130.1,495.1 1137.5,497.3 1145.0,524.2 1152.5,565.3 1160.0,587.8 1167.4,575.3 1174.9,607.7 1182.4,659.4 1189.8,630.6 1197.3,637.1 1204.8,690.0 1212.3,706.0 1219.7,701.9 1227.2,742.3 1234.7,693.7 1242.1,752.2 1249.6,713.9 1257.1,751.9 1264.5,763.9 1272.0,721.3 1279.5,713.5 1287.0,770.0 1294.4,725.0 1301.9,789.7 1309.4,774.8 1316.8,780.7 1324.3,761.6 1331.8,785.5 1339.3,796.0 1346.7,764.6 1354.2,781.1 1361.7,763.4 1369.1,777.5 1376.6,790.2 1384.1,783.4 1391.5,757.3 1399.0,766.6 1406.5,799.9 1414.0,788.3 1421.4,826.9 1428.9,756.4 1436.4,749.8 1443.8,768.5 1451.3,757.7 1458.8,818.1 1466.2,803.1 1473.7,821.4 1481.2,829.1 1488.7,802.1 1496.1,788.9 1503.6,767.5 1511.1,762.1 1518.5,814.7 1526.0,762.5 1533.5,759.8 1541.0,784.4 1548.4,770.3 1555.9,756.2 1563.4,792.7 1570.8,826.3 1578.3,820.6 1585.8,787.0 1593.2,779.7 1600.7,804.2 1608.2,811.3 1615.7,772.8 1623.1,778.1 1630.6,765.1" stroke="#77AC30"/>
<path d="M891.0,213.0 898.5,198.8 906.0,214.1 913.4,222.3 920.9,202.9 928.4,204.6 935.8,236.5 943.3,225.0 950.8,248.0 958.3,200.2 965.7,244.7 973.2,216.4 980.7,177.4 988.1,186.2 995.6,203.1 1003.1,200.2 1010.5,215.2 1018.0,198.5 1025.5,272.1 1033.0,242.7 1040.4,273.1 1047.9,288.2 1055.4,253.1 1062.8,280.9 1070.3,342.5 1077.8,340.4 1085.3,350.2 1092.7,382.2 1100.2,421.5 1107.7,470.5 1115.1,440.1 1122.6,462.2 1130.1,514.7 1137.5,563.4 1145.0,585.3 1152.5,551.0 1160.0,569.7 1167.4,574.1 1174.9,633.5 1182.4,630.6 1189.8,638.8 1197.3,645.7 1204.8,639.7 1212.3,699.8 1219.7,689.0 1227.2,677.0 1234.7,684.3 1242.1,748.3 1249.6,751.0 1257.1,746.9 1264.5,760.7 1272.0,768.3 1279.5,716.1 1287.0,745.7 1294.4,734.3 1301.9,757.0 1309.4,801.6 1316.8,771.3 1324.3,792.8 1331.8,790.4 1339.3,748.8 1346.7,780.5 1354.2,768.8 1361.7,799.6 1369.1,821.2 1376.6,804.0 1384.1,815.5 1391.5,747.4 1399.0,749.7 1406.5,785.1 1414.0,756.5 1421.4,804.5 1428.9,758.7 1436.4,808.7 1443.8,784.8 1451.3,804.3 1458.8,807.4 1466.2,781.6 1473.7,810.5 1481.2,775.2 1488.7,751.0 1496.1,759.1 1503.6,823.2 1511.1,833.0 1518.5,791.5 1526.0,761.2 1533.5,776.0 1541.0,763.4 1548.4,780.9 1555.9,803.2 1563.4,807.5 1570.8,776.7 1578.3,771.8 1585.8,767.6 1593.2,820.2 1600.7,810.9 1608.2,834.8 1615.7,819.4 1623.1,801.4 1630.6,770.4" stroke="#4DBEEE"/>
<path d="M891.0,213.0 898.5,187.8 906.0,201.9 913.4,207.5 920.9,239.9 928.4,194.4 935.8,229.2 943.3,200.2 950.8,210.1 958.3,215.1 965.7,196.9 973.2,246.0 980.7,218.9 988.1,252.2 995.6,230.0 1003.1,224.9 1010.5,203.9 1018.0,256.5 1025.5,230.0 1033.0,222.0 1040.4,285.9 1047.9,308.6 1055.4,271.1 1062.8,330.6 1070.3,349.1 1077.8,355.6 1085.3,347.0 1092.7,378.5 1100.2,419.9 1107.7,462.0 1115.1,426.5 1122.6,485.9 1130.1,517.4 1137.5,510.3 1145.0,541.6 1152.5,592.7 1160.0,601.8 1167.4,561.2 1174.9,589.0 1182.4,659.8 1189.8,663.5 1197.3,676.6 1204.8,669.3 1212.3,650.3 1219.7,689.1 1227.2,737.0 1234.7,673.4 1242.1,748.8 1249.6,728.9 1257.1,715.8 1264.5,725.6 1272.0,758.0 1279.5,741.4 1287.0,742.9 1294.4,791.2 1301.9,727.2 1309.4,770.3 1316.8,769.9 1324.3,769.7 1331.8,742.6 1339.3,781.0 1346.7,736.3 1354.2,774.1 1361.7,757.3 1369.1,756.3 1376.6,813.9 1384.1,776.2 1391.5,811.4 1399.0,797.5 1406.5,784.8 1414.0,801.7 1421.4,744.9 1428.9,802.4 1436.4,801.6 1443.8,783.0 1451.3,810.3 1458.8,751.0 1466.2,750.1 1473.7,782.0 1481.2,762.7 1488.7,799.7 1496.1,798.6 1503.6,804.3 1511.1,759.6 1518.5,768.2 1526.0,832.7 1533.5,820.4 1541.0,795.3 1548.4,790.3 1555.9,796.7 1563.4,805.5 1570.8,829.9 1578.3,819.7 1585.8,758.2 1593.2,781.2 1600.7,804.9 1608.2,812.1 1615.7,831.2 1623.1,823.9 1630.6,765.1" stroke="#A2142F"/>
<path d="M891.0,213.0 898.5,206.3 906.0,237.9 913.4,189.4 920.9,242.8 928.4,233.1 935.8,253.3 943.3,252.0 950.8,238.6 958.3,206.4 965.7,190.2 973.2,241.9 980.7,240.1 988.1,246.3 995.6,215.1 1003.1,184.8 1010.5,226.9 1018.0,274.6 1025.5,221.8 1033.0,270.0 1040.4,295.8 1047.9,247.0 1055.4,316.7 1062.8,326.3 1070.3,274.3 1077.8,301.9 1085.3,362.1 1092.7,378.7 1100.2,415.9 1107.7,406.8 1115.1,444.6 1122.6,490.4 1130.1,504.0 1137.5,477.3 1145.0,552.2 1152.5,573.9 1160.0,599.7 1167.4,567.3 1174.9,576.8 1182.4,616.3 1189.8,668.0 1197.3,670.9 1204.8,680.0 1212.3,695.6 1219.7,698.1 1227.2,709.6 1234.7,689.9 1242.1,746.3 1249.6,748.5 1257.1,702.4 1264.5,757.8 1272.0,733.4 1279.5,740.2 1287.0,745.3 1294.4,715.5 1301.9,771.3 1309.4,796.7 1316.8,795.6 1324.3,728.0 1331.8,765.9 1339.3,787.6 1346.7,779.7 1354.2,795.7 1361.7,761.5 1369.1,807.9 1376.6,769.9 1384.1,759.0 1391.5,800.4 1399.0,742.7 1406.5,797.0 1414.0,743.6 1421.4,797.3 1428.9,789.3 1436.4,764.2 1443.8,771.0 1451.3,823.2 1458.8,804.7 1466.2,794.7 1473.7,800.8 1481.2,790.6 1488.7,822.2 1496.1,771.3 1503.6,814.4 1511.1,790.0 1518.5,774.9 1526.0,820.8 1533.5,780.6 1541.0,772.5 1548.4,821.0 1555.9,786.1 1563.4,788.9 1570.8,754.9 1578.3,767.7 1585.8,802.5 1593.2,779.0 1600.7,802.2 1608.2,817.7 1615.7,816.9 1623.1,820.3 1630.6,798.2" stroke="#0072BD"/>
<path d="M891.0,213.0 898.5,251.8 906.0,253.2 913.4,227.5 920.9,220.1 928.4,226.9 935.8,250.9 943.3,253.5 950.8,221.1 958.3,235.6 965.7,227.3 973.2,188.9 980.7,257.9 988.1,201.9 995.6,200.6 1003.1,259.4 1010.5,224.2 1018.0,261.8 1025.5,264.8 1033.0,267.6 1040.4,250.6 1047.9,307.1 1055.4,283.5 1062.8,306.5 1070.3,288.0 1077.8,307.8 1085.3,318.0 1092.7,325.7 1100.2,382.9 1107.7,444.4 1115.1,391.2 1122.6,484.1 1130.1,436.5 1137.5,469.4 1145.0,541.0 1152.5,547.3 1160.0,550.7 1167.4,582.5 1174.9,570.8 1182.4,649.2 1189.8,622.2 1197.3,672.1 1204.8,661.1 1212.3,644.9 1219.7,650.7 1227.2,718.7 1234.7,680.9 1242.1,742.3 1249.6,686.2 1257.1,731.6 1264.5,753.7 1272.0,724.6 1279.5,778.1 1287.0,715.5 1294.4,712.5 1301.9,712.5 1309.4,766.4 1316.8,780.2 1324.3,726.1 1331.8,730.1 1339.3,732.4 1346.7,734.9 1354.2,760.3 1361.7,815.3 1369.1,755.5 1376.6,740.0 1384.1,803.5 1391.5,800.7 1399.0,800.2 1406.5,759.5 1414.0,774.1 1421.4,822.4 1428.9,782.2 1436.4,800.3 1443.8,764.4 1451.3,778.4 1458.8,801.3 1466.2,816.3 1473.7,824.7 1481.2,771.7 1488.7,779.7 1496.1,807.6 1503.6,761.1 1511.1,826.1 1518.5,761.6 1526.0,817.9 1533.5,775.9 1541.0,811.3 1548.4,824.8 1555.9,808.7 1563.4,771.8 1570.8,778.2 1578.3,774.7 1585.8,812.0 1593.2,767.7 1600.7,829.5 1608.2,820.9 1615.7,758.7 1623.1,791.3 1630.6,773.8" stroke="#D95319"/>
<path d="M891.0,213.0 898.5,234.7 906.0,229.7 913.4,195.4 920.9,215.3 928.4,192.6 935.8,182.5 943.3,216.5 950.8,186.0 958.3,209.2 965.7,174.3 973.2,215.9 980.7,175.7 988.1,213.2 995.6,197.3 1003.1,195.5 1010.5,195.7 1018.0,241.2 1025.5,268.8 1033.0,284.3 1040.4,216.9 1047.9,287.7 1055.4,244.5 1062.8,288.2 1070.3,305.7 1077.8,279.4 1085.3,332.0 1092.7,390.0 1100.2,348.3 1107.7,430.0 1115.1,412.8 1122.6,413.3 1130.1,463.3 1137.5,450.2 1145.0,537.7 1152.5,540.4 1160.0,513.0 1167.4,538.1 1174.9,581.2 1182.4,616.9 1189.8,647.5 1197.3,603.6 1204.8,668.2 1212.3,641.5 1219.7,678.7 1227.2,672.7 1234.7,719.9 1242.1,694.7 1249.6,680.4 1257.1,723.1 1264.5,720.4 1272.0,753.1 1279.5,699.8 1287.0,718.9 1294.4,773.5 1301.9,709.8 1309.4,719.7 1316.8,746.1 1324.3,725.1 1331.8,730.9 1339.3,742.4 1346.7,737.6 1354.2,807.4 1361.7,796.0 1369.1,755.6 1376.6,750.9 1384.1,805.4 1391.5,781.7 1399.0,794.0 1406.5,749.5 1414.0,788.7 1421.4,764.6 1428.9,769.9 1436.4,800.5 1443.8,744.8 1451.3,759.2 1458.8,805.7 1466.2,797.1 1473.7,816.3 1481.2,753.4 1488.7,815.8 1496.1,749.8 1503.6,804.1 1511.1,780.0 1518.5,804.1 1526.0,774.2 1533.5,773.2 1541.0,757.2 1548.4,792.8 1555.9,810.9 1563.4,777.5 1570.8,832.8 1578.3,783.4 1585.8,832.1 1593.2,762.6 1600.7,763.2 1608.2,774.1 1615.7,787.7 1623.1,835.2 1630.6,821.5" stroke="#EDB120"/>
<path d="M891.0,213.0 898.5,252.7 906.0,229.8 913.4,250.3 920.9,209.3 928.4,201.9 935.8,246.8 943.3,248.5 950.8,231.5 958.3,205.1 965.7,223.1 973.2,236.9 980.7,253.2 988.1,193.7 995.6,183.9 1003.1,237.8 1010.5,188.6 1018.0,257.0 1025.5,237.4 1033.0,238.0 1040.4,209.7 1047.9,278.8 1055.4,239.7 1062.8,302.4 1070.3,319.2 1077.8,346.7 1085.3,349.5 1092.7,382.7 1100.2,332.7 1107.7,427.4 1115.1,377.4 1122.6,421.7 1130.1,481.8 1137.5,482.8 1145.0,491.2 1152.5,501.7 1160.0,543.5 1167.4,581.9 1174.9,597.3 1182.4,592.7 1189.8,602.0 1197.3,587.9 1204.8,668.9 1212.3,669.0 1219.7,664.9 1227.2,653.2 1234.7,696.3 1242.1,698.9 1249.6,662.5 1257.1,751.9 1264.5,753.0 1272.0,748.6 1279.5,716.7 1287.0,760.2 1294.4,752.3 1301.9,732.6 1309.4,750.0 1316.8,767.7 1324.3,722.1 1331.8,764.1 1339.3,800.6 1346.7,740.7 1354.2,733.4 1361.7,795.0 1369.1,769.2 1376.6,810.0 1384.1,791.9 1391.5,735.8 1399.0,784.9 1406.5,789.2 1414.0,804.1 1421.4,809.9 1428.9,818.2 1436.4,825.9 1443.8,759.3 1451.3,775.2 1458.8,826.6 1466.2,821.3 1473.7,748.0 1481.2,763.6 1488.7,816.4 1496.1,748.4 1503.6,780.7 1511.1,798.7 1518.5,823.4 1526.0,827.6 1533.5,808.6 1541.0,821.0 1548.4,798.5 1555.9,789.6 1563.4,802.7 1570.8,810.0 1578.3,761.4 1585.8,792.2 1593.2,754.2 1600.7,810.3 1608.2,810.8 1615.7,775.4 1623.1,824.5 1630.6,754.5" stroke="#7E2F8E"/>
<path d="M891.0,213.0 898.5,183.5 906.0,218.0 913.4,189.5 920.9,230.4 928.4,196.2 935.8,232.8 943.3,202.7 950.8,227.9 958.3,254.1 965.7,177.1 973.2,248.5 980.7,255.9 988.1,181.0 995.6,190.2 1003.1,256.9 1010.5,246.2 1018.0,228.1 1025.5,268.4 1033.0,247.4 1040.4,208.3 1047.9,236.9 1055.4,259.3 1062.8,308.9 1070.3,286.3 1077.8,269.4 1085.3,287.8 1092.7,325.0 1100.2,342.8 1107.7,359.7 1115.1,438.3 1122.6,456.6 1130.1,425.6 1137.5,459.1 1145.0,455.7 1152.5,523.2 1160.0,518.5 1167.4,548.0 1174.9,545.0 1182.4,618.0 1189.8,602.6 1197.3,588.9 1204.8,671.0 1212.3,656.6 1219.7,668.9 1227.2,673.6 1234.7,663.9 1242.1,690.4 1249.6,677.5 1257.1,704.0 1264.5,730.3 1272.0,691.3 1279.5,730.2 1287.0,756.5 1294.4,752.2 1301.9,707.6 1309.4,709.3 1316.8,741.0 1324.3,776.5 1331.8,763.5 1339.3,729.8 1346.7,784.9 1354.2,785.9 1361.7,784.0 1369.1,778.5 1376.6,802.2 1384.1,796.0 1391.5,810.7 1399.0,777.8 1406.5,805.5 1414.0,803.6 1421.4,797.3 1428.9,788.3 1436.4,793.2 1443.8,780.1 1451.3,821.8 1458.8,825.8 1466.2,801.1 1473.7,791.6 1481.2,747.5 1488.7,828.1 1496.1,760.2 1503.6,818.0 1511.1,786.0 1518.5,767.6 1526.0,768.5 1533.5,814.8 1541.0,765.6 1548.4,828.9 1555.9,802.6 1563.4,753.7 1570.8,771.0 1578.3,799.8 1585.8,816.9 1593.2,800.4 1600.7,799.7 1608.2,755.1 1615.7,818.5 1623.1,768.1 1630.6,767.9" stroke="#77AC30"/>
<path d="M891.0,213.0 898.5,184.6 906.0,173.6 913.4,215.6 920.9,226.0 928.4,215.7 935.8,208.9 943.3,205.4 950.8,212.3 958.3,184.8 965.7,228.4 973.2,173.7 980.7,214.1 988.1,252.1 995.6,243.7 1003.1,216.8 1010.5,197.8 1018.0,253.1 1025.5,193.8 1033.0,271.2 1040.4,205.8 1047.9,279.1 1055.4,254.6 1062.8,253.1 1070.3,310.9 1077.8,307.9 1085.3,348.0 1092.7,302.0 1100.2,349.0 1107.7,353.9 1115.1,387.7 1122.6,373.4 1130.1,423.7 1137.5,456.3 1145.0,450.5 1152.5,481.8 1160.0,516.3 1167.4,570.2 1174.9,513.0 1182.4,606.3 1189.8,595.7 1197.3,580.9 1204.8,643.1 1212.3,649.2 1219.7,677.0 1227.2,691.7 1234.7,660.1 1242.1,700.8 1249.6,725.9 1257.1,664.2 1264.5,726.4 1272.0,715.9 1279.5,711.9 1287.0,716.0 1294.4,744.3 1301.9,731.9 1309.4,715.9 1316.8,745.4 1324.3,767.9 1331.8,776.2 1339.3,772.7 1346.7,762.8 1354.2,732.1 1361.7,759.4 1369.1,748.8 1376.6,761.8 1384.1,787.3 1391.5,735.3 1399.0,811.0 1406.5,786.9 1414.0,794.1 1421.4,802.2 1428.9,819.2 1436.4,788.4 1443.8,742.3 1451.3,765.4 1458.8,814.2 1466.2,755.1 1473.7,762.0 1481.2,753.4 1488.7,810.1 1496.1,761.0 1503.6,828.6 1511.1,805.4 1518.5,794.5 1526.0,800.4 1533.5,785.3 1541.0,777.4 1548.4,809.2 1555.9,826.9 1563.4,830.6 1570.8,799.7 1578.3,757.1 1585.8,782.8 1593.2,801.0 1600.7,766.6 1608.2,754.4 1615.7,752.8 1623.1,823.7 1630.6,820.2" stroke="#4DBEEE"/>
<path d="M891.0,213.0 898.5,175.6 906.0,181.5 913.4,212.2 920.9,202.9 928.4,216.5 935.8,187.7 943.3,200.5 950.8,226.0 958.3,244.0 965.7,210.6 973.2,253.6 980.7,212.4 988.1,230.4 995.6,214.2 1003.1,240.1 1010.5,225.0 1018.0,195.1 1025.5,264.4 1033.0,270.9 1040.4,271.9 1047.9,280.4 1055.4,226.9 1062.8,293.7 1070.3,264.1 1077.8,270.6 1085.3,307.5 1092.7,302.5 1100.2,367.9 1107.7,389.2 1115.1,388.1 1122.6,428.1 1130.1,405.3 1137.5,446.7 1145.0,447.9 1152.5,479.2 1160.0,501.0 1167.4,541.5 1174.9,507.8 1182.4,601.5 1189.8,569.6 1197.3,568.6 1204.8,589.9 1212.3,659.5 1219.7,609.0 1227.2,626.2 1234.7,635.1 1242.1,665.2 1249.6,654.9 1257.1,669.1 1264.5,664.8 1272.0,702.4 1279.5,691.8 1287.0,746.1 1294.4,697.4 1301.9,741.8 1309.4,734.6 1316.8,783.3 1324.3,782.3 1331.8,754.1 1339.3,744.5 1346.7,732.7 1354.2,735.2 1361.7,760.9 1369.1,748.1 1376.6,805.5 1384.1,765.6 1391.5,770.1 1399.0,755.0 1406.5,773.5 1414.0,810.6 1421.4,763.8 1428.9,758.2 1436.4,771.0 1443.8,749.3 1451.3,765.2 1458.8,793.6 1466.2,789.1 1473.7,810.8 1481.2,779.6 1488.7,825.3 1496.1,786.9 1503.6,755.2 1511.1,781.3 1518.5,790.9 1526.0,810.8 1533.5,825.8 1541.0,812.9 1548.4,764.5 1555.9,794.0 1563.4,826.7 1570.8,789.1 1578.3,775.8 1585.8,797.8 1593.2,791.1 1600.7,827.2 1608.2,822.0 1615.7,786.9 1623.1,805.9 1630.6,798.9" stroke="#A2142F"/>
<path d="M891.0,213.0 898.5,245.1 906.0,253.3 913.4,234.3 920.9,195.3 928.4,237.9 935.8,229.9 943.3,211.3 950.8,224.4 958.3,201.8 965.7,198.9 973.2,223.7 980.7,221.9 988.1,177.7 995.6,219.4 1003.1,196.3 1010.5,181.1 1018.0,257.6 1025.5,262.7 1033.0,261.7 1040.4,273.2 1047.9,228.9 1055.4,277.8 1062.8,302.4 1070.3,291.5 1077.8,265.8 1085.3,316.9 1092.7,320.5 1100.2,356.2 1107.7,312.0 1115.1,365.7 1122.6,408.5 1130.1,438.1 1137.5,461.6 1145.0,471.8 1152.5,441.8 1160.0,526.3 1167.4,483.4 1174.9,496.6 1182.4,574.0 1189.8,609.7 1197.3,608.8 1204.8,642.2 1212.3,606.6 1219.7,628.1 1227.2,658.3 1234.7,618.4 1242.1,631.0 1249.6,667.7 1257.1,674.3 1264.5,656.3 1272.0,698.2 1279.5,689.4 1287.0,713.4 1294.4,734.0 1301.9,703.3 1309.4,721.9 1316.8,781.9 1324.3,778.4 1331.8,772.5 1339.3,777.5 1346.7,779.2 1354.2,792.0 1361.7,725.7 1369.1,773.6 1376.6,767.4 1384.1,746.4 1391.5,810.3 1399.0,805.4 1406.5,754.8 1414.0,781.4 1421.4,804.1 1428.9,757.9 1436.4,795.1 1443.8,813.6 1451.3,816.0 1458.8,783.3 1466.2,813.5 1473.7,816.8 1481.2,776.3 1488.7,780.4 1496.1,812.9 1503.6,815.1 1511.1,801.1 1518.5,828.1 1526.0,818.9 1533.5,782.4 1541.0,810.9 1548.4,799.6 1555.9,769.4 1563.4,765.5 1570.8,830.5 1578.3,772.5 1585.8,753.2 1593.2,823.4 1600.7,825.9 1608.2,764.6 1615.7,780.6 1623.1,827.7 1630.6,761.6" stroke="#0072BD"/>
<path d="M891.0,213.0 898.5,188.0 906.0,173.0 913.4,251.6 920.9,184.1 928.4,191.4 935.8,212.5 943.3,203.9 950.8,196.0 958.3,191.3 965.7,239.3 973.2,199.0 980.7,256.9 988.1,196.8 995.6,194.2 1003.1,215.5 1010.5,201.3 1018.0,259.1 1025.5,217.4 1033.0,267.3 1040.4,219.5 1047.9,205.6 1055.4,238.6 1062.8,302.9 1070.3,241.8 1077.8,269.6 1085.3,327.4 1092.7,339.9 1100.2,365.4 1107.7,324.5 1115.1,347.4 1122.6,417.5 1130.1,391.0 1137.5,422.4 1145.0,418.4 1152.5,486.7 1160.0,508.7 1167.4,532.7 1174.9,512.7 1182.4,514.7 1189.8,584.4 1197.3,568.1 1204.8,592.2 1212.3,607.1 1219.7,645.6 1227.2,648.7 1234.7,637.3 1242.1,695.7 1249.6,661.8 1257.1,713.9 1264.5,728.9 1272.0,726.4 1279.5,701.0 1287.0,715.6 1294.4,758.9 1301.9,691.8 1309.4,767.5 1316.8,754.4 1324.3,739.0 1331.8,730.5 1339.3,716.4 1346.7,713.3 1354.2,788.0 1361.7,732.1 1369.1,783.8 1376.6,734.5 1384.1,804.7 1391.5,760.0 1399.0,735.8 1406.5,796.5 1414.0,733.5 1421.4,735.5 1428.9,783.4 1436.4,804.8 1443.8,757.4 1451.3,778.5 1458.8,814.7 1466.2,759.7 1473.7,746.7 1481.2,776.3 1488.7,787.7 1496.1,798.3 1503.6,769.3 1511.1,748.9 1518.5,792.4 1526.0,794.0 1533.5,751.1 1541.0,748.1 1548.4,796.0 1555.9,826.6 1563.4,752.3 1570.8,775.4 1578.3,782.8 1585.8,766.9 1593.2,815.6 1600.7,760.8 1608.2,786.2 1615.7,783.4 1623.1,818.4 1630.6,818.8" stroke="#D95319"/>
<path d="M891.0,171.2 898.5,138.3 906.0,149.1 913.4,153.9 920.9,134.4 928.4,202.7 935.8,142.4 943.3,179.0 950.8,175.1 958.3,202.2 965.7,186.3 973.2,146.2 980.7,169.1 988.1,133.3 995.6,194.1 1003.1,179.1 1010.5,154.2 1018.0,212.7 1025.5,148.4 1033.0,174.7 1040.4,197.6 1047.9,160.0 1055.4,158.2 1062.8,167.0 1070.3,183.6 1077.8,211.4 1085.3,212.5 1092.7,187.9 1100.2,198.2 1107.7,240.7 1115.1,245.4 1122.6,222.5 1130.1,255.4 1137.5,234.4 1145.0,318.0 1152.5,270.4 1160.0,288.3 1167.4,317.2 1174.9,315.5 1182.4,363.0 1189.8,396.1 1197.3,391.0 1204.8,397.4 1212.3,419.8 1219.7,426.9 1227.2,407.1 1234.7,454.8 1242.1,464.2 1249.6,420.6 1257.1,502.2 1264.5,465.0 1272.0,529.8 1279.5,522.4 1287.0,498.1 1294.4,552.4 1301.9,529.5 1309.4,558.1 1316.8,553.4 1324.3,555.0 1331.8,618.6 1339.3,628.5 1346.7,579.5 1354.2,604.7 1361.7,637.0 1369.1,646.3 1376.6,605.4 1384.1,637.4 1391.5,679.6 1399.0,669.9 1406.5,655.5 1414.0,667.5 1421.4,705.8 1428.9,694.4 1436.4,717.2 1443.8,654.9 1451.3,701.1 1458.8,677.0 1466.2,686.1 1473.7,726.6 1481.2,686.7 1488.7,714.5 1496.1,729.2 1503.6,695.5 1511.1,698.5 1518.5,713.8 1526.0,736.9 1533.5,726.6 1541.0,753.3 1548.4,713.2 1555.9,724.1 1563.4,765.1 1570.8,787.1 1578.3,739.9 1585.8,726.3 1593.2,779.2 1600.7,724.7 1608.2,739.6 1615.7,725.4 1623.1,784.5 1630.6,726.3" stroke="#EDB120"/>
<path d="M891.0,171.2 898.5,204.4 906.0,192.9 913.4,156.5 920.9,170.5 928.4,195.0 935.8,192.5 943.3,164.6 950.8,182.1 958.3,201.7 965.7,142.7 973.2,146.0 980.7,179.2 988.1,141.9 995.6,159.8 1003.1,215.4 1010.5,152.2 1018.0,171.4 1025.5,169.9 1033.0,185.8 1040.4,177.9 1047.9,148.8 1055.4,218.4 1062.8,238.2 1070.3,189.7 1077.8,246.0 1085.3,214.4 1092.7,237.7 1100.2,253.9 1107.7,256.8 1115.1,271.7 1122.6,242.6 1130.1,275.7 1137.5,267.5 1145.0,255.7 1152.5,298.8 1160.0,262.3 1167.4,296.5 1174.9,287.7 1182.4,328.9 1189.8,368.6 1197.3,375.6 1204.8,363.3 1212.3,372.0 1219.7,401.7 1227.2,380.0 1234.7,437.7 1242.1,414.0 1249.6,431.0 1257.1,442.7 1264.5,516.7 1272.0,452.0 1279.5,486.0 1287.0,527.3 1294.4,492.6 1301.9,533.0 1309.4,513.2 1316.8,519.8 1324.3,581.3 1331.8,594.0 1339.3,548.3 1346.7,563.3 1354.2,578.2 1361.7,639.5 1369.1,614.8 1376.6,603.8 1384.1,601.3 1391.5,653.5 1399.0,627.3 1406.5,691.3 1414.0,696.1 1421.4,652.6 1428.9,700.2 1436.4,675.2 1443.8,666.6 1451.3,716.7 1458.8,674.8 1466.2,729.3 1473.7,731.1 1481.2,677.5 1488.7,753.0 1496.1,683.1 1503.6,712.8 1511.1,701.3 1518.5,750.0 1526.0,756.3 1533.5,756.4 1541.0,732.5 1548.4,738.9 1555.9,709.2 1563.4,750.1 1570.8,758.4 1578.3,742.2 1585.8,722.8 1593.2,750.0 1600.7,738.2 1608.2,715.8 1615.7,774.5 1623.1,741.3 1630.6,754.8" stroke="#7E2F8E"/>
<path d="M891.0,171.2 898.5,160.7 906.0,191.7 913.4,154.2 920.9,132.9 928.4,136.3 935.8,189.9 943.3,176.5 950.8,132.5 958.3,149.6 965.7,198.5 973.2,158.0 980.7,159.5 988.1,179.9 995.6,181.8 1003.1,142.5 1010.5,174.6 1018.0,198.0 1025.5,185.0 1033.0,192.8 1040.4,150.6 1047.9,229.4 1055.4,168.2 1062.8,176.6 1070.3,164.7 1077.8,230.0 1085.3,177.0 1092.7,211.9 1100.2,259.5 1107.7,223.7 1115.1,219.0 1122.6,247.6 1130.1,216.4 1137.5,273.1 1145.0,298.8 1152.5,277.4 1160.0,312.2 1167.4,318.3 1174.9,348.6 1182.4,305.1 1189.8,358.5 1197.3,370.8 1204.8,406.8 1212.3,358.8 1219.7,372.3 1227.2,388.2 1234.7,391.8 1242.1,472.8 1249.6,482.7 1257.1,499.3 1264.5,471.8 1272.0,445.5 1279.5,497.8 1287.0,470.3 1294.4,551.6 1301.9,508.2 1309.4,560.2 1316.8,576.7 1324.3,543.3 1331.8,571.4 1339.3,604.0 1346.7,608.7 1354.2,578.6 1361.7,587.3 1369.1,593.6 1376.6,664.7 1384.1,599.3 1391.5,616.3 1399.0,669.3 1406.5,680.3 1414.0,645.8 1421.4,700.8 1428.9,631.3 1436.4,689.8 1443.8,684.3 1451.3,684.3 1458.8,727.7 1466.2,681.4 1473.7,662.7 1481.2,695.4 1488.7,676.2 1496.1,686.3 1503.6,680.0 1511.1,748.2 1518.5,754.3 1526.0,720.0 1533.5,751.2 1541.0,696.4 1548.4,717.8 1555.9,758.0 1563.4,718.5 1570.8,706.8 1578.3,712.0 1585.8,706.5 1593.2,776.7 1600.7,732.7 1608.2,767.8 1615.7,733.8 1623.1,730.9 1630.6,793.8" stroke="#77AC30"/>
<path d="M891.0,171.2 898.5,188.1 906.0,162.5 913.4,172.0 920.9,131.0 928.4,180.7 935.8,178.9 943.3,148.6 950.8,210.6 958.3,196.9 965.7,181.6 973.2,191.7 980.7,191.5 988.1,179.2 995.6,177.1 1003.1,216.3 1010.5,172.4 1018.0,164.5 1025.5,218.9 1033.0,183.1 1040.4,198.8 1047.9,194.6 1055.4,202.6 1062.8,197.3 1070.3,177.2 1077.8,209.8 1085.3,193.0 1092.7,250.4 1100.2,233.6 1107.7,235.1 1115.1,275.8 1122.6,234.5 1130.1,289.8 1137.5,222.3 1145.0,275.1 1152.5,242.0 1160.0,322.3 1167.4,282.7 1174.9,285.0 1182.4,313.6 1189.8,359.8 1197.3,381.1 1204.8,352.5 1212.3,346.5 1219.7,410.4 1227.2,407.3 1234.7,391.4 1242.1,436.3 1249.6,459.7 1257.1,487.6 1264.5,474.1 1272.0,510.6 1279.5,459.2 1287.0,529.1 1294.4,488.8 1301.9,484.8 1309.4,504.3 1316.8,575.5 1324.3,579.7 1331.8,581.9 1339.3,598.2 1346.7,628.3 1354.2,596.4 1361.7,588.7 1369.1,622.8 1376.6,652.7 1384.1,598.7 1391.5,625.4 1399.0,680.2 1406.5,635.6 1414.0,679.4 1421.4,656.9 1428.9,651.4 1436.4,690.4 1443.8,715.9 1451.3,664.9 1458.8,710.9 1466.2,706.6 1473.7,716.4 1481.2,665.2 1488.7,715.8 1496.1,695.0 1503.6,675.1 1511.1,696.8 1518.5,759.5 1526.0,732.2 1533.5,712.9 1541.0,738.2 1548.4,731.8 1555.9,706.6 1563.4,734.5 1570.8,763.9 1578.3,773.7 1585.8,727.7 1593.2,739.1 1600.7,756.0 1608.2,739.6 1615.7,768.6 1623.1,791.0 1630.6,794.1" stroke="#4DBEEE"/>
<path d="M891.0,171.2 898.5,199.6 906.0,190.5 913.4,157.6 920.9,185.5 928.4,208.1 935.8,154.3 943.3,151.2 950.8,198.6 958.3,171.5 965.7,185.3 973.2,146.2 980.7,211.9 988.1,154.3 995.6,191.3 1003.1,174.5 1010.5,145.2 1018.0,201.7 1025.5,153.2 1033.0,208.1 1040.4,156.9 1047.9,225.0 1055.4,177.8 1062.8,184.1 1070.3,168.7 1077.8,163.8 1085.3,227.5 1092.7,222.1 1100.2,222.3 1107.7,235.7 1115.1,230.9 1122.6,261.9 1130.1,291.4 1137.5,291.6 1145.0,265.0 1152.5,288.5 1160.0,309.9 1167.4,300.9 1174.9,352.8 1182.4,309.6 1189.8,296.9 1197.3,306.8 1204.8,321.9 1212.3,358.9 1219.7,396.3 1227.2,359.4 1234.7,386.3 1242.1,393.3 1249.6,439.3 1257.1,487.6 1264.5,451.6 1272.0,494.3 1279.5,522.2 1287.0,518.6 1294.4,514.4 1301.9,544.5 1309.4,519.2 1316.8,562.4 1324.3,582.4 1331.8,562.3 1339.3,611.1 1346.7,570.3 1354.2,600.2 1361.7,561.9 1369.1,643.5 1376.6,635.1 1384.1,621.2 1391.5,649.9 1399.0,664.1 1406.5,633.1 1414.0,621.9 1421.4,648.4 1428.9,638.5 1436.4,633.3 1443.8,653.3 1451.3,666.2 1458.8,711.6 1466.2,731.4 1473.7,714.9 1481.2,672.0 1488.7,703.8 1496.1,692.3 1503.6,689.9 1511.1,725.2 1518.5,695.9 1526.0,743.1 1533.5,703.8 1541.0,743.3 1548.4,740.3 1555.9,707.7 1563.4,750.7 1570.8,777.5 1578.3,712.9 1585.8,720.9 1593.2,706.3 1600.7,755.6 1608.2,785.1 1615.7,757.5 1623.1,744.0 1630.6,784.8" stroke="#A2142F"/>
<path d="M891.0,171.2 898.5,153.3 906.0,142.4 913.4,151.1 920.9,146.4 928.4,206.9 935.8,152.4 943.3,175.2 950.8,149.9 958.3,193.6 965.7,208.7 973.2,191.4 980.7,169.6 988.1,160.9 995.6,163.4 1003.1,203.8 1010.5,160.9 1018.0,181.7 1025.5,173.6 1033.0,218.2 1040.4,212.9 1047.9,212.3 1055.4,169.5 1062.8,180.2 1070.3,199.4 1077.8,175.2 1085.3,179.9 1092.7,235.8 1100.2,240.4 1107.7,187.6 1115.1,267.9 1122.6,210.4 1130.1,227.2 1137.5,261.0 1145.0,256.3 1152.5,299.7 1160.0,301.1 1167.4,315.5 1174.9,317.5 1182.4,331.2 1189.8,356.6 1197.3,319.6 1204.8,371.5 1212.3,381.6 1219.7,392.9 1227.2,421.4 1234.7,378.6 1242.1,377.5 1249.6,428.7 1257.1,407.4 1264.5,493.2 1272.0,482.7 1279.5,503.1 1287.0,473.0 1294.4,465.3 1301.9,552.9 1309.4,554.5 1316.8,528.2 1324.3,532.2 1331.8,582.1 1339.3,607.2 1346.7,567.8 1354.2,561.6 1361.7,632.4 1369.1,590.4 1376.6,640.3 1384.1,616.1 1391.5,614.5 1399.0,640.6 1406.5,603.1 1414.0,656.8 1421.4,626.8 1428.9,638.6 1436.4,625.3 1443.8,671.3 1451.3,671.9 1458.8,653.4 1466.2,685.2 1473.7,706.5 1481.2,720.4 1488.7,710.4 1496.1,739.8 1503.6,715.6 1511.1,697.5 1518.5,712.6 1526.0,711.7 1533.5,718.4 1541.0,702.9 1548.4,688.3 1555.9,700.9 1563.4,744.3 1570.8,749.8 1578.3,743.5 1585.8,714.5 1593.2,777.9 1600.7,708.5 1608.2,705.1 1615.7,756.0 1623.1,725.1 1630.6,722.5" stroke="#0072BD"/>
<path d="M891.0,171.2 898.5,159.6 906.0,155.9 913.4,134.3 920.9,188.6 928.4,153.0 935.8,194.9 943.3,183.3 950.8,190.1 958.3,182.7 965.7,179.0 973.2,139.5 980.7,175.5 988.1,155.8 995.6,204.0 1003.1,150.1 1010.5,156.4 1018.0,153.5 1025.5,146.8 1033.0,203.5 1040.4,204.7 1047.9,215.8 1055.4,223.8 1062.8,218.2 1070.3,178.1 1077.8,221.2 1085.3,226.8 1092.7,229.0 1100.2,219.7 1107.7,190.9 1115.1,196.3 1122.6,212.4 1130.1,267.0 1137.5,294.8 1145.0,295.7 1152.5,242.1 1160.0,295.0 1167.4,308.1 1174.9,328.3 1182.4,327.4 1189.8,354.7 1197.3,339.5 1204.8,335.8 1212.3,383.1 1219.7,364.5 1227.2,374.6 1234.7,369.6 1242.1,435.1 1249.6,404.3 1257.1,438.6 1264.5,415.2 1272.0,441.1 1279.5,466.2 1287.0,474.6 1294.4,529.1 1301.9,504.0 1309.4,478.8 1316.8,550.5 1324.3,569.2 1331.8,515.6 1339.3,521.5 1346.7,551.9 1354.2,604.8 1361.7,595.6 1369.1,599.9 1376.6,585.1 1384.1,603.9 1391.5,586.7 1399.0,615.9 1406.5,670.0 1414.0,647.0 1421.4,609.8 1428.9,615.6 1436.4,664.6 1443.8,671.7 1451.3,706.8 1458.8,708.3 1466.2,701.3 1473.7,701.8 1481.2,691.8 1488.7,701.0 1496.1,727.5 1503.6,697.5 1511.1,688.2 1518.5,692.7 1526.0,726.4 1533.5,755.7 1541.0,714.7 1548.4,761.2 1555.9,762.4 1563.4,706.6 1570.8,735.7 1578.3,757.4 1585.8,714.8 1593.2,726.6 1600.7,768.7 1608.2,756.0 1615.7,773.2 1623.1,772.9 1630.6,734.9" stroke="#D95319"/>
<path d="M891.0,171.2 898.5,205.5 906.0,144.3 913.4,177.4 920.9,132.9 928.4,172.3 935.8,195.0 943.3,145.9 950.8,151.3 958.3,159.0 965.7,208.3 973.2,184.8 980.7,147.5 988.1,178.8 995.6,213.6 1003.1,178.4 1010.5,178.0 1018.0,206.6 1025.5,219.4 1033.0,155.9 1040.4,150.5 1047.9,216.7 1055.4,177.1 1062.8,211.4 1070.3,216.5 1077.8,213.3 1085.3,195.0 1092.7,178.7 1100.2,245.1 1107.7,208.5 1115.1,215.7 1122.6,201.7 1130.1,208.5 1137.5,245.9 1145.0,262.8 1152.5,236.6 1160.0,271.4 1167.4,267.0 1174.9,261.3 1182.4,316.4 1189.8,341.0 1197.3,372.8 1204.8,320.4 1212.3,352.7 1219.7,391.2 1227.2,346.7 1234.7,357.0 1242.1,406.4 1249.6,427.8 1257.1,442.1 1264.5,409.8 1272.0,476.4 1279.5,485.3 1287.0,446.4 1294.4,496.8 1301.9,506.7 1309.4,548.3 1316.8,541.3 1324.3,502.0 1331.8,537.2 1339.3,537.0 1346.7,578.5 1354.2,614.5 1361.7,544.9 1369.1,610.5 1376.6,635.7 1384.1,626.2 1391.5,616.2 1399.0,626.5 1406.5,620.3 1414.0,655.0 1421.4,622.1 1428.9,614.0 1436.4,631.5 1443.8,673.0 1451.3,682.9 1458.8,685.0 1466.2,686.0 1473.7,703.9 1481.2,649.7 1488.7,692.0 1496.1,705.4 1503.6,700.1 1511.1,742.1 1518.5,722.8 1526.0,688.4 1533.5,682.7 1541.0,722.0 1548.4,753.1 1555.9,690.6 1563.4,712.3 1570.8,694.1 1578.3,751.7 1585.8,754.5 1593.2,706.1 1600.7,772.9 1608.2,712.5 1615.7,784.7 1623.1,763.6 1630.6,715.7" stroke="#EDB120"/>
<path d="M891.0,171.2 898.5,145.9 906.0,139.0 913.4,153.0 920.9,198.9 928.4,135.6 935.8,141.0 943.3,167.0 950.8,175.8 958.3,183.2 965.7,150.1 973.2,168.8 980.7,211.2 988.1,151.1 995.6,180.5 1003.1,193.6 1010.5,149.6 1018.0,169.5 1025.5,193.1 1033.0,184.5 1040.4,150.2 1047.9,172.2 1055.4,227.3 1062.8,170.0 1070.3,169.1 1077.8,171.4 1085.3,231.0 1092.7,189.1 1100.2,186.5 1107.7,201.5 1115.1,261.1 1122.6,234.5 1130.1,200.3 1137.5,235.3 1145.0,232.5 1152.5,289.8 1160.0,251.9 1167.4,247.3 1174.9,272.4 1182.4,318.4 1189.8,350.9 1197.3,306.0 1204.8,342.2 1212.3,315.5 1219.7,358.1 1227.2,367.6 1234.7,403.7 1242.1,431.1 1249.6,407.4 1257.1,437.5 1264.5,397.7 1272.0,409.5 1279.5,484.5 1287.0,437.6 1294.4,470.0 1301.9,458.9 1309.4,496.8 1316.8,528.7 1324.3,539.7 1331.8,513.6 1339.3,571.7 1346.7,586.8 1354.2,556.2 1361.7,544.8 1369.1,620.2 1376.6,565.9 1384.1,640.4 1391.5,630.1 1399.0,629.7 1406.5,648.1 1414.0,627.0 1421.4,655.3 1428.9,670.6 1436.4,688.2 1443.8,686.4 1451.3,678.2 1458.8,675.4 1466.2,686.3 1473.7,704.3 1481.2,712.6 1488.7,667.7 1496.1,672.9 1503.6,715.2 1511.1,721.1 1518.5,715.9 1526.0,707.0 1533.5,682.7 1541.0,735.8 1548.4,759.1 1555.9,721.5 1563.4,753.3 1570.8,707.5 1578.3,761.6 1585.8,696.6 1593.2,731.7 1600.7,772.4 1608.2,705.2 1615.7,758.7 1623.1,728.8 1630.6,733.2" stroke="#7E2F8E"/>
<path d="M891.0,171.2 898.5,180.6 906.0,142.0 913.4,153.1 920.9,198.2 928.4,199.1 935.8,187.2 943.3,213.0 950.8,204.1 958.3,160.9 965.7,165.7 973.2,189.8 980.7,196.4 988.1,162.1 995.6,192.5 1003.1,156.0 1010.5,216.7 1018.0,140.2 1025.5,204.7 1033.0,175.1 1040.4,143.2 1047.9,167.5 1055.4,223.5 1062.8,194.3 1070.3,180.7 1077.8,233.6 1085.3,235.5 1092.7,167.6 1100.2,251.3 1107.7,248.5 1115.1,251.4 1122.6,217.7 1130.1,202.2 1137.5,273.4 1145.0,265.9 1152.5,245.5 1160.0,276.7 1167.4,301.2 1174.9,297.0 1182.4,284.8 1189.8,343.8 1197.3,355.9 1204.8,345.1 1212.3,365.4 1219.7,323.0 1227.2,352.8 1234.7,351.7 1242.1,383.3 1249.6,406.3 1257.1,401.8 1264.5,452.2 1272.0,401.5 1279.5,459.1 1287.0,426.8 1294.4,450.4 1301.9,482.3 1309.4,531.9 1316.8,545.5 1324.3,490.8 1331.8,564.9 1339.3,574.0 1346.7,544.8 1354.2,527.8 1361.7,601.1 1369.1,607.9 1376.6,625.6 1384.1,567.5 1391.5,573.1 1399.0,597.0 1406.5,612.0 1414.0,611.6 1421.4,634.8 1428.9,658.9 1436.4,639.0 1443.8,681.5 1451.3,672.4 1458.8,627.5 1466.2,645.4 1473.7,704.3 1481.2,698.8 1488.7,649.7 1496.1,682.4 1503.6,691.3 1511.1,712.8 1518.5,739.0 1526.0,675.2 1533.5,747.9 1541.0,678.5 1548.4,684.7 1555.9,727.7 1563.4,734.6 1570.8,728.3 1578.3,694.9 1585.8,753.2 1593.2,750.1 1600.7,699.5 1608.2,755.1 1615.7,759.5 1623.1,763.5 1630.6,761.6" stroke="#77AC30"/>
<path d="M891.0,171.2 898.5,174.6 906.0,157.4 913.4,138.4 920.9,134.9 928.4,184.0 935.8,203.1 943.3,173.4 950.8,175.7 958.3,136.9 965.7,136.9 973.2,146.6 980.7,143.1 988.1,176.5 995.6,146.0 1003.1,152.9 1010.5,169.7 1018.0,166.5 1025.5,175.0 1033.0,145.4 1040.4,223.2 1047.9,149.8 1055.4,151.1 1062.8,164.7 1070.3,196.4 1077.8,199.7 1085.3,192.9 1092.7,210.1 1100.2,247.1 1107.7,231.9 1115.1,196.0 1122.6,216.9 1130.1,204.1 1137.5,223.2 1145.0,286.5 1152.5,227.3 1160.0,300.2 1167.4,254.8 1174.9,298.0 1182.4,300.6 1189.8,350.2 1197.3,315.1 1204.8,358.7 1212.3,372.0 1219.7,320.1 1227.2,357.2 1234.7,388.4 1242.1,401.9 1249.6,419.0 1257.1,407.0 1264.5,455.5 1272.0,408.7 1279.5,465.9 1287.0,422.1 1294.4,502.8 1301.9,472.6 1309.4,520.2 1316.8,498.3 1324.3,526.4 1331.8,491.6 1339.3,536.9 1346.7,587.0 1354.2,516.8 1361.7,553.4 1369.1,592.6 1376.6,570.6 1384.1,554.6 1391.5,619.8 1399.0,634.6 1406.5,623.7 1414.0,605.9 1421.4,604.6 1428.9,649.9 1436.4,673.6 1443.8,654.5 1451.3,685.2 1458.8,683.3 1466.2,645.3 1473.7,692.4 1481.2,680.4 1488.7,693.9 1496.1,676.6 1503.6,731.3 1511.1,700.4 1518.5,714.5 1526.0,674.3 1533.5,729.2 1541.0,719.8 1548.4,755.8 1555.9,730.8 1563.4,733.2 1570.8,717.9 1578.3,714.9 1585.8,714.8 1593.2,740.9 1600.7,721.2 1608.2,734.8 1615.7,774.2 1623.1,759.7 1630.6,727.9" stroke="#4DBEEE"/>
<path d="M891.0,171.2 898.5,156.9 906.0,173.8 913.4,133.2 920.9,203.5 928.4,145.3 935.8,187.7 943.3,166.0 950.8,188.6 958.3,146.4 965.7,204.4 973.2,183.2 980.7,154.6 988.1,140.6 995.6,202.7 1003.1,187.6 1010.5,179.0 1018.0,158.0 1025.5,200.6 1033.0,149.1 1040.4,165.0 1047.9,171.2 1055.4,172.1 1062.8,180.4 1070.3,229.3 1077.8,229.4 1085.3,206.3 1092.7,200.6 1100.2,233.1 1107.7,227.8 1115.1,206.0 1122.6,193.6 1130.1,221.2 1137.5,250.7 1145.0,227.3 1152.5,254.9 1160.0,239.6 1167.4,293.0 1174.9,290.9 1182.4,267.7 1189.8,344.6 1197.3,293.2 1204.8,323.9 1212.3,296.8 1219.7,320.3 1227.2,387.4 1234.7,390.9 1242.1,342.1 1249.6,364.1 1257.1,378.0 1264.5,414.1 1272.0,446.1 1279.5,472.6 1287.0,452.3 1294.4,481.0 1301.9,473.3 1309.4,473.9 1316.8,515.9 1324.3,538.2 1331.8,499.3 1339.3,537.8 1346.7,518.5 1354.2,539.7 1361.7,601.5 1369.1,549.8 1376.6,552.7 1384.1,601.6 1391.5,627.1 1399.0,572.4 1406.5,583.5 1414.0,595.6 1421.4,614.4 1428.9,596.1 1436.4,657.7 1443.8,615.2 1451.3,643.3 1458.8,679.6 1466.2,646.4 1473.7,708.7 1481.2,648.8 1488.7,666.4 1496.1,685.9 1503.6,722.7 1511.1,734.9 1518.5,663.4 1526.0,711.6 1533.5,702.6 1541.0,710.1 1548.4,689.5 1555.9,738.9 1563.4,739.9 1570.8,714.1 1578.3,694.7 1585.8,731.4 1593.2,704.2 1600.7,748.5 1608.2,706.8 1615.7,771.1 1623.1,712.2 1630.6,747.4" stroke="#A2142F"/>
<path d="M891.0,171.2 898.5,162.9 906.0,135.6 913.4,148.5 920.9,210.9 928.4,141.7 935.8,196.5 943.3,212.8 950.8,203.2 958.3,153.7 965.7,170.1 973.2,206.3 980.7,137.9 988.1,155.7 995.6,186.5 1003.1,172.1 1010.5,189.2 1018.0,179.9 1025.5,146.3 1033.0,167.7 1040.4,214.7 1047.9,164.1 1055.4,155.2 1062.8,174.3 1070.3,219.5 1077.8,163.2 1085.3,224.8 1092.7,178.0 1100.2,182.2 1107.7,221.1 1115.1,178.0 1122.6,226.2 1130.1,202.2 1137.5,271.0 1145.0,219.7 1152.5,292.1 1160.0,224.8 1167.4,268.5 1174.9,299.1 1182.4,257.3 1189.8,326.5 1197.3,341.3 1204.8,284.6 1212.3,323.3 1219.7,329.6 1227.2,396.1 1234.7,327.5 1242.1,338.7 1249.6,431.9 1257.1,361.5 1264.5,403.3 1272.0,436.2 1279.5,435.1 1287.0,481.4 1294.4,473.9 1301.9,499.2 1309.4,445.6 1316.8,502.0 1324.3,472.2 1331.8,507.0 1339.3,504.9 1346.7,541.8 1354.2,543.9 1361.7,578.7 1369.1,598.5 1376.6,553.8 1384.1,618.4 1391.5,594.2 1399.0,629.1 1406.5,582.3 1414.0,600.1 1421.4,590.6 1428.9,620.1 1436.4,597.6 1443.8,623.6 1451.3,673.5 1458.8,668.8 1466.2,628.9 1473.7,681.0 1481.2,695.9 1488.7,690.9 1496.1,672.2 1503.6,648.4 1511.1,659.9 1518.5,722.5 1526.0,670.8 1533.5,722.2 1541.0,696.0 1548.4,738.1 1555.9,700.8 1563.4,697.1 1570.8,713.4 1578.3,704.5 1585.8,727.3 1593.2,759.5 1600.7,690.0 1608.2,696.2 1615.7,732.5 1623.1,733.8 1630.6,731.1" stroke="#0072BD"/>
<path d="M891.0,171.2 898.5,168.8 906.0,208.8 913.4,133.8 920.9,156.1 928.4,202.4 935.8,198.4 943.3,139.3 950.8,133.7 958.3,142.8 965.7,195.1 973.2,190.2 980.7,210.6 988.1,210.7 995.6,197.1 1003.1,166.6 1010.5,213.5 1018.0,205.5 1025.5,163.9 1033.0,203.1 1040.4,186.4 1047.9,170.2 1055.4,147.5 1062.8,181.3 1070.3,216.5 1077.8,214.1 1085.3,227.1 1092.7,192.4 1100.2,192.4 1107.7,218.6 1115.1,212.7 1122.6,228.8 1130.1,239.5 1137.5,215.0 1145.0,282.7 1152.5,290.3 1160.0,254.9 1167.4,238.8 1174.9,294.0 1182.4,313.8 1189.8,278.2 1197.3,316.1 1204.8,351.0 1212.3,356.4 1219.7,353.8 1227.2,364.1 1234.7,392.6 1242.1,392.2 1249.6,388.6 1257.1,384.1 1264.5,431.4 1272.0,441.6 1279.5,466.8 1287.0,402.3 1294.4,431.7 1301.9,503.0 1309.4,504.9 1316.8,524.4 1324.3,511.9 1331.8,515.8 1339.3,481.8 1346.7,492.3 1354.2,577.1 1361.7,551.8 1369.1,533.5 1376.6,609.7 1384.1,550.2 1391.5,596.7 1399.0,577.1 1406.5,579.2 1414.0,616.6 1421.4,650.0 1428.9,645.8 1436.4,662.6 1443.8,673.7 1451.3,657.8 1458.8,669.8 1466.2,635.3 1473.7,655.4 1481.2,641.4 1488.7,632.4 1496.1,643.9 1503.6,647.1 1511.1,705.4 1518.5,718.1 1526.0,723.2 1533.5,710.9 1541.0,672.4 1548.4,707.0 1555.9,709.9 1563.4,701.8 1570.8,730.6 1578.3,746.5 1585.8,744.2 1593.2,733.8 1600.7,756.8 1608.2,712.4 1615.7,758.8 1623.1,710.0 1630.6,699.2" stroke="#D95319"/>
<path d="M891.0,171.2 898.5,207.0 906.0,150.5 913.4,209.1 920.9,202.8 928.4,208.9 935.8,207.1 943.3,201.5 950.8,163.8 958.3,133.5 965.7,196.1 973.2,185.1 980.7,180.7 988.1,180.9 995.6,199.9 1003.1,152.9 1010.5,172.8 1018.0,215.0 1025.5,144.3 1033.0,172.2 1040.4,158.1 1047.9,144.1 1055.4,215.3 1062.8,162.4 1070.3,184.5 1077.8,220.4 1085.3,221.1 1092.7,235.3 1100.2,200.5 1107.7,243.1 1115.1,229.1 1122.6,188.2 1130.1,232.3 1137.5,196.3 1145.0,214.2 1152.5,259.7 1160.0,238.7 1167.4,301.3 1174.9,233.9 1182.4,251.7 1189.8,284.7 1197.3,321.0 1204.8,328.3 1212.3,360.3 1219.7,318.3 1227.2,381.5 1234.7,381.1 1242.1,382.7 1249.6,339.1 1257.1,356.1 1264.5,365.5 1272.0,399.3 1279.5,400.7 1287.0,462.2 1294.4,467.2 1301.9,439.3 1309.4,450.1 1316.8,520.4 1324.3,466.9 1331.8,478.4 1339.3,550.8 1346.7,554.2 1354.2,545.6 1361.7,557.5 1369.1,551.3 1376.6,571.1 1384.1,597.8 1391.5,610.3 1399.0,630.7 1406.5,573.5 1414.0,585.8 1421.4,605.9 1428.9,599.6 1436.4,622.0 1443.8,633.4 1451.3,640.5 1458.8,660.7 1466.2,681.5 1473.7,638.3 1481.2,690.0 1488.7,649.2 1496.1,697.2 1503.6,673.0 1511.1,695.8 1518.5,650.9 1526.0,664.9 1533.5,674.3 1541.0,693.1 1548.4,697.3 1555.9,670.5 1563.4,725.3 1570.8,712.0 1578.3,703.8 1585.8,758.8 1593.2,722.6 1600.7,706.0 1608.2,723.1 1615.7,735.3 1623.1,692.9 1630.6,772.4" stroke="#EDB120"/>
<path d="M891.0,129.5 898.5,161.9 906.0,130.8 913.4,129.9 920.9,150.1 928.4,102.6 935.8,152.7 943.3,106.5 950.8,150.5 958.3,166.5 965.7,109.3 973.2,122.5 980.7,143.2 988.1,94.3 995.6,134.7 1003.1,168.8 1010.5,89.9 1018.0,111.2 1025.5,131.2 1033.0,158.2 1040.4,152.9 1047.9,126.2 1055.4,124.7 1062.8,143.1 1070.3,117.4 1077.8,138.7 1085.3,111.4 1092.7,119.1 1100.2,169.5 1107.7,106.2 1115.1,113.4 1122.6,109.5 1130.1,129.8 1137.5,152.1 1145.0,158.9 1152.5,132.2 1160.0,131.2 1167.4,205.5 1174.9,176.0 1182.4,182.6 1189.8,209.3 1197.3,187.9 1204.8,166.0 1212.3,161.2 1219.7,168.5 1227.2,179.4 1234.7,170.0 1242.1,202.7 1249.6,250.2 1257.1,223.9 1264.5,262.1 1272.0,270.0 1279.5,211.3 1287.0,227.2 1294.4,277.6 1301.9,239.5 1309.4,262.5 1316.8,289.7 1324.3,249.6 1331.8,269.5 1339.3,281.6 1346.7,297.0 1354.2,325.6 1361.7,306.5 1369.1,331.4 1376.6,310.8 1384.1,346.6 1391.5,386.7 1399.0,327.9 1406.5,361.6 1414.0,407.6 1421.4,415.2 1428.9,380.6 1436.4,422.6 1443.8,408.2 1451.3,428.5 1458.8,445.2 1466.2,452.7 1473.7,393.6 1481.2,469.4 1488.7,482.8 1496.1,439.3 1503.6,460.8 1511.1,465.6 1518.5,439.3 1526.0,437.6 1533.5,483.1 1541.0,494.1 1548.4,514.4 1555.9,517.7 1563.4,469.9 1570.8,532.7 1578.3,525.1 1585.8,516.0 1593.2,539.2 1600.7,536.7 1608.2,511.1 1615.7,507.4 1623.1,534.4 1630.6,562.3" stroke="#7E2F8E"/>
<path d="M891.0,129.5 898.5,100.4 906.0,94.8 913.4,166.0 920.9,123.7 928.4,97.2 935.8,95.9 943.3,91.0 950.8,93.9 958.3,116.7 965.7,154.4 973.2,150.9 980.7,101.2 988.1,141.2 995.6,156.6 1003.1,125.2 1010.5,118.0 1018.0,103.1 1025.5,166.7 1033.0,169.9 1040.4,123.8 1047.9,101.3 1055.4,149.6 1062.8,135.4 1070.3,154.1 1077.8,135.5 1085.3,120.1 1092.7,143.4 1100.2,106.2 1107.7,125.3 1115.1,131.9 1122.6,183.4 1130.1,156.3 1137.5,178.4 1145.0,189.2 1152.5,136.3 1160.0,123.8 1167.4,142.3 1174.9,175.3 1182.4,176.1 1189.8,167.4 1197.3,222.4 1204.8,227.3 1212.3,151.0 1219.7,220.5 1227.2,220.0 1234.7,188.8 1242.1,243.8 1249.6,213.8 1257.1,239.7 1264.5,226.5 1272.0,241.1 1279.5,233.3 1287.0,226.5 1294.4,255.8 1301.9,299.2 1309.4,309.6 1316.8,276.0 1324.3,262.8 1331.8,310.9 1339.3,284.6 1346.7,309.5 1354.2,320.8 1361.7,295.2 1369.1,326.2 1376.6,302.4 1384.1,310.7 1391.5,380.9 1399.0,353.2 1406.5,394.2 1414.0,358.6 1421.4,395.9 1428.9,398.0 1436.4,395.3 1443.8,435.6 1451.3,409.8 1458.8,420.2 1466.2,402.6 1473.7,395.8 1481.2,421.1 1488.7,439.5 1496.1,480.2 1503.6,465.9 1511.1,437.0 1518.5,498.6 1526.0,436.9 1533.5,493.0 1541.0,446.4 1548.4,481.6 1555.9,485.8 1563.4,534.3 1570.8,506.2 1578.3,513.9 1585.8,469.0 1593.2,546.8 1600.7,524.8 1608.2,513.2 1615.7,517.9 1623.1,544.2 1630.6,522.7" stroke="#77AC30"/>
<path d="M891.0,129.5 898.5,152.0 906.0,145.0 913.4,154.6 920.9,168.5 928.4,125.1 935.8,143.6 943.3,117.7 950.8,158.0 958.3,128.4 965.7,146.3 973.2,128.8 980.7,103.9 988.1,144.2 995.6,121.5 1003.1,164.9 1010.5,125.0 1018.0,168.9 1025.5,103.2 1033.0,157.0 1040.4,113.4 1047.9,94.6 1055.4,165.6 1062.8,104.9 1070.3,143.2 1077.8,166.3 1085.3,163.3 1092.7,119.6 1100.2,117.9 1107.7,123.8 1115.1,159.1 1122.6,146.5 1130.1,158.5 1137.5,141.5 1145.0,170.0 1152.5,198.0 1160.0,126.4 1167.4,125.2 1174.9,128.4 1182.4,175.7 1189.8,205.2 1197.3,142.4 1204.8,184.6 1212.3,168.3 1219.7,178.4 1227.2,238.9 1234.7,188.0 1242.1,236.8 1249.6,226.1 1257.1,208.9 1264.5,231.6 1272.0,198.1 1279.5,277.2 1287.0,227.9 1294.4,224.7 1301.9,244.3 1309.4,273.0 1316.8,274.7 1324.3,283.7 1331.8,271.9 1339.3,315.6 1346.7,318.2 1354.2,324.8 1361.7,314.4 1369.1,299.3 1376.6,303.4 1384.1,379.5 1391.5,387.0 1399.0,366.0 1406.5,358.5 1414.0,403.3 1421.4,368.4 1428.9,397.8 1436.4,416.5 1443.8,400.4 1451.3,393.0 1458.8,384.5 1466.2,412.4 1473.7,441.6 1481.2,415.1 1488.7,479.6 1496.1,412.2 1503.6,443.6 1511.1,418.6 1518.5,503.9 1526.0,452.2 1533.5,485.5 1541.0,479.8 1548.4,465.2 1555.9,465.8 1563.4,490.4 1570.8,496.3 1578.3,524.9 1585.8,464.3 1593.2,513.9 1600.7,540.6 1608.2,554.7 1615.7,547.4 1623.1,556.1 1630.6,513.6" stroke="#4DBEEE"/>
<path d="M891.0,129.5 898.5,129.7 906.0,139.5 913.4,134.6 920.9,98.5 928.4,90.1 935.8,158.3 943.3,92.1 950.8,154.7 958.3,145.8 965.7,157.4 973.2,149.7 980.7,118.9 988.1,130.6 995.6,116.7 1003.1,130.7 1010.5,167.4 1018.0,140.0 1025.5,92.6 1033.0,92.4 1040.4,132.0 1047.9,147.4 1055.4,98.7 1062.8,105.8 1070.3,128.9 1077.8,136.1 1085.3,144.5 1092.7,153.5 1100.2,163.4 1107.7,174.8 1115.1,177.5 1122.6,153.3 1130.1,122.7 1137.5,187.4 1145.0,184.3 1152.5,163.3 1160.0,157.3 1167.4,193.8 1174.9,183.1 1182.4,150.0 1189.8,214.9 1197.3,144.2 1204.8,223.1 1212.3,155.5 1219.7,167.2 1227.2,163.1 1234.7,208.6 1242.1,223.0 1249.6,250.5 1257.1,243.5 1264.5,187.9 1272.0,207.1 1279.5,256.4 1287.0,232.6 1294.4,284.7 1301.9,276.9 1309.4,239.4 1316.8,235.2 1324.3,279.8 1331.8,268.5 1339.3,326.5 1346.7,317.5 1354.2,345.3 1361.7,353.4 1369.1,345.5 1376.6,325.3 1384.1,325.0 1391.5,330.5 1399.0,351.6 1406.5,325.5 1414.0,334.9 1421.4,381.6 1428.9,354.0 1436.4,403.2 1443.8,439.7 1451.3,421.9 1458.8,402.8 1466.2,430.7 1473.7,395.7 1481.2,436.3 1488.7,470.9 1496.1,427.5 1503.6,483.5 1511.1,464.5 1518.5,494.7 1526.0,432.2 1533.5,488.8 1541.0,466.3 1548.4,470.7 1555.9,501.7 1563.4,519.1 1570.8,485.7 1578.3,520.7 1585.8,494.1 1593.2,531.2 1600.7,510.4 1608.2,522.3 1615.7,481.3 1623.1,533.5 1630.6,523.9" stroke="#A2142F"/>
<path d="M891.0,129.5 898.5,138.3 906.0,137.7 913.4,166.7 920.9,134.7 928.4,144.5 935.8,101.1 943.3,158.0 950.8,117.6 958.3,168.7 965.7,141.3 973.2,122.4 980.7,144.5 988.1,120.1 995.6,163.4 1003.1,136.7 1010.5,168.4 1018.0,116.7 1025.5,144.0 1033.0,124.1 1040.4,119.8 1047.9,103.5 1055.4,148.6 1062.8,111.8 1070.3,132.6 1077.8,110.8 1085.3,137.1 1092.7,101.6 1100.2,102.3 1107.7,109.4 1115.1,121.9 1122.6,137.0 1130.1,163.9 1137.5,154.0 1145.0,116.4 1152.5,154.3 1160.0,178.7 1167.4,190.5 1174.9,162.6 1182.4,190.0 1189.8,141.2 1197.3,219.0 1204.8,168.9 1212.3,208.3 1219.7,179.6 1227.2,190.6 1234.7,187.5 1242.1,191.1 1249.6,197.2 1257.1,220.0 1264.5,210.8 1272.0,193.3 1279.5,243.4 1287.0,253.1 1294.4,259.8 1301.9,243.4 1309.4,279.1 1316.8,293.5 1324.3,257.4 1331.8,270.5 1339.3,319.7 1346.7,277.5 1354.2,277.0 1361.7,336.4 1369.1,295.0 1376.6,355.7 1384.1,373.6 1391.5,311.3 1399.0,314.4 1406.5,393.6 1414.0,356.9 1421.4,390.9 1428.9,420.3 1436.4,372.1 1443.8,431.7 1451.3,428.1 1458.8,418.5 1466.2,418.4 1473.7,434.1 1481.2,405.7 1488.7,467.4 1496.1,465.6 1503.6,455.6 1511.1,418.8 1518.5,451.9 1526.0,447.0 1533.5,496.0 1541.0,494.9 1548.4,480.3 1555.9,476.0 1563.4,512.9 1570.8,527.6 1578.3,520.4 1585.8,511.7 1593.2,540.1 1600.7,487.6 1608.2,526.8 1615.7,499.4 1623.1,510.8 1630.6,530.7" stroke="#0072BD"/>
<path d="M891.0,129.5 898.5,135.4 906.0,125.6 913.4,145.1 920.9,112.6 928.4,155.4 935.8,97.2 943.3,101.8 950.8,170.1 958.3,170.5 965.7,118.2 973.2,166.5 980.7,132.8 988.1,156.4 995.6,107.5 1003.1,95.9 1010.5,112.6 1018.0,110.3 1025.5,133.6 1033.0,128.3 1040.4,145.5 1047.9,95.0 1055.4,110.4 1062.8,126.4 1070.3,130.6 1077.8,129.9 1085.3,155.6 1092.7,157.8 1100.2,144.7 1107.7,173.2 1115.1,148.4 1122.6,167.0 1130.1,152.9 1137.5,169.5 1145.0,123.2 1152.5,160.1 1160.0,179.3 1167.4,122.0 1174.9,137.1 1182.4,200.9 1189.8,210.5 1197.3,191.6 1204.8,208.9 1212.3,171.0 1219.7,183.9 1227.2,154.8 1234.7,204.3 1242.1,177.7 1249.6,237.5 1257.1,188.9 1264.5,261.1 1272.0,205.1 1279.5,276.0 1287.0,247.8 1294.4,250.6 1301.9,293.4 1309.4,282.4 1316.8,262.2 1324.3,318.2 1331.8,244.5 1339.3,259.8 1346.7,301.6 1354.2,278.8 1361.7,324.7 1369.1,344.9 1376.6,315.7 1384.1,315.5 1391.5,355.2 1399.0,341.4 1406.5,330.6 1414.0,375.0 1421.4,372.5 1428.9,397.7 1436.4,388.0 1443.8,413.2 1451.3,436.2 1458.8,371.0 1466.2,429.4 1473.7,447.0 1481.2,424.6 1488.7,404.1 1496.1,453.5 1503.6,448.8 1511.1,440.2 1518.5,415.6 1526.0,420.8 1533.5,437.8 1541.0,459.9 1548.4,490.7 1555.9,444.4 1563.4,474.7 1570.8,482.6 1578.3,527.5 1585.8,491.4 1593.2,492.4 1600.7,525.4 1608.2,514.7 1615.7,488.5 1623.1,478.2 1630.6,499.4" stroke="#D95319"/>
<path d="M891.0,129.5 898.5,124.0 906.0,134.0 913.4,119.5 920.9,149.9 928.4,104.0 935.8,109.9 943.3,101.9 950.8,133.4 958.3,102.0 965.7,107.7 973.2,169.8 980.7,150.8 988.1,157.7 995.6,112.3 1003.1,148.9 1010.5,150.8 1018.0,131.5 1025.5,165.9 1033.0,114.5 1040.4,97.7 1047.9,156.6 1055.4,104.3 1062.8,167.9 1070.3,139.2 1077.8,154.7 1085.3,108.0 1092.7,170.9 1100.2,103.0 1107.7,114.5 1115.1,180.7 1122.6,151.3 1130.1,171.2 1137.5,161.9 1145.0,143.8 1152.5,162.1 1160.0,150.3 1167.4,183.9 1174.9,168.2 1182.4,129.0 1189.8,136.2 1197.3,142.0 1204.8,176.3 1212.3,194.1 1219.7,179.4 1227.2,198.6 1234.7,225.0 1242.1,215.6 1249.6,248.8 1257.1,192.4 1264.5,260.6 1272.0,269.4 1279.5,272.9 1287.0,212.0 1294.4,257.7 1301.9,227.8 1309.4,281.5 1316.8,230.8 1324.3,242.7 1331.8,275.4 1339.3,306.2 1346.7,309.1 1354.2,271.8 1361.7,313.5 1369.1,357.6 1376.6,364.3 1384.1,370.2 1391.5,357.2 1399.0,336.7 1406.5,340.0 1414.0,349.5 1421.4,370.1 1428.9,416.6 1436.4,402.4 1443.8,371.6 1451.3,431.1 1458.8,387.1 1466.2,436.4 1473.7,421.3 1481.2,392.7 1488.7,424.6 1496.1,458.7 1503.6,404.5 1511.1,462.9 1518.5,445.7 1526.0,484.1 1533.5,440.3 1541.0,487.9 1548.4,512.3 1555.9,465.4 1563.4,446.1 1570.8,480.1 1578.3,494.3 1585.8,474.7 1593.2,534.7 1600.7,494.7 1608.2,548.4 1615.7,540.1 1623.1,540.7 1630.6,518.7" stroke="#EDB120"/>
<path d="M891.0,129.5 898.5,134.1 906.0,169.7 913.4,128.6 920.9,157.9 928.4,144.0 935.8,149.4 943.3,100.2 950.8,114.3 958.3,136.4 965.7,122.3 973.2,99.6 980.7,109.1 988.1,140.8 995.6,130.5 1003.1,114.5 1010.5,100.1 1018.0,109.6 1025.5,123.3 1033.0,111.6 1040.4,156.4 1047.9,101.4 1055.4,112.9 1062.8,165.6 1070.3,166.8 1077.8,111.1 1085.3,144.5 1092.7,97.4 1100.2,145.4 1107.7,174.2 1115.1,131.8 1122.6,182.9 1130.1,189.1 1137.5,181.5 1145.0,135.8 1152.5,135.0 1160.0,166.6 1167.4,154.6 1174.9,126.4 1182.4,141.2 1189.8,182.7 1197.3,163.0 1204.8,189.4 1212.3,145.3 1219.7,214.3 1227.2,178.2 1234.7,214.2 1242.1,198.4 1249.6,224.0 1257.1,199.2 1264.5,223.6 1272.0,216.1 1279.5,264.5 1287.0,264.5 1294.4,277.3 1301.9,290.3 1309.4,240.3 1316.8,305.7 1324.3,291.5 1331.8,245.8 1339.3,248.1 1346.7,317.2 1354.2,333.8 1361.7,325.9 1369.1,285.3 1376.6,329.1 1384.1,327.7 1391.5,376.4 1399.0,366.7 1406.5,383.8 1414.0,335.7 1421.4,334.9 1428.9,366.5 1436.4,407.3 1443.8,357.0 1451.3,421.9 1458.8,401.4 1466.2,396.3 1473.7,406.5 1481.2,431.7 1488.7,443.3 1496.1,455.0 1503.6,416.9 1511.1,470.9 1518.5,456.0 1526.0,470.7 1533.5,446.2 1541.0,492.3 1548.4,506.4 1555.9,455.2 1563.4,510.6 1570.8,490.0 1578.3,477.9 1585.8,514.1 1593.2,505.6 1600.7,538.0 1608.2,465.1 1615.7,547.6 1623.1,532.4 1630.6,527.0" stroke="#7E2F8E"/>
<path d="M891.0,129.5 898.5,152.7 906.0,131.4 913.4,112.5 920.9,134.7 928.4,105.8 935.8,160.5 943.3,170.3 950.8,94.8 958.3,149.0 965.7,134.5 973.2,158.8 980.7,110.6 988.1,161.8 995.6,168.3 1003.1,170.8 1010.5,118.5 1018.0,90.1 1025.5,127.7 1033.0,140.9 1040.4,125.4 1047.9,98.9 1055.4,167.6 1062.8,112.7 1070.3,170.0 1077.8,178.0 1085.3,124.0 1092.7,176.5 1100.2,150.8 1107.7,157.7 1115.1,131.3 1122.6,149.0 1130.1,131.7 1137.5,153.9 1145.0,153.6 1152.5,155.0 1160.0,161.7 1167.4,201.0 1174.9,170.9 1182.4,153.8 1189.8,201.0 1197.3,164.5 1204.8,144.8 1212.3,163.6 1219.7,170.6 1227.2,212.6 1234.7,160.3 1242.1,244.0 1249.6,237.3 1257.1,200.7 1264.5,237.7 1272.0,203.5 1279.5,258.4 1287.0,213.7 1294.4,224.3 1301.9,265.3 1309.4,250.1 1316.8,250.5 1324.3,309.4 1331.8,243.0 1339.3,243.6 1346.7,284.1 1354.2,319.7 1361.7,276.3 1369.1,313.2 1376.6,308.1 1384.1,287.5 1391.5,362.6 1399.0,372.4 1406.5,331.3 1414.0,348.7 1421.4,390.2 1428.9,412.9 1436.4,366.8 1443.8,409.5 1451.3,376.7 1458.8,402.6 1466.2,443.6 1473.7,439.8 1481.2,416.8 1488.7,431.1 1496.1,447.5 1503.6,399.9 1511.1,429.3 1518.5,428.6 1526.0,458.1 1533.5,467.3 1541.0,485.3 1548.4,442.6 1555.9,506.0 1563.4,511.3 1570.8,475.4 1578.3,453.2 1585.8,520.2 1593.2,510.9 1600.7,508.4 1608.2,528.9 1615.7,488.9 1623.1,477.7 1630.6,517.9" stroke="#77AC30"/>
<path d="M891.0,129.5 898.5,129.7 906.0,109.4 913.4,164.7 920.9,125.7 928.4,109.0 935.8,127.1 943.3,130.2 950.8,119.2 958.3,99.5 965.7,109.4 973.2,91.4 980.7,88.9 988.1,164.5 995.6,89.5 1003.1,155.1 1010.5,147.0 1018.0,142.8 1025.5,105.0 1033.0,163.5 1040.4,171.1 1047.9,158.4 1055.4,114.6 1062.8,165.4 1070.3,154.7 1077.8,139.1 1085.3,143.7 1092.7,133.3 1100.2,155.9 1107.7,116.6 1115.1,146.4 1122.6,152.4 1130.1,182.4 1137.5,190.7 1145.0,164.9 1152.5,145.1 1160.0,134.6 1167.4,171.2 1174.9,151.4 1182.4,191.0 1189.8,209.4 1197.3,205.3 1204.8,180.2 1212.3,203.4 1219.7,201.6 1227.2,227.7 1234.7,176.2 1242.1,215.8 1249.6,199.1 1257.1,222.6 1264.5,249.4 1272.0,229.7 1279.5,198.7 1287.0,214.2 1294.4,280.2 1301.9,256.0 1309.4,287.2 1316.8,234.0 1324.3,267.7 1331.8,257.9 1339.3,271.1 1346.7,296.7 1354.2,297.2 1361.7,268.1 1369.1,296.0 1376.6,337.6 1384.1,348.8 1391.5,362.5 1399.0,362.2 1406.5,354.9 1414.0,352.4 1421.4,347.8 1428.9,386.7 1436.4,351.4 1443.8,384.8 1451.3,388.1 1458.8,427.4 1466.2,439.3 1473.7,413.6 1481.2,416.1 1488.7,385.3 1496.1,415.9 1503.6,455.2 1511.1,432.5 1518.5,482.6 1526.0,464.3 1533.5,425.5 1541.0,455.3 1548.4,436.8 1555.9,436.6 1563.4,452.4 1570.8,502.7 1578.3,460.1 1585.8,469.2 1593.2,530.8 1600.7,473.6 1608.2,521.9 1615.7,527.9 1623.1,474.0 1630.6,554.2" stroke="#4DBEEE"/>
<path d="M891.0,129.5 898.5,91.5 906.0,155.0 913.4,140.4 920.9,159.0 928.4,170.8 935.8,150.2 943.3,148.5 950.8,163.8 958.3,116.4 965.7,152.9 973.2,103.9 980.7,130.3 988.1,110.6 995.6,157.2 1003.1,132.6 1010.5,109.8 1018.0,115.8 1025.5,98.9 1033.0,147.2 1040.4,140.2 1047.9,117.9 1055.4,144.5 1062.8,100.5 1070.3,165.0 1077.8,139.9 1085.3,157.7 1092.7,174.5 1100.2,160.5 1107.7,115.0 1115.1,129.9 1122.6,147.2 1130.1,109.5 1137.5,140.1 1145.0,178.6 1152.5,146.0 1160.0,116.3 1167.4,147.5 1174.9,175.8 1182.4,205.2 1189.8,162.6 1197.3,177.9 1204.8,144.3 1212.3,144.7 1219.7,211.7 1227.2,211.3 1234.7,159.3 1242.1,187.9 1249.6,200.4 1257.1,174.1 1264.5,207.8 1272.0,200.7 1279.5,187.1 1287.0,215.8 1294.4,278.7 1301.9,285.7 1309.4,214.7 1316.8,256.0 1324.3,288.3 1331.8,306.2 1339.3,310.7 1346.7,268.2 1354.2,290.5 1361.7,337.8 1369.1,338.8 1376.6,344.2 1384.1,304.6 1391.5,339.6 1399.0,375.2 1406.5,374.3 1414.0,370.9 1421.4,397.4 1428.9,331.7 1436.4,382.8 1443.8,406.4 1451.3,372.6 1458.8,354.4 1466.2,388.5 1473.7,372.6 1481.2,450.9 1488.7,432.5 1496.1,415.7 1503.6,417.3 1511.1,454.3 1518.5,459.3 1526.0,464.1 1533.5,467.3 1541.0,423.5 1548.4,472.6 1555.9,464.0 1563.4,440.3 1570.8,451.9 1578.3,462.7 1585.8,465.7 1593.2,519.8 1600.7,516.6 1608.2,467.6 1615.7,467.5 1623.1,525.9 1630.6,496.5" stroke="#A2142F"/>
<path d="M891.0,129.5 898.5,151.4 906.0,126.2 913.4,119.9 920.9,131.0 928.4,155.8 935.8,97.6 943.3,121.5 950.8,94.7 958.3,168.8 965.7,112.3 973.2,163.0 980.7,165.5 988.1,148.1 995.6,101.9 1003.1,153.1 1010.5,91.1 1018.0,135.5 1025.5,126.5 1033.0,92.1 1040.4,124.1 1047.9,119.3 1055.4,94.1 1062.8,102.9 1070.3,160.4 1077.8,121.1 1085.3,131.8 1092.7,110.1 1100.2,174.4 1107.7,133.2 1115.1,121.9 1122.6,148.7 1130.1,145.0 1137.5,111.5 1145.0,185.4 1152.5,135.2 1160.0,177.1 1167.4,130.4 1174.9,140.3 1182.4,174.5 1189.8,135.3 1197.3,175.7 1204.8,214.5 1212.3,200.4 1219.7,198.2 1227.2,220.0 1234.7,183.9 1242.1,161.8 1249.6,188.5 1257.1,170.0 1264.5,210.4 1272.0,234.8 1279.5,204.0 1287.0,269.5 1294.4,259.0 1301.9,243.3 1309.4,227.6 1316.8,240.2 1324.3,298.2 1331.8,229.3 1339.3,316.9 1346.7,315.6 1354.2,292.2 1361.7,281.3 1369.1,321.6 1376.6,307.0 1384.1,320.9 1391.5,317.4 1399.0,354.9 1406.5,304.9 1414.0,325.0 1421.4,395.9 1428.9,400.6 1436.4,349.0 1443.8,387.6 1451.3,344.9 1458.8,406.5 1466.2,406.4 1473.7,426.0 1481.2,402.1 1488.7,439.1 1496.1,397.9 1503.6,392.3 1511.1,463.8 1518.5,449.7 1526.0,407.3 1533.5,484.2 1541.0,416.0 1548.4,488.5 1555.9,487.8 1563.4,445.0 1570.8,456.7 1578.3,493.6 1585.8,473.0 1593.2,494.7 1600.7,533.7 1608.2,499.9 1615.7,476.2 1623.1,509.9 1630.6,526.4" stroke="#0072BD"/>
<path d="M891.0,129.5 898.5,136.9 906.0,88.8 913.4,165.5 920.9,91.6 928.4,131.8 935.8,130.3 943.3,136.2 950.8,132.9 958.3,159.5 965.7,148.3 973.2,114.2 980.7,134.1 988.1,103.9 995.6,150.4 1003.1,102.7 1010.5,100.8 1018.0,128.9 1025.5,129.5 1033.0,138.2 1040.4,104.0 1047.9,115.7 1055.4,159.3 1062.8,111.2 1070.3,161.1 1077.8,141.9 1085.3,104.2 1092.7,119.3 1100.2,155.9 1107.7,155.8 1115.1,161.4 1122.6,176.5 1130.1,114.3 1137.5,148.5 1145.0,157.7 1152.5,183.7 1160.0,117.4 1167.4,168.6 1174.9,155.0 1182.4,185.3 1189.8,183.7 1197.3,175.1 1204.8,189.6 1212.3,158.6 1219.7,219.6 1227.2,149.0 1234.7,208.6 1242.1,221.8 1249.6,228.5 1257.1,175.8 1264.5,203.0 1272.0,195.4 1279.5,230.1 1287.0,261.9 1294.4,271.9 1301.9,201.3 1309.4,253.9 1316.8,264.6 1324.3,294.7 1331.8,242.6 1339.3,237.1 1346.7,296.4 1354.2,318.6 1361.7,284.8 1369.1,331.4 1376.6,339.9 1384.1,286.5 1391.5,302.0 1399.0,295.8 1406.5,362.9 1414.0,316.8 1421.4,364.1 1428.9,360.0 1436.4,396.3 1443.8,400.2 1451.3,407.4 1458.8,388.6 1466.2,386.8 1473.7,438.1 1481.2,427.7 1488.7,417.7 1496.1,391.4 1503.6,403.0 1511.1,446.4 1518.5,407.2 1526.0,408.9 1533.5,457.9 1541.0,478.1 1548.4,484.4 1555.9,466.8 1563.4,475.3 1570.8,452.3 1578.3,506.2 1585.8,470.4 1593.2,521.0 1600.7,515.7 1608.2,507.5 1615.7,473.0 1623.1,541.1 1630.6,545.4" stroke="#D95319"/>
<path d="M891.0,129.5 898.5,150.1 906.0,154.4 913.4,134.6 920.9,107.7 928.4,164.9 935.8,112.1 943.3,105.6 950.8,108.8 958.3,117.7 965.7,117.0 973.2,157.4 980.7,96.3 988.1,103.3 995.6,162.1 1003.1,141.4 1010.5,163.2 1018.0,159.8 1025.5,92.7 1033.0,97.6 1040.4,156.9 1047.9,132.9 1055.4,156.3 1062.8,140.4 1070.3,103.4 1077.8,109.4 1085.3,95.6 1092.7,109.0 1100.2,137.7 1107.7,156.2 1115.1,112.3 1122.6,162.1 1130.1,175.3 1137.5,118.0 1145.0,169.0 1152.5,129.5 1160.0,188.2 1167.4,170.9 1174.9,146.6 1182.4,144.4 1189.8,170.6 1197.3,148.8 1204.8,168.0 1212.3,143.1 1219.7,198.1 1227.2,155.9 1234.7,171.0 1242.1,204.6 1249.6,187.9 1257.1,230.2 1264.5,173.4 1272.0,183.1 1279.5,225.5 1287.0,221.2 1294.4,199.4 1301.9,281.4 1309.4,220.0 1316.8,213.4 1324.3,224.4 1331.8,283.1 1339.3,269.0 1346.7,297.5 1354.2,247.5 1361.7,261.6 1369.1,312.3 1376.6,316.2 1384.1,348.3 1391.5,321.6 1399.0,308.9 1406.5,313.3 1414.0,366.9 1421.4,331.8 1428.9,351.2 1436.4,399.2 1443.8,368.4 1451.3,392.7 1458.8,361.8 1466.2,379.7 1473.7,428.6 1481.2,408.9 1488.7,426.8 1496.1,402.0 1503.6,435.2 1511.1,392.2 1518.5,435.2 1526.0,454.1 1533.5,410.0 1541.0,436.4 1548.4,474.5 1555.9,456.1 1563.4,481.8 1570.8,510.5 1578.3,506.9 1585.8,462.4 1593.2,457.7 1600.7,506.6 1608.2,480.7 1615.7,512.9 1623.1,519.6 1630.6,501.9" stroke="#EDB120"/>
<path d="M891.0,129.5 898.5,160.9 906.0,89.7 913.4,153.2 920.9,152.0 928.4,147.4 935.8,115.4 943.3,163.1 950.8,113.1 958.3,119.4 965.7,95.9 973.2,142.7 980.7,141.2 988.1,166.1 995.6,98.2 1003.1,140.0 1010.5,138.7 1018.0,152.7 1025.5,124.7 1033.0,157.7 1040.4,105.3 1047.9,164.7 1055.4,97.6 1062.8,119.9 1070.3,138.4 1077.8,146.2 1085.3,120.9 1092.7,172.3 1100.2,126.2 1107.7,165.6 1115.1,141.3 1122.6,104.8 1130.1,147.1 1137.5,150.7 1145.0,158.0 1152.5,119.3 1160.0,165.1 1167.4,166.2 1174.9,149.9 1182.4,200.7 1189.8,168.7 1197.3,185.0 1204.8,138.1 1212.3,144.8 1219.7,158.2 1227.2,166.9 1234.7,210.2 1242.1,202.0 1249.6,163.8 1257.1,170.8 1264.5,234.7 1272.0,210.6 1279.5,210.0 1287.0,198.0 1294.4,234.9 1301.9,252.3 1309.4,256.6 1316.8,254.7 1324.3,290.6 1331.8,236.4 1339.3,276.2 1346.7,253.5 1354.2,263.9 1361.7,324.3 1369.1,335.8 1376.6,335.6 1384.1,343.3 1391.5,334.0 1399.0,359.3 1406.5,319.6 1414.0,359.6 1421.4,334.6 1428.9,337.7 1436.4,373.7 1443.8,405.6 1451.3,383.8 1458.8,385.5 1466.2,364.3 1473.7,404.5 1481.2,419.9 1488.7,372.8 1496.1,394.0 1503.6,423.0 1511.1,450.6 1518.5,440.1 1526.0,470.2 1533.5,429.5 1541.0,482.1 1548.4,426.7 1555.9,477.3 1563.4,442.6 1570.8,496.5 1578.3,483.4 1585.8,486.4 1593.2,513.7 1600.7,482.2 1608.2,515.9 1615.7,457.3 1623.1,527.1 1630.6,517.9" stroke="#7E2F8E"/>
<path d="M891.0,129.5 898.5,98.8 906.0,156.6 913.4,121.0 920.9,160.8 928.4,145.6 935.8,89.6 943.3,112.5 950.8,95.0 958.3,148.4 965.7,162.2 973.2,137.1 980.7,123.0 988.1,116.9 995.6,108.4 1003.1,94.4 1010.5,148.6 1018.0,151.0 1025.5,156.9 1033.0,100.2 1040.4,161.0 1047.9,104.8 1055.4,113.2 1062.8,173.4 1070.3,146.6 1077.8,160.5 1085.3,113.3 1092.7,95.8 1100.2,148.5 1107.7,176.7 1115.1,147.2 1122.6,142.5 1130.1,183.7 1137.5,105.2 1145.0,161.9 1152.5,107.4 1160.0,128.5 1167.4,161.3 1174.9,135.6 1182.4,160.6 1189.8,179.7 1197.3,164.1 1204.8,139.9 1212.3,191.6 1219.7,130.7 1227.2,168.0 1234.7,211.2 1242.1,194.5 1249.6,213.8 1257.1,145.7 1264.5,147.9 1272.0,182.4 1279.5,211.5 1287.0,199.1 1294.4,177.0 1301.9,181.8 1309.4,224.9 1316.8,207.4 1324.3,170.4 1331.8,189.6 1339.3,186.0 1346.7,228.2 1354.2,205.7 1361.7,191.4 1369.1,262.8 1376.6,261.7 1384.1,228.1 1391.5,266.3 1399.0,217.0 1406.5,216.8 1414.0,272.9 1421.4,238.2 1428.9,263.0 1436.4,237.7 1443.8,273.9 1451.3,265.5 1458.8,245.4 1466.2,314.6 1473.7,296.5 1481.2,306.1 1488.7,312.2 1496.1,278.6 1503.6,299.0 1511.1,313.8 1518.5,333.1 1526.0,325.8 1533.5,336.3 1541.0,310.7 1548.4,351.9 1555.9,360.3 1563.4,323.8 1570.8,330.8 1578.3,373.4 1585.8,326.0 1593.2,375.4 1600.7,316.2 1608.2,324.9 1615.7,390.4 1623.1,373.8 1630.6,377.5" stroke="#77AC30"/>
<path d="M891.0,129.5 898.5,121.8 906.0,163.4 913.4,109.8 920.9,116.4 928.4,154.2 935.8,162.1 943.3,97.6 950.8,107.7 958.3,160.8 965.7,146.5 973.2,157.3 980.7,146.8 988.1,135.8 995.6,97.4 1003.1,142.2 1010.5,139.9 1018.0,157.1 1025.5,114.0 1033.0,143.7 1040.4,142.0 1047.9,132.6 1055.4,111.2 1062.8,127.1 1070.3,121.4 1077.8,126.1 1085.3,112.2 1092.7,116.5 1100.2,175.7 1107.7,154.2 1115.1,120.2 1122.6,137.0 1130.1,144.6 1137.5,122.5 1145.0,126.7 1152.5,155.3 1160.0,177.5 1167.4,133.7 1174.9,142.1 1182.4,117.9 1189.8,197.5 1197.3,176.8 1204.8,177.3 1212.3,185.9 1219.7,179.4 1227.2,127.7 1234.7,157.2 1242.1,188.9 1249.6,142.4 1257.1,172.9 1264.5,188.9 1272.0,145.4 1279.5,229.2 1287.0,182.1 1294.4,198.4 1301.9,220.4 1309.4,240.2 1316.8,211.6 1324.3,248.5 1331.8,228.9 1339.3,176.3 1346.7,209.3 1354.2,265.7 1361.7,218.5 1369.1,215.4 1376.6,224.2 1384.1,245.1 1391.5,214.8 1399.0,242.5 1406.5,282.2 1414.0,285.2 1421.4,279.8 1428.9,232.5 1436.4,245.2 1443.8,255.2 1451.3,277.4 1458.8,316.2 1466.2,264.3 1473.7,256.2 1481.2,328.9 1488.7,269.7 1496.1,277.2 1503.6,261.3 1511.1,334.0 1518.5,278.2 1526.0,330.1 1533.5,337.7 1541.0,331.4 1548.4,295.8 1555.9,341.7 1563.4,343.8 1570.8,338.4 1578.3,318.0 1585.8,365.4 1593.2,329.9 1600.7,309.3 1608.2,312.7 1615.7,337.4 1623.1,342.5 1630.6,334.2" stroke="#4DBEEE"/>
<path d="M891.0,129.5 898.5,139.8 906.0,147.7 913.4,113.1 920.9,138.1 928.4,149.6 935.8,169.7 943.3,101.6 950.8,122.7 958.3,114.6 965.7,130.0 973.2,141.4 980.7,156.4 988.1,103.6 995.6,142.8 1003.1,125.6 1010.5,95.4 1018.0,94.4 1025.5,106.3 1033.0,98.8 1040.4,111.0 1047.9,94.9 1055.4,92.4 1062.8,97.2 1070.3,172.9 1077.8,156.0 1085.3,97.5 1092.7,159.8 1100.2,165.8 1107.7,115.9 1115.1,159.5 1122.6,126.3 1130.1,169.6 1137.5,118.0 1145.0,126.9 1152.5,142.2 1160.0,171.2 1167.4,171.8 1174.9,181.7 1182.4,123.8 1189.8,185.3 1197.3,158.4 1204.8,133.7 1212.3,177.1 1219.7,142.9 1227.2,194.0 1234.7,130.5 1242.1,209.9 1249.6,180.5 1257.1,178.6 1264.5,181.4 1272.0,203.2 1279.5,189.7 1287.0,159.7 1294.4,227.2 1301.9,203.3 1309.4,242.6 1316.8,198.3 1324.3,194.0 1331.8,202.2 1339.3,226.5 1346.7,219.7 1354.2,190.4 1361.7,227.3 1369.1,211.1 1376.6,239.0 1384.1,256.4 1391.5,252.2 1399.0,263.5 1406.5,227.1 1414.0,223.5 1421.4,230.3 1428.9,271.7 1436.4,298.7 1443.8,279.5 1451.3,305.2 1458.8,296.1 1466.2,314.2 1473.7,303.7 1481.2,273.0 1488.7,264.3 1496.1,278.7 1503.6,327.6 1511.1,312.6 1518.5,284.1 1526.0,296.6 1533.5,341.8 1541.0,344.8 1548.4,300.7 1555.9,359.5 1563.4,359.0 1570.8,304.5 1578.3,316.3 1585.8,310.8 1593.2,315.0 1600.7,348.4 1608.2,333.0 1615.7,342.6 1623.1,326.3 1630.6,390.3" stroke="#A2142F"/>
<path d="M891.0,129.5 898.5,134.4 906.0,167.4 913.4,143.7 920.9,171.0 928.4,138.4 935.8,91.8 943.3,154.1 950.8,149.2 958.3,129.5 965.7,110.3 973.2,106.4 980.7,140.9 988.1,163.0 995.6,132.5 1003.1,103.6 1010.5,96.0 1018.0,144.0 1025.5,161.2 1033.0,135.5 1040.4,168.4 1047.9,157.0 1055.4,160.1 1062.8,167.0 1070.3,153.7 1077.8,141.2 1085.3,146.1 1092.7,172.4 1100.2,164.6 1107.7,166.9 1115.1,139.3 1122.6,156.5 1130.1,158.0 1137.5,112.0 1145.0,124.9 1152.5,165.0 1160.0,129.4 1167.4,170.8 1174.9,168.4 1182.4,171.4 1189.8,134.9 1197.3,174.0 1204.8,199.3 1212.3,177.9 1219.7,177.7 1227.2,156.3 1234.7,146.1 1242.1,155.9 1249.6,157.3 1257.1,140.3 1264.5,223.0 1272.0,199.4 1279.5,192.6 1287.0,209.0 1294.4,176.6 1301.9,208.5 1309.4,213.0 1316.8,209.9 1324.3,195.7 1331.8,236.5 1339.3,199.9 1346.7,237.8 1354.2,192.8 1361.7,215.1 1369.1,193.8 1376.6,213.9 1384.1,221.9 1391.5,272.0 1399.0,261.6 1406.5,285.1 1414.0,226.0 1421.4,281.4 1428.9,245.4 1436.4,270.3 1443.8,270.8 1451.3,301.4 1458.8,303.3 1466.2,253.7 1473.7,285.0 1481.2,275.6 1488.7,324.8 1496.1,257.8 1503.6,285.1 1511.1,281.4 1518.5,337.6 1526.0,304.4 1533.5,329.4 1541.0,333.6 1548.4,345.3 1555.9,357.7 1563.4,340.0 1570.8,321.0 1578.3,318.8 1585.8,356.6 1593.2,335.2 1600.7,315.9 1608.2,327.8 1615.7,348.2 1623.1,379.9 1630.6,381.8" stroke="#0072BD"/>
<path d="M891.0,129.5 898.5,88.3 906.0,111.3 913.4,114.5 920.9,171.2 928.4,125.2 935.8,108.6 943.3,140.3 950.8,98.7 958.3,144.6 965.7,88.5 973.2,147.7 980.7,152.6 988.1,123.7 995.6,154.0 1003.1,102.1 1010.5,158.0 1018.0,154.5 1025.5,165.8 1033.0,131.7 1040.4,154.3 1047.9,157.1 1055.4,93.8 1062.8,97.9 1070.3,138.6 1077.8,103.3 1085.3,157.0 1092.7,172.7 1100.2,122.3 1107.7,147.7 1115.1,174.6 1122.6,124.6 1130.1,151.9 1137.5,172.2 1145.0,155.1 1152.5,124.8 1160.0,168.2 1167.4,171.2 1174.9,129.9 1182.4,138.3 1189.8,123.6 1197.3,141.3 1204.8,152.2 1212.3,190.1 1219.7,161.0 1227.2,184.6 1234.7,172.8 1242.1,175.5 1249.6,199.3 1257.1,208.5 1264.5,209.0 1272.0,173.6 1279.5,196.5 1287.0,183.8 1294.4,153.9 1301.9,227.8 1309.4,179.4 1316.8,171.2 1324.3,234.2 1331.8,221.5 1339.3,198.9 1346.7,182.8 1354.2,204.7 1361.7,245.4 1369.1,259.4 1376.6,195.6 1384.1,239.8 1391.5,237.6 1399.0,279.7 1406.5,276.5 1414.0,243.4 1421.4,247.8 1428.9,236.4 1436.4,262.0 1443.8,261.9 1451.3,245.0 1458.8,291.6 1466.2,259.1 1473.7,298.6 1481.2,310.4 1488.7,332.2 1496.1,271.6 1503.6,269.8 1511.1,266.2 1518.5,292.1 1526.0,312.1 1533.5,310.4 1541.0,324.4 1548.4,299.8 1555.9,346.2 1563.4,335.0 1570.8,306.1 1578.3,293.9 1585.8,364.8 1593.2,314.5 1600.7,334.3 1608.2,370.9 1615.7,352.1 1623.1,314.5 1630.6,359.1" stroke="#D95319"/>
<path d="M891.0,129.5 898.5,135.7 906.0,136.6 913.4,104.4 920.9,142.7 928.4,140.8 935.8,105.8 943.3,150.0 950.8,88.8 958.3,132.3 965.7,143.1 973.2,166.2 980.7,127.1 988.1,103.4 995.6,105.9 1003.1,164.9 1010.5,157.4 1018.0,170.7 1025.5,155.8 1033.0,167.5 1040.4,94.2 1047.9,133.5 1055.4,153.1 1062.8,96.2 1070.3,148.7 1077.8,158.3 1085.3,161.4 1092.7,103.1 1100.2,131.5 1107.7,163.0 1115.1,121.8 1122.6,114.1 1130.1,164.3 1137.5,132.3 1145.0,121.1 1152.5,150.4 1160.0,180.5 1167.4,116.8 1174.9,133.2 1182.4,147.0 1189.8,142.2 1197.3,153.1 1204.8,177.5 1212.3,168.8 1219.7,175.7 1227.2,181.9 1234.7,202.7 1242.1,190.7 1249.6,178.1 1257.1,139.8 1264.5,162.5 1272.0,177.1 1279.5,201.3 1287.0,188.9 1294.4,165.2 1301.9,179.6 1309.4,159.4 1316.8,169.1 1324.3,198.8 1331.8,187.0 1339.3,194.9 1346.7,185.1 1354.2,208.9 1361.7,217.4 1369.1,231.1 1376.6,250.5 1384.1,264.1 1391.5,225.3 1399.0,224.0 1406.5,226.5 1414.0,292.9 1421.4,221.0 1428.9,237.1 1436.4,240.9 1443.8,302.5 1451.3,248.5 1458.8,313.1 1466.2,316.6 1473.7,258.0 1481.2,254.7 1488.7,259.1 1496.1,275.1 1503.6,339.0 1511.1,290.9 1518.5,308.7 1526.0,347.2 1533.5,347.0 1541.0,312.9 1548.4,341.7 1555.9,287.3 1563.4,321.1 1570.8,360.5 1578.3,344.9 1585.8,334.5 1593.2,368.8 1600.7,359.4 1608.2,354.3 1615.7,365.1 1623.1,335.1 1630.6,343.8" stroke="#EDB120"/>
<path d="M891.0,129.5 898.5,165.5 906.0,146.7 913.4,142.5 920.9,168.4 928.4,154.0 935.8,155.6 943.3,156.1 950.8,116.7 958.3,125.8 965.7,156.3 973.2,155.8 980.7,145.2 988.1,170.9 995.6,146.7 1003.1,117.4 1010.5,127.4 1018.0,122.5 1025.5,100.7 1033.0,110.0 1040.4,149.8 1047.9,99.5 1055.4,98.4 1062.8,126.1 1070.3,158.5 1077.8,120.8 1085.3,103.7 1092.7,168.6 1100.2,136.8 1107.7,177.4 1115.1,106.6 1122.6,105.7 1130.1,127.0 1137.5,173.0 1145.0,149.6 1152.5,175.1 1160.0,179.6 1167.4,126.7 1174.9,178.6 1182.4,144.8 1189.8,130.2 1197.3,153.3 1204.8,185.8 1212.3,200.5 1219.7,155.2 1227.2,163.0 1234.7,167.0 1242.1,192.0 1249.6,140.4 1257.1,175.0 1264.5,200.4 1272.0,164.2 1279.5,217.3 1287.0,177.7 1294.4,214.1 1301.9,225.8 1309.4,217.3 1316.8,205.0 1324.3,222.2 1331.8,199.1 1339.3,174.8 1346.7,209.0 1354.2,187.7 1361.7,220.2 1369.1,266.3 1376.6,269.4 1384.1,204.7 1391.5,274.0 1399.0,240.9 1406.5,286.5 1414.0,219.1 1421.4,269.4 1428.9,260.8 1436.4,290.5 1443.8,258.8 1451.3,267.8 1458.8,289.4 1466.2,265.0 1473.7,258.7 1481.2,301.9 1488.7,313.5 1496.1,309.5 1503.6,288.8 1511.1,263.2 1518.5,272.3 1526.0,316.2 1533.5,317.7 1541.0,320.1 1548.4,281.0 1555.9,351.0 1563.4,334.9 1570.8,320.1 1578.3,355.2 1585.8,347.3 1593.2,364.5 1600.7,347.0 1608.2,307.7 1615.7,352.5 1623.1,378.7 1630.6,325.7" stroke="#7E2F8E"/>
<path d="M891.0,129.5 898.5,98.1 906.0,112.1 913.4,152.0 920.9,131.1 928.4,131.4 935.8,154.3 943.3,169.6 950.8,161.6 958.3,148.1 965.7,113.6 973.2,109.4 980.7,96.6 988.1,161.5 995.6,136.3 1003.1,144.8 1010.5,124.0 1018.0,145.7 1025.5,141.5 1033.0,159.6 1040.4,91.9 1047.9,156.5 1055.4,107.6 1062.8,138.1 1070.3,175.4 1077.8,145.1 1085.3,160.1 1092.7,122.7 1100.2,107.4 1107.7,101.5 1115.1,108.6 1122.6,136.2 1130.1,150.8 1137.5,162.6 1145.0,138.9 1152.5,137.8 1160.0,139.1 1167.4,109.6 1174.9,185.9 1182.4,137.4 1189.8,148.2 1197.3,162.8 1204.8,190.5 1212.3,159.1 1219.7,183.1 1227.2,148.6 1234.7,164.7 1242.1,149.0 1249.6,197.0 1257.1,173.7 1264.5,152.1 1272.0,179.0 1279.5,208.3 1287.0,160.8 1294.4,228.1 1301.9,175.4 1309.4,170.1 1316.8,174.6 1324.3,179.2 1331.8,226.8 1339.3,191.9 1346.7,256.4 1354.2,219.2 1361.7,186.6 1369.1,268.6 1376.6,238.9 1384.1,263.3 1391.5,271.7 1399.0,272.4 1406.5,256.0 1414.0,267.4 1421.4,284.1 1428.9,266.3 1436.4,252.3 1443.8,260.3 1451.3,305.6 1458.8,283.8 1466.2,242.5 1473.7,300.6 1481.2,296.4 1488.7,254.1 1496.1,316.7 1503.6,266.4 1511.1,322.1 1518.5,267.5 1526.0,290.0 1533.5,279.8 1541.0,293.7 1548.4,337.3 1555.9,320.6 1563.4,309.2 1570.8,313.5 1578.3,340.7 1585.8,330.6 1593.2,323.9 1600.7,346.0 1608.2,347.6 1615.7,325.9 1623.1,377.1 1630.6,344.3" stroke="#77AC30"/>
<path d="M891.0,129.5 898.5,116.2 906.0,140.0 913.4,95.5 920.9,141.4 928.4,135.4 935.8,150.6 943.3,110.2 950.8,109.7 958.3,128.5 965.7,112.8 973.2,128.3 980.7,124.6 988.1,116.9 995.6,92.0 1003.1,100.9 1010.5,171.6 1018.0,96.2 1025.5,120.6 1033.0,101.1 1040.4,152.3 1047.9,133.2 1055.4,139.0 1062.8,108.5 1070.3,103.0 1077.8,146.6 1085.3,137.6 1092.7,159.1 1100.2,155.5 1107.7,129.0 1115.1,175.9 1122.6,137.2 1130.1,165.9 1137.5,165.5 1145.0,104.4 1152.5,172.0 1160.0,179.6 1167.4,180.6 1174.9,178.7 1182.4,117.5 1189.8,122.3 1197.3,116.7 1204.8,158.7 1212.3,177.7 1219.7,195.6 1227.2,160.6 1234.7,186.9 1242.1,184.3 1249.6,195.3 1257.1,209.9 1264.5,167.0 1272.0,174.3 1279.5,145.8 1287.0,194.2 1294.4,196.3 1301.9,197.7 1309.4,230.2 1316.8,226.9 1324.3,232.2 1331.8,217.1 1339.3,229.5 1346.7,233.0 1354.2,251.0 1361.7,204.1 1369.1,265.1 1376.6,250.6 1384.1,208.2 1391.5,206.9 1399.0,253.8 1406.5,223.8 1414.0,258.3 1421.4,262.4 1428.9,293.1 1436.4,285.8 1443.8,294.3 1451.3,292.8 1458.8,249.3 1466.2,263.8 1473.7,290.0 1481.2,308.9 1488.7,282.8 1496.1,255.2 1503.6,296.2 1511.1,283.1 1518.5,315.8 1526.0,300.1 1533.5,290.2 1541.0,326.4 1548.4,313.8 1555.9,297.4 1563.4,319.6 1570.8,345.5 1578.3,320.5 1585.8,294.1 1593.2,362.6 1600.7,365.9 1608.2,320.7 1615.7,375.5 1623.1,316.1 1630.6,363.0" stroke="#4DBEEE"/>
<path d="M891.0,129.5 898.5,111.7 906.0,129.2 913.4,167.9 920.9,141.1 928.4,97.5 935.8,113.2 943.3,96.5 950.8,159.5 958.3,149.9 965.7,109.9 973.2,101.9 980.7,166.7 988.1,171.6 995.6,120.2 1003.1,170.7 1010.5,95.4 1018.0,168.3 1025.5,139.0 1033.0,146.4 1040.4,107.4 1047.9,148.1 1055.4,105.0 1062.8,92.6 1070.3,153.2 1077.8,169.3 1085.3,136.9 1092.7,142.6 1100.2,165.7 1107.7,166.8 1115.1,107.7 1122.6,178.4 1130.1,166.0 1137.5,145.2 1145.0,132.3 1152.5,104.6 1160.0,180.8 1167.4,170.2 1174.9,148.1 1182.4,145.6 1189.8,133.0 1197.3,185.6 1204.8,190.5 1212.3,122.8 1219.7,200.6 1227.2,171.0 1234.7,130.8 1242.1,180.4 1249.6,144.3 1257.1,167.5 1264.5,178.0 1272.0,202.1 1279.5,159.6 1287.0,228.4 1294.4,202.7 1301.9,186.6 1309.4,182.0 1316.8,215.9 1324.3,163.6 1331.8,231.1 1339.3,181.4 1346.7,233.4 1354.2,205.5 1361.7,259.8 1369.1,256.9 1376.6,189.1 1384.1,272.4 1391.5,247.8 1399.0,276.0 1406.5,246.6 1414.0,225.3 1421.4,276.1 1428.9,225.4 1436.4,273.5 1443.8,252.1 1451.3,277.7 1458.8,267.1 1466.2,282.0 1473.7,250.4 1481.2,311.8 1488.7,312.7 1496.1,296.2 1503.6,264.4 1511.1,313.7 1518.5,278.3 1526.0,306.7 1533.5,337.8 1541.0,336.8 1548.4,273.9 1555.9,293.0 1563.4,325.2 1570.8,294.2 1578.3,285.7 1585.8,292.1 1593.2,300.5 1600.7,330.9 1608.2,374.5 1615.7,306.0 1623.1,384.4 1630.6,305.8" stroke="#A2142F"/>
<path d="M891.0,129.5 898.5,123.6 906.0,164.0 913.4,167.7 920.9,89.2 928.4,156.3 935.8,158.2 943.3,110.4 950.8,136.3 958.3,154.9 965.7,118.7 973.2,137.6 980.7,93.9 988.1,167.3 995.6,168.1 1003.1,141.6 1010.5,104.0 1018.0,163.5 1025.5,91.1 1033.0,167.1 1040.4,105.6 1047.9,95.8 1055.4,114.2 1062.8,153.5 1070.3,154.1 1077.8,145.6 1085.3,166.4 1092.7,171.2 1100.2,158.0 1107.7,98.9 1115.1,129.5 1122.6,113.2 1130.1,142.1 1137.5,124.3 1145.0,147.3 1152.5,123.1 1160.0,157.7 1167.4,188.3 1174.9,145.6 1182.4,163.5 1189.8,180.8 1197.3,142.3 1204.8,197.1 1212.3,165.5 1219.7,138.7 1227.2,127.3 1234.7,159.3 1242.1,186.9 1249.6,202.2 1257.1,141.6 1264.5,204.2 1272.0,200.7 1279.5,205.3 1287.0,207.3 1294.4,178.2 1301.9,206.2 1309.4,237.4 1316.8,191.5 1324.3,239.6 1331.8,173.6 1339.3,209.5 1346.7,215.8 1354.2,235.2 1361.7,213.8 1369.1,249.1 1376.6,234.5 1384.1,252.9 1391.5,213.2 1399.0,231.5 1406.5,212.8 1414.0,269.4 1421.4,245.0 1428.9,285.0 1436.4,246.1 1443.8,291.4 1451.3,291.1 1458.8,304.7 1466.2,249.7 1473.7,268.4 1481.2,296.7 1488.7,311.9 1496.1,250.8 1503.6,305.6 1511.1,337.8 1518.5,274.4 1526.0,333.6 1533.5,326.2 1541.0,334.3 1548.4,272.0 1555.9,340.6 1563.4,361.3 1570.8,350.3 1578.3,360.8 1585.8,328.2 1593.2,306.4 1600.7,323.4 1608.2,323.8 1615.7,380.2 1623.1,355.3 1630.6,382.1" stroke="#0072BD"/>
<path d="M891.0,129.5 898.5,151.9 906.0,162.1 913.4,157.4 920.9,132.1 928.4,110.6 935.8,152.0 943.3,147.1 950.8,111.3 958.3,124.9 965.7,150.3 973.2,161.6 980.7,157.8 988.1,112.8 995.6,95.3 1003.1,140.1 1010.5,97.8 1018.0,152.9 1025.5,96.3 1033.0,139.7 1040.4,113.1 1047.9,136.8 1055.4,106.4 1062.8,167.2 1070.3,155.3 1077.8,139.4 1085.3,97.1 1092.7,141.5 1100.2,113.8 1107.7,167.1 1115.1,179.8 1122.6,112.5 1130.1,167.6 1137.5,107.0 1145.0,167.0 1152.5,115.4 1160.0,178.8 1167.4,113.7 1174.9,108.4 1182.4,114.8 1189.8,187.0 1197.3,117.3 1204.8,164.3 1212.3,157.8 1219.7,155.8 1227.2,146.6 1234.7,183.3 1242.1,188.2 1249.6,208.5 1257.1,206.4 1264.5,155.6 1272.0,141.3 1279.5,160.3 1287.0,177.9 1294.4,207.7 1301.9,166.2 1309.4,200.7 1316.8,210.6 1324.3,203.0 1331.8,246.4 1339.3,224.4 1346.7,234.8 1354.2,256.8 1361.7,211.9 1369.1,205.3 1376.6,260.4 1384.1,220.2 1391.5,217.9 1399.0,242.2 1406.5,237.5 1414.0,262.4 1421.4,277.5 1428.9,240.9 1436.4,234.8 1443.8,269.7 1451.3,270.8 1458.8,271.5 1466.2,236.6 1473.7,275.6 1481.2,244.6 1488.7,270.8 1496.1,266.3 1503.6,307.9 1511.1,268.7 1518.5,323.8 1526.0,283.9 1533.5,270.7 1541.0,337.1 1548.4,326.6 1555.9,300.8 1563.4,350.1 1570.8,305.6 1578.3,353.3 1585.8,297.2 1593.2,370.6 1600.7,355.7 1608.2,327.1 1615.7,367.2 1623.1,335.9 1630.6,313.2" stroke="#D95319"/>
<path d="M891.0,129.5 898.5,128.2 906.0,138.1 913.4,89.6 920.9,112.3 928.4,168.4 935.8,98.4 943.3,129.4 950.8,133.7 958.3,153.7 965.7,121.8 973.2,131.0 980.7,135.7 988.1,154.3 995.6,105.0 1003.1,108.3 1010.5,150.8 1018.0,164.2 1025.5,97.9 1033.0,172.4 1040.4,125.5 1047.9,163.4 1055.4,144.4 1062.8,157.2 1070.3,152.7 1077.8,95.4 1085.3,108.3 1092.7,107.9 1100.2,105.9 1107.7,103.8 1115.1,139.7 1122.6,137.4 1130.1,166.0 1137.5,167.3 1145.0,128.8 1152.5,132.1 1160.0,134.1 1167.4,175.1 1174.9,140.9 1182.4,175.9 1189.8,190.3 1197.3,136.8 1204.8,137.1 1212.3,156.6 1219.7,185.4 1227.2,158.8 1234.7,197.5 1242.1,143.6 1249.6,158.9 1257.1,154.0 1264.5,154.6 1272.0,147.2 1279.5,209.0 1287.0,164.8 1294.4,164.0 1301.9,159.8 1309.4,199.8 1316.8,204.3 1324.3,188.9 1331.8,188.3 1339.3,248.7 1346.7,226.9 1354.2,205.3 1361.7,238.4 1369.1,192.4 1376.6,196.4 1384.1,262.8 1391.5,235.1 1399.0,276.9 1406.5,279.8 1414.0,223.0 1421.4,217.9 1428.9,280.5 1436.4,221.7 1443.8,286.4 1451.3,265.1 1458.8,299.1 1466.2,236.1 1473.7,278.9 1481.2,319.5 1488.7,248.3 1496.1,308.7 1503.6,277.2 1511.1,300.0 1518.5,280.4 1526.0,311.9 1533.5,297.0 1541.0,317.2 1548.4,332.0 1555.9,349.3 1563.4,312.8 1570.8,337.1 1578.3,304.7 1585.8,343.2 1593.2,365.6 1600.7,374.5 1608.2,318.3 1615.7,327.0 1623.1,365.1 1630.6,384.6" stroke="#EDB120"/>
<path d="M891.0,129.5 898.5,106.8 906.0,138.4 913.4,111.0 920.9,108.2 928.4,104.8 935.8,99.2 943.3,113.6 950.8,140.6 958.3,107.4 965.7,120.9 973.2,157.2 980.7,130.9 988.1,120.5 995.6,143.2 1003.1,105.3 1010.5,131.4 1018.0,107.6 1025.5,155.5 1033.0,107.5 1040.4,114.2 1047.9,117.4 1055.4,122.8 1062.8,104.7 1070.3,151.5 1077.8,175.8 1085.3,132.7 1092.7,158.6 1100.2,106.6 1107.7,166.6 1115.1,161.8 1122.6,158.0 1130.1,159.8 1137.5,169.8 1145.0,184.6 1152.5,123.7 1160.0,139.7 1167.4,120.7 1174.9,149.1 1182.4,146.4 1189.8,120.3 1197.3,158.4 1204.8,146.7 1212.3,193.9 1219.7,154.5 1227.2,200.0 1234.7,190.3 1242.1,153.1 1249.6,199.8 1257.1,177.3 1264.5,194.1 1272.0,196.7 1279.5,150.4 1287.0,194.2 1294.4,193.8 1301.9,190.8 1309.4,225.2 1316.8,197.2 1324.3,208.8 1331.8,189.7 1339.3,247.7 1346.7,249.0 1354.2,229.3 1361.7,238.7 1369.1,263.6 1376.6,255.3 1384.1,234.5 1391.5,207.7 1399.0,208.7 1406.5,223.6 1414.0,223.3 1421.4,220.1 1428.9,256.7 1436.4,253.5 1443.8,285.8 1451.3,256.8 1458.8,239.8 1466.2,293.3 1473.7,248.6 1481.2,307.6 1488.7,245.4 1496.1,259.5 1503.6,260.2 1511.1,299.8 1518.5,257.0 1526.0,335.2 1533.5,314.3 1541.0,299.9 1548.4,347.1 1555.9,328.6 1563.4,357.6 1570.8,337.4 1578.3,309.7 1585.8,308.6 1593.2,301.0 1600.7,325.6 1608.2,313.8 1615.7,311.7 1623.1,321.5 1630.6,355.4" stroke="#7E2F8E"/>
<path d="M891.0,129.5 898.5,145.7 906.0,126.3 913.4,108.1 920.9,132.3 928.4,124.0 935.8,90.3 943.3,147.4 950.8,113.4 958.3,98.8 965.7,99.8 973.2,156.4 980.7,166.0 988.1,124.9 995.6,164.7 1003.1,138.2 1010.5,104.2 1018.0,158.0 1025.5,89.7 1033.0,160.5 1040.4,148.6 1047.9,124.2 1055.4,144.5 1062.8,137.5 1070.3,107.2 1077.8,134.4 1085.3,163.9 1092.7,145.8 1100.2,146.6 1107.7,161.1 1115.1,124.0 1122.6,149.3 1130.1,177.3 1137.5,129.7 1145.0,116.8 1152.5,132.2 1160.0,124.1 1167.4,131.1 1174.9,127.0 1182.4,155.2 1189.8,119.0 1197.3,157.7 1204.8,191.6 1212.3,189.1 1219.7,160.0 1227.2,184.9 1234.7,195.9 1242.1,191.3 1249.6,184.9 1257.1,140.3 1264.5,204.5 1272.0,155.4 1279.5,217.3 1287.0,156.9 1294.4,217.0 1301.9,176.2 1309.4,214.4 1316.8,169.3 1324.3,180.0 1331.8,236.1 1339.3,218.5 1346.7,194.4 1354.2,221.5 1361.7,237.5 1369.1,252.4 1376.6,246.3 1384.1,193.2 1391.5,244.3 1399.0,243.3 1406.5,232.4 1414.0,205.0 1421.4,209.4 1428.9,209.9 1436.4,290.3 1443.8,277.5 1451.3,232.0 1458.8,275.6 1466.2,256.9 1473.7,314.3 1481.2,249.8 1488.7,248.2 1496.1,300.9 1503.6,294.7 1511.1,263.5 1518.5,288.7 1526.0,316.3 1533.5,338.8 1541.0,301.8 1548.4,305.0 1555.9,271.0 1563.4,299.5 1570.8,346.9 1578.3,297.2 1585.8,325.3 1593.2,352.2 1600.7,337.2 1608.2,374.7 1615.7,338.7 1623.1,358.1 1630.6,331.7" stroke="#77AC30"/>
</g>
<text transform="translate(434.10 21.00) scale(1 1.0500)" font-size="27.7" text-anchor="middle" fill="#000">Synthetic Dose-Response Curves without Noise</text>
<text transform="translate(1214.90 24.00) scale(1 1.0500)" font-size="27.7" text-anchor="middle" fill="#000">Synthetic Dose-Response Curves with Noise</text>
<text transform="translate(450.40 1019.30) scale(1 0.9650)" font-size="21.4" text-anchor="middle" fill="#262626">Synthetic Dose Range</text>
<text transform="translate(1257.50 1019.30) scale(1 0.9650)" font-size="21.4" text-anchor="middle" fill="#262626">Synthetic Dose Range</text>
<text transform="translate(26.70 505.55) rotate(-90)" font-size="36.2" text-anchor="middle" fill="#262626">Cell Viability</text>
<text transform="translate(125.55 91.80) scale(1 1.0450)" font-size="28.2" text-anchor="middle" fill="#0000FF">(a)</text>
<text transform="translate(1579.20 96.70) scale(1 1.0450)" font-size="28.2" text-anchor="middle" fill="#0000FF">(b)</text>
</svg></body></html>
